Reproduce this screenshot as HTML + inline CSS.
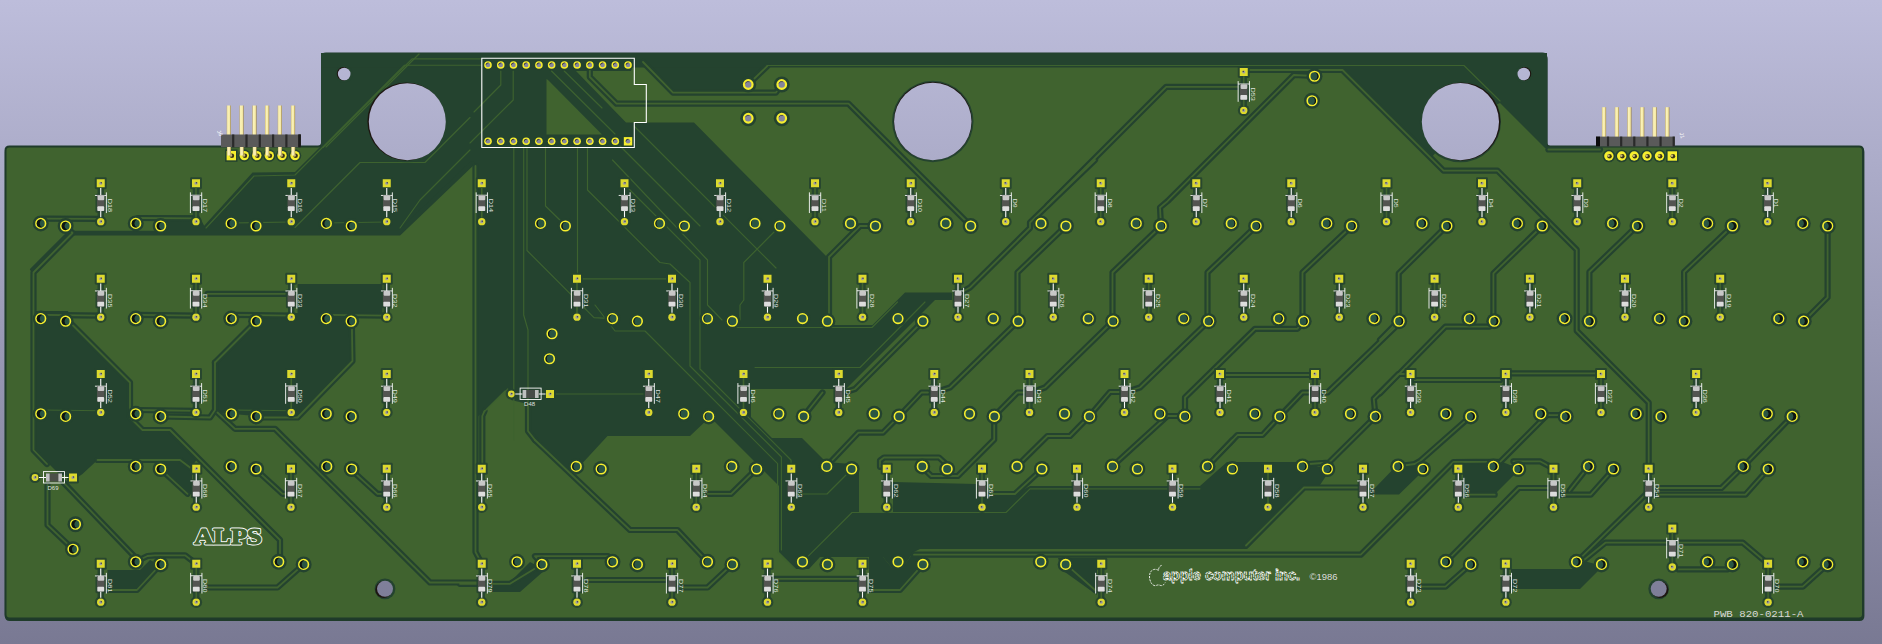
<!DOCTYPE html>
<html lang="en">
<head>
<meta charset="utf-8">
<title>PCB 3D view</title>
<style>
html,body{margin:0;padding:0;background:#797993;}
body{width:1882px;height:644px;overflow:hidden;}
svg{display:block;}
text{white-space:pre;}
</style>
</head>
<body>
<svg width="1882" height="644" viewBox="0 0 1882 644">
<defs><linearGradient id="bg" gradientUnits="userSpaceOnUse" x1="0" y1="0" x2="0" y2="644">
<stop offset="0" stop-color="#bdbddb"/>
<stop offset="1" stop-color="#797993"/>
</linearGradient>
<linearGradient id="pin" x1="0" y1="0" x2="1" y2="0"><stop offset="0" stop-color="#c9b36a"/><stop offset="0.25" stop-color="#fbf3ba"/><stop offset="0.7" stop-color="#f6eaa6"/><stop offset="1" stop-color="#9a8248"/></linearGradient>
</defs>
<rect x="0" y="0" width="1882" height="644" fill="url(#bg)"/>
<path d="M9.5 146.5H318Q322 146.5 322 142.5V57.5Q322 53.5 326 53.5H1542.2Q1546.2 53.5 1546.2 57.5V142.5Q1546.2 146.5 1550.2 146.5H1859Q1863 146.5 1863 150.5V614.5Q1863 618.5 1859 618.5H9.5Q5.5 618.5 5.5 614.5V150.5Q5.5 146.5 9.5 146.5Z" transform="translate(0.4,1.6)" fill="#1f3b2a" stroke="#1f3b2a" stroke-width="2" stroke-linejoin="round"/>
<path d="M9.5 146.5H318Q322 146.5 322 142.5V57.5Q322 53.5 326 53.5H1542.2Q1546.2 53.5 1546.2 57.5V142.5Q1546.2 146.5 1550.2 146.5H1859Q1863 146.5 1863 150.5V614.5Q1863 618.5 1859 618.5H9.5Q5.5 618.5 5.5 614.5V150.5Q5.5 146.5 9.5 146.5Z" fill="#40632f" stroke="#1f3b2a" stroke-width="2" stroke-linejoin="round"/>
<g id="zones">
<polygon points="321.0,53.0 767.0,53.0 767.0,66.0 749.0,84.0 749.0,92.7 673.0,92.7 643.0,62.0 634.0,62.0 631.0,71.0 576.0,71.0 626.0,122.6 694.0,122.6 731.0,160.0 827.5,257.5 828.8,325.0 872.5,325.0 905.0,292.5 952.0,292.5 952.0,300.0 935.0,300.0 846.0,389.0 751.0,389.0 751.0,417.0 772.0,438.0 802.0,438.0 826.0,462.0 851.0,464.0 859.0,466.0 859.0,512.0 893.0,512.0 893.0,482.0 976.0,484.0 976.0,494.0 1016.0,494.0 1030.0,486.0 1200.0,486.0 1227.0,462.0 1302.0,462.0 1330.0,470.0 1320.0,485.0 1305.0,490.0 1247.0,549.0 920.0,549.0 914.0,552.0 902.0,568.0 892.0,568.0 883.0,557.0 820.0,557.0 809.0,569.0 796.0,569.0 779.0,552.0 779.0,486.0 710.0,417.0 690.0,436.0 607.5,436.0 578.0,468.0 570.0,472.0 528.0,431.0 528.0,404.0 511.0,400.0 508.0,388.0 483.0,412.0 474.0,420.0 474.0,162.5 399.0,234.0 203.0,234.0 203.0,227.0 252.5,172.5 295.0,172.0 321.0,146.0" fill="#24432f"/>
<polygon points="321.0,53.0 1547.0,53.0 1547.0,67.5 321.0,67.5" fill="#24432f"/>
<polygon points="1342.0,67.0 1547.0,67.0 1547.0,148.0 1545.0,148.0 1500.0,103.0 1461.0,121.0 1432.0,157.0" fill="#24432f"/>
<polygon points="869.0,557.0 883.0,557.0 892.0,568.0 902.0,568.0 914.0,552.0 930.0,560.0 899.0,589.0 869.0,589.0" fill="#24432f"/>
<polygon points="35.0,311.0 68.0,311.0 72.5,325.0 130.0,382.5 130.0,417.5 142.5,430.0 170.0,430.0 198.0,458.0 192.0,466.0 192.0,494.0 187.0,494.0 163.0,470.0 155.0,460.0 97.5,460.0 82.5,474.0 78.0,477.0 60.0,475.0 35.0,450.0" fill="#24432f"/>
<polygon points="297.5,284.0 382.5,284.0 382.5,313.0 356.0,313.0 352.5,325.0 352.5,361.0 297.5,418.0 260.0,418.0 255.0,416.0 217.5,412.5 215.0,410.0 215.0,362.5 252.5,325.0 256.0,313.0 297.5,313.0" fill="#24432f"/>
<polygon points="150.0,215.5 199.0,215.5 205.0,227.5 203.0,233.0 166.0,233.0 160.0,227.0" fill="#24432f"/>
<polygon points="107.5,570.0 140.0,570.0 150.0,560.0 160.0,565.0 137.5,588.0 107.5,588.0" fill="#24432f"/>
<polygon points="492.0,582.0 510.0,582.0 530.0,562.0 545.0,570.0 520.0,592.0 492.0,592.0" fill="#24432f"/>
<polygon points="1452.0,461.0 1500.0,461.0 1520.0,469.0 1495.0,494.0 1463.0,494.0 1463.0,472.0 1452.0,472.0" fill="#24432f"/>
<polygon points="1511.0,569.0 1572.0,569.0 1580.0,560.0 1603.0,566.0 1580.0,589.0 1511.0,589.0" fill="#24432f"/>
<polygon points="1370.0,489.0 1374.0,489.0 1392.3,470.0 1398.0,462.0 1426.0,468.0 1420.3,473.8 1399.0,494.5 1370.0,494.5" fill="#24432f"/>
<polygon points="1058.0,558.0 1097.0,558.0 1097.0,595.0 1062.0,570.0" fill="#24432f"/>
<polygon points="546.5,79.0 546.5,134.5 602.0,134.5 548.0,80.0" fill="#40632f"/>
</g>
<g id="traces">
<polyline points="72.8,233.2 399.0,233.2 472.0,163.5" fill="none" stroke="#24432f" stroke-width="4.8" stroke-linejoin="round" stroke-linecap="round" />
<polyline points="70.0,231.0 31.5,269.5" fill="none" stroke="#24432f" stroke-width="3.0" stroke-linejoin="round" stroke-linecap="round" />
<polyline points="1238.0,86.8 1166.2,86.8 1047.5,205.5" fill="none" stroke="#24432f" stroke-width="6.2" stroke-linejoin="round" stroke-linecap="round" />
<polyline points="1314.0,76.0 1293.8,75.0 1167.5,201.2 1160.0,207.5 1161.0,226.0 1112.5,272.5 1112.5,321.0" fill="none" stroke="#24432f" stroke-width="6.2" stroke-linejoin="round" stroke-linecap="round" />
<polyline points="1095.0,160.0 1030.0,222.5 1030.0,228.0 970.0,287.5 962.0,292.0" fill="none" stroke="#24432f" stroke-width="6.2" stroke-linejoin="round" stroke-linecap="round" />
<polyline points="1548.4,149.5 1600.0,149.5" fill="none" stroke="#24432f" stroke-width="6.2" stroke-linejoin="round" stroke-linecap="round" />
<polyline points="1248.0,70.0 1342.5,70.0 1443.5,170.6 1497.5,170.6 1576.7,249.8 1576.7,330.7 1648.7,402.7 1648.7,466.0" fill="none" stroke="#24432f" stroke-width="6.2" stroke-linejoin="round" stroke-linecap="round" />
<polyline points="589.8,68.0 589.8,77.0 616.5,103.7 848.5,103.7 970.8,226.0" fill="none" stroke="#24432f" stroke-width="6.2" stroke-linejoin="round" stroke-linecap="round" />
<polyline points="643.0,62.0 673.0,92.7 775.8,92.7 781.8,84.5" fill="none" stroke="#24432f" stroke-width="6.2" stroke-linejoin="round" stroke-linecap="round" />
<polyline points="767.2,66.2 748.2,84.5" fill="none" stroke="#24432f" stroke-width="6.2" stroke-linejoin="round" stroke-linecap="round" />
<polyline points="1065.8,226.0 1017.5,272.5 1017.5,321.0" fill="none" stroke="#24432f" stroke-width="6.2" stroke-linejoin="round" stroke-linecap="round" />
<polyline points="1256.2,226.0 1207.5,272.5 1207.5,321.0" fill="none" stroke="#24432f" stroke-width="6.2" stroke-linejoin="round" stroke-linecap="round" />
<polyline points="1351.8,226.0 1302.5,272.5 1302.5,321.0" fill="none" stroke="#24432f" stroke-width="6.2" stroke-linejoin="round" stroke-linecap="round" />
<polyline points="1446.7,226.0 1398.7,273.4 1398.7,321.0 1380.0,340.0" fill="none" stroke="#24432f" stroke-width="6.2" stroke-linejoin="round" stroke-linecap="round" />
<polyline points="1542.2,226.0 1493.4,273.4 1493.4,321.0" fill="none" stroke="#24432f" stroke-width="6.2" stroke-linejoin="round" stroke-linecap="round" />
<polyline points="1637.1,226.0 1589.4,272.0 1589.4,321.0" fill="none" stroke="#24432f" stroke-width="6.2" stroke-linejoin="round" stroke-linecap="round" />
<polyline points="1732.4,226.0 1684.1,272.0 1684.5,321.0" fill="none" stroke="#24432f" stroke-width="6.2" stroke-linejoin="round" stroke-linecap="round" />
<polyline points="1827.6,226.0 1827.6,297.4 1804.1,321.0" fill="none" stroke="#24432f" stroke-width="6.2" stroke-linejoin="round" stroke-linecap="round" />
<polyline points="875.5,226.0 860.0,226.0 829.0,257.0 829.0,325.0" fill="none" stroke="#24432f" stroke-width="6.2" stroke-linejoin="round" stroke-linecap="round" />
<polyline points="43.0,218.6 100.8,218.9" fill="none" stroke="#24432f" stroke-width="6.2" stroke-linejoin="round" stroke-linecap="round" />
<polyline points="138.0,218.0 196.0,218.3" fill="none" stroke="#24432f" stroke-width="6.2" stroke-linejoin="round" stroke-linecap="round" />
<polyline points="65.5,226.0 72.5,233.0 33.5,272.5 33.5,450.0 47.0,464.0" fill="none" stroke="#24432f" stroke-width="6.2" stroke-linejoin="round" stroke-linecap="round" />
<polyline points="43.0,314.8 100.8,315.6" fill="none" stroke="#24432f" stroke-width="6.2" stroke-linejoin="round" stroke-linecap="round" />
<polyline points="138.0,314.8 196.0,315.6" fill="none" stroke="#24432f" stroke-width="6.2" stroke-linejoin="round" stroke-linecap="round" />
<polyline points="233.5,314.8 291.2,315.6" fill="none" stroke="#24432f" stroke-width="6.2" stroke-linejoin="round" stroke-linecap="round" />
<polyline points="328.5,314.8 386.8,315.6" fill="none" stroke="#24432f" stroke-width="6.2" stroke-linejoin="round" stroke-linecap="round" />
<polyline points="207.5,293.8 285.0,293.8" fill="none" stroke="#24432f" stroke-width="6.2" stroke-linejoin="round" stroke-linecap="round" />
<polyline points="215.0,362.5 215.0,410.0 210.0,417.5 161.0,416.5" fill="none" stroke="#24432f" stroke-width="6.2" stroke-linejoin="round" stroke-linecap="round" />
<polyline points="217.5,412.5 235.0,428.8 275.0,428.8 430.0,582.5 481.0,582.5" fill="none" stroke="#24432f" stroke-width="6.2" stroke-linejoin="round" stroke-linecap="round" />
<polyline points="252.5,325.0 215.0,362.5" fill="none" stroke="#24432f" stroke-width="6.2" stroke-linejoin="round" stroke-linecap="round" />
<polyline points="351.8,321.3 352.5,361.0 297.5,417.5 262.0,417.5" fill="none" stroke="#24432f" stroke-width="6.2" stroke-linejoin="round" stroke-linecap="round" />
<polyline points="138.0,410.0 196.0,410.8" fill="none" stroke="#24432f" stroke-width="6.2" stroke-linejoin="round" stroke-linecap="round" />
<polyline points="72.5,325.0 130.0,382.5 130.0,417.5 142.5,430.0 170.0,430.0 280.0,540.0 280.0,557.5" fill="none" stroke="#24432f" stroke-width="6.2" stroke-linejoin="round" stroke-linecap="round" />
<polyline points="63.0,482.0 133.5,555.5 135.8,561.8 147.5,556.0 155.0,555.3 185.0,555.3 196.2,563.8" fill="none" stroke="#24432f" stroke-width="6.2" stroke-linejoin="round" stroke-linecap="round" />
<polyline points="47.5,485.0 47.5,525.0 73.0,549.2" fill="none" stroke="#24432f" stroke-width="6.2" stroke-linejoin="round" stroke-linecap="round" />
<polyline points="97.5,460.0 180.0,460.0 190.0,467.5" fill="none" stroke="#24432f" stroke-width="6.2" stroke-linejoin="round" stroke-linecap="round" />
<polyline points="160.8,469.2 187.5,493.8" fill="none" stroke="#24432f" stroke-width="6.2" stroke-linejoin="round" stroke-linecap="round" />
<polyline points="257.5,471.0 282.5,493.8 287.0,493.8" fill="none" stroke="#24432f" stroke-width="6.2" stroke-linejoin="round" stroke-linecap="round" />
<polyline points="352.5,471.0 377.5,493.8 383.0,493.8" fill="none" stroke="#24432f" stroke-width="6.2" stroke-linejoin="round" stroke-linecap="round" />
<polyline points="207.5,587.5 277.5,587.5 303.8,564.2" fill="none" stroke="#24432f" stroke-width="6.2" stroke-linejoin="round" stroke-linecap="round" />
<polyline points="107.0,590.0 137.0,590.0 160.8,564.2" fill="none" stroke="#24432f" stroke-width="6.2" stroke-linejoin="round" stroke-linecap="round" />
<polyline points="1018.2,321.0 950.0,387.5 942.0,390.0" fill="none" stroke="#24432f" stroke-width="6.2" stroke-linejoin="round" stroke-linecap="round" />
<polyline points="928.0,392.5 921.5,392.5 899.2,416.2" fill="none" stroke="#24432f" stroke-width="6.2" stroke-linejoin="round" stroke-linecap="round" />
<polyline points="923.0,321.2 855.0,389.0 846.0,392.0" fill="none" stroke="#24432f" stroke-width="6.2" stroke-linejoin="round" stroke-linecap="round" />
<polyline points="1113.2,321.0 1045.0,387.5 1038.0,390.0" fill="none" stroke="#24432f" stroke-width="6.2" stroke-linejoin="round" stroke-linecap="round" />
<polyline points="1025.0,392.5 1017.5,392.5 994.2,416.2 994.2,439.5 957.8,476.0 931.4,476.0 921.4,466.5" fill="none" stroke="#24432f" stroke-width="6.2" stroke-linejoin="round" stroke-linecap="round" />
<polyline points="1208.8,321.0 1140.0,387.5 1132.0,390.0" fill="none" stroke="#24432f" stroke-width="6.2" stroke-linejoin="round" stroke-linecap="round" />
<polyline points="1120.0,392.0 1110.0,392.0 1089.5,416.0 1070.0,436.0 1047.5,436.0 1017.0,466.2" fill="none" stroke="#24432f" stroke-width="6.2" stroke-linejoin="round" stroke-linecap="round" />
<polyline points="1303.8,321.0 1297.5,328.8 1255.0,328.8 1185.0,397.5 1185.0,416.0 1167.5,416.0 1112.5,466.2" fill="none" stroke="#24432f" stroke-width="6.2" stroke-linejoin="round" stroke-linecap="round" />
<polyline points="1220.0,375.0 1315.0,375.0" fill="none" stroke="#24432f" stroke-width="6.2" stroke-linejoin="round" stroke-linecap="round" />
<polyline points="1399.0,323.5 1327.5,392.5 1322.0,392.5" fill="none" stroke="#24432f" stroke-width="6.2" stroke-linejoin="round" stroke-linecap="round" />
<polyline points="1310.0,392.5 1302.5,392.5 1280.0,416.0 1262.5,435.0 1237.5,435.0 1207.5,466.2" fill="none" stroke="#24432f" stroke-width="6.2" stroke-linejoin="round" stroke-linecap="round" />
<polyline points="1410.7,374.0 1398.5,374.0 1373.8,398.8 1375.5,416.4 1329.0,462.5 1302.5,464.5" fill="none" stroke="#24432f" stroke-width="6.2" stroke-linejoin="round" stroke-linecap="round" />
<polyline points="1494.2,321.0 1489.4,326.7 1445.4,326.7 1380.0,393.4" fill="none" stroke="#24432f" stroke-width="6.2" stroke-linejoin="round" stroke-linecap="round" />
<polyline points="1414.7,380.0 1500.0,380.0" fill="none" stroke="#24432f" stroke-width="6.2" stroke-linejoin="round" stroke-linecap="round" />
<polyline points="1505.9,373.4 1600.9,373.4" fill="none" stroke="#24432f" stroke-width="6.2" stroke-linejoin="round" stroke-linecap="round" />
<polyline points="1470.7,416.2 1420.0,461.0 1414.7,464.0 1398.0,466.4" fill="none" stroke="#24432f" stroke-width="6.2" stroke-linejoin="round" stroke-linecap="round" />
<polyline points="1546.7,415.2 1561.4,415.2" fill="none" stroke="#24432f" stroke-width="6.2" stroke-linejoin="round" stroke-linecap="round" />
<polyline points="1792.1,416.2 1743.3,466.4" fill="none" stroke="#24432f" stroke-width="6.2" stroke-linejoin="round" stroke-linecap="round" />
<polyline points="707.5,493.8 731.2,493.8 756.2,469.2" fill="none" stroke="#24432f" stroke-width="6.2" stroke-linejoin="round" stroke-linecap="round" />
<polyline points="535.0,440.0 630.0,530.0 677.5,530.0 707.5,561.8" fill="none" stroke="#24432f" stroke-width="6.2" stroke-linejoin="round" stroke-linecap="round" />
<polyline points="528.0,404.0 528.0,431.0 535.0,440.0" fill="none" stroke="#24432f" stroke-width="6.2" stroke-linejoin="round" stroke-linecap="round" />
<polyline points="475.5,166.0 475.5,552.0 481.8,563.8" fill="none" stroke="#24432f" stroke-width="6.2" stroke-linejoin="round" stroke-linecap="round" />
<polyline points="484.5,411.0 482.3,416.0 482.3,466.0" fill="none" stroke="#24432f" stroke-width="6.2" stroke-linejoin="round" stroke-linecap="round" />
<polyline points="460.0,583.8 510.0,583.8 542.0,564.2" fill="none" stroke="#24432f" stroke-width="6.2" stroke-linejoin="round" stroke-linecap="round" />
<polyline points="542.0,564.2 535.0,556.2 608.0,556.2 612.5,561.8" fill="none" stroke="#24432f" stroke-width="6.2" stroke-linejoin="round" stroke-linecap="round" />
<polyline points="587.5,580.0 665.0,580.0" fill="none" stroke="#24432f" stroke-width="6.2" stroke-linejoin="round" stroke-linecap="round" />
<polyline points="680.0,587.5 707.5,587.5 732.5,564.2" fill="none" stroke="#24432f" stroke-width="6.2" stroke-linejoin="round" stroke-linecap="round" />
<polyline points="775.0,578.8 857.5,578.8" fill="none" stroke="#24432f" stroke-width="6.2" stroke-linejoin="round" stroke-linecap="round" />
<polyline points="870.0,590.0 900.0,590.0 923.0,564.2" fill="none" stroke="#24432f" stroke-width="6.2" stroke-linejoin="round" stroke-linecap="round" />
<polyline points="826.8,466.0 858.4,432.6 883.0,432.6 899.2,416.2" fill="none" stroke="#24432f" stroke-width="6.2" stroke-linejoin="round" stroke-linecap="round" />
<polyline points="822.5,392.5 803.8,416.0" fill="none" stroke="#24432f" stroke-width="6.2" stroke-linejoin="round" stroke-linecap="round" />
<polyline points="880.0,466.8 880.0,460.5 884.0,457.5 939.0,457.5 948.4,466.0" fill="none" stroke="#24432f" stroke-width="6.2" stroke-linejoin="round" stroke-linecap="round" />
<polyline points="990.0,494.0 1015.0,494.0 1042.0,469.2" fill="none" stroke="#24432f" stroke-width="6.2" stroke-linejoin="round" stroke-linecap="round" />
<polyline points="1232.5,440.0 1207.5,466.2" fill="none" stroke="#24432f" stroke-width="6.2" stroke-linejoin="round" stroke-linecap="round" />
<polyline points="1358.0,487.5 1304.0,487.5 1246.0,545.5" fill="none" stroke="#24432f" stroke-width="6.2" stroke-linejoin="round" stroke-linecap="round" />
<polyline points="914.0,554.7 1360.8,554.7 1453.5,462.0 1500.4,461.7 1546.0,416.0" fill="none" stroke="#24432f" stroke-width="6.2" stroke-linejoin="round" stroke-linecap="round" />
<polyline points="1513.4,461.3 1540.0,461.3 1553.4,468.5" fill="none" stroke="#24432f" stroke-width="6.2" stroke-linejoin="round" stroke-linecap="round" />
<polyline points="1561.4,494.7 1590.7,494.7 1613.4,469.3" fill="none" stroke="#24432f" stroke-width="6.2" stroke-linejoin="round" stroke-linecap="round" />
<polyline points="1588.6,466.4 1569.4,490.7" fill="none" stroke="#24432f" stroke-width="6.2" stroke-linejoin="round" stroke-linecap="round" />
<polyline points="1657.4,488.0 1721.4,488.0 1743.3,466.4" fill="none" stroke="#24432f" stroke-width="6.2" stroke-linejoin="round" stroke-linecap="round" />
<polyline points="1657.0,494.7 1745.4,494.7 1768.1,469.3" fill="none" stroke="#24432f" stroke-width="6.2" stroke-linejoin="round" stroke-linecap="round" />
<polyline points="1549.4,488.0 1518.7,488.0 1445.9,561.9" fill="none" stroke="#24432f" stroke-width="6.2" stroke-linejoin="round" stroke-linecap="round" />
<polyline points="1494.7,494.7 1463.0,494.7" fill="none" stroke="#24432f" stroke-width="6.2" stroke-linejoin="round" stroke-linecap="round" />
<polyline points="1420.0,586.7 1445.4,586.7 1470.7,564.3" fill="none" stroke="#24432f" stroke-width="6.2" stroke-linejoin="round" stroke-linecap="round" />
<polyline points="1576.6,561.9 1649.4,490.7" fill="none" stroke="#24432f" stroke-width="6.2" stroke-linejoin="round" stroke-linecap="round" />
<polyline points="1584.0,560.0 1605.4,542.7 1666.7,542.7" fill="none" stroke="#24432f" stroke-width="6.2" stroke-linejoin="round" stroke-linecap="round" />
<polyline points="1678.7,542.7 1742.8,542.7 1768.1,564.0" fill="none" stroke="#24432f" stroke-width="6.2" stroke-linejoin="round" stroke-linecap="round" />
<polyline points="1678.7,569.4 1728.0,569.4 1732.1,564.3" fill="none" stroke="#24432f" stroke-width="6.2" stroke-linejoin="round" stroke-linecap="round" />
<polyline points="1777.4,586.7 1802.8,586.7 1827.6,564.3" fill="none" stroke="#24432f" stroke-width="6.2" stroke-linejoin="round" stroke-linecap="round" />
<polyline points="1065.8,564.2 1095.0,590.0" fill="none" stroke="#24432f" stroke-width="6.2" stroke-linejoin="round" stroke-linecap="round" />
<polyline points="1238.0,86.8 1166.2,86.8 1047.5,205.5" fill="none" stroke="#40632f" stroke-width="1.8" stroke-linejoin="round" stroke-linecap="round" />
<polyline points="1314.0,76.0 1293.8,75.0 1167.5,201.2 1160.0,207.5 1161.0,226.0 1112.5,272.5 1112.5,321.0" fill="none" stroke="#40632f" stroke-width="1.8" stroke-linejoin="round" stroke-linecap="round" />
<polyline points="1095.0,160.0 1030.0,222.5 1030.0,228.0 970.0,287.5 962.0,292.0" fill="none" stroke="#40632f" stroke-width="1.8" stroke-linejoin="round" stroke-linecap="round" />
<polyline points="1548.4,149.5 1600.0,149.5" fill="none" stroke="#40632f" stroke-width="1.8" stroke-linejoin="round" stroke-linecap="round" />
<polyline points="1248.0,70.0 1342.5,70.0 1443.5,170.6 1497.5,170.6 1576.7,249.8 1576.7,330.7 1648.7,402.7 1648.7,466.0" fill="none" stroke="#40632f" stroke-width="1.8" stroke-linejoin="round" stroke-linecap="round" />
<polyline points="589.8,68.0 589.8,77.0 616.5,103.7 848.5,103.7 970.8,226.0" fill="none" stroke="#40632f" stroke-width="1.8" stroke-linejoin="round" stroke-linecap="round" />
<polyline points="643.0,62.0 673.0,92.7 775.8,92.7 781.8,84.5" fill="none" stroke="#40632f" stroke-width="1.8" stroke-linejoin="round" stroke-linecap="round" />
<polyline points="767.2,66.2 748.2,84.5" fill="none" stroke="#40632f" stroke-width="1.8" stroke-linejoin="round" stroke-linecap="round" />
<polyline points="1065.8,226.0 1017.5,272.5 1017.5,321.0" fill="none" stroke="#40632f" stroke-width="1.8" stroke-linejoin="round" stroke-linecap="round" />
<polyline points="1256.2,226.0 1207.5,272.5 1207.5,321.0" fill="none" stroke="#40632f" stroke-width="1.8" stroke-linejoin="round" stroke-linecap="round" />
<polyline points="1351.8,226.0 1302.5,272.5 1302.5,321.0" fill="none" stroke="#40632f" stroke-width="1.8" stroke-linejoin="round" stroke-linecap="round" />
<polyline points="1446.7,226.0 1398.7,273.4 1398.7,321.0 1380.0,340.0" fill="none" stroke="#40632f" stroke-width="1.8" stroke-linejoin="round" stroke-linecap="round" />
<polyline points="1542.2,226.0 1493.4,273.4 1493.4,321.0" fill="none" stroke="#40632f" stroke-width="1.8" stroke-linejoin="round" stroke-linecap="round" />
<polyline points="1637.1,226.0 1589.4,272.0 1589.4,321.0" fill="none" stroke="#40632f" stroke-width="1.8" stroke-linejoin="round" stroke-linecap="round" />
<polyline points="1732.4,226.0 1684.1,272.0 1684.5,321.0" fill="none" stroke="#40632f" stroke-width="1.8" stroke-linejoin="round" stroke-linecap="round" />
<polyline points="1827.6,226.0 1827.6,297.4 1804.1,321.0" fill="none" stroke="#40632f" stroke-width="1.8" stroke-linejoin="round" stroke-linecap="round" />
<polyline points="875.5,226.0 860.0,226.0 829.0,257.0 829.0,325.0" fill="none" stroke="#40632f" stroke-width="1.8" stroke-linejoin="round" stroke-linecap="round" />
<polyline points="43.0,218.6 100.8,218.9" fill="none" stroke="#40632f" stroke-width="1.8" stroke-linejoin="round" stroke-linecap="round" />
<polyline points="138.0,218.0 196.0,218.3" fill="none" stroke="#40632f" stroke-width="1.8" stroke-linejoin="round" stroke-linecap="round" />
<polyline points="65.5,226.0 72.5,233.0 33.5,272.5 33.5,450.0 47.0,464.0" fill="none" stroke="#40632f" stroke-width="1.8" stroke-linejoin="round" stroke-linecap="round" />
<polyline points="43.0,314.8 100.8,315.6" fill="none" stroke="#40632f" stroke-width="1.8" stroke-linejoin="round" stroke-linecap="round" />
<polyline points="138.0,314.8 196.0,315.6" fill="none" stroke="#40632f" stroke-width="1.8" stroke-linejoin="round" stroke-linecap="round" />
<polyline points="233.5,314.8 291.2,315.6" fill="none" stroke="#40632f" stroke-width="1.8" stroke-linejoin="round" stroke-linecap="round" />
<polyline points="328.5,314.8 386.8,315.6" fill="none" stroke="#40632f" stroke-width="1.8" stroke-linejoin="round" stroke-linecap="round" />
<polyline points="207.5,293.8 285.0,293.8" fill="none" stroke="#40632f" stroke-width="1.8" stroke-linejoin="round" stroke-linecap="round" />
<polyline points="215.0,362.5 215.0,410.0 210.0,417.5 161.0,416.5" fill="none" stroke="#40632f" stroke-width="1.8" stroke-linejoin="round" stroke-linecap="round" />
<polyline points="217.5,412.5 235.0,428.8 275.0,428.8 430.0,582.5 481.0,582.5" fill="none" stroke="#40632f" stroke-width="1.8" stroke-linejoin="round" stroke-linecap="round" />
<polyline points="252.5,325.0 215.0,362.5" fill="none" stroke="#40632f" stroke-width="1.8" stroke-linejoin="round" stroke-linecap="round" />
<polyline points="351.8,321.3 352.5,361.0 297.5,417.5 262.0,417.5" fill="none" stroke="#40632f" stroke-width="1.8" stroke-linejoin="round" stroke-linecap="round" />
<polyline points="138.0,410.0 196.0,410.8" fill="none" stroke="#40632f" stroke-width="1.8" stroke-linejoin="round" stroke-linecap="round" />
<polyline points="72.5,325.0 130.0,382.5 130.0,417.5 142.5,430.0 170.0,430.0 280.0,540.0 280.0,557.5" fill="none" stroke="#40632f" stroke-width="1.8" stroke-linejoin="round" stroke-linecap="round" />
<polyline points="63.0,482.0 133.5,555.5 135.8,561.8 147.5,556.0 155.0,555.3 185.0,555.3 196.2,563.8" fill="none" stroke="#40632f" stroke-width="1.8" stroke-linejoin="round" stroke-linecap="round" />
<polyline points="47.5,485.0 47.5,525.0 73.0,549.2" fill="none" stroke="#40632f" stroke-width="1.8" stroke-linejoin="round" stroke-linecap="round" />
<polyline points="97.5,460.0 180.0,460.0 190.0,467.5" fill="none" stroke="#40632f" stroke-width="1.8" stroke-linejoin="round" stroke-linecap="round" />
<polyline points="160.8,469.2 187.5,493.8" fill="none" stroke="#40632f" stroke-width="1.8" stroke-linejoin="round" stroke-linecap="round" />
<polyline points="257.5,471.0 282.5,493.8 287.0,493.8" fill="none" stroke="#40632f" stroke-width="1.8" stroke-linejoin="round" stroke-linecap="round" />
<polyline points="352.5,471.0 377.5,493.8 383.0,493.8" fill="none" stroke="#40632f" stroke-width="1.8" stroke-linejoin="round" stroke-linecap="round" />
<polyline points="207.5,587.5 277.5,587.5 303.8,564.2" fill="none" stroke="#40632f" stroke-width="1.8" stroke-linejoin="round" stroke-linecap="round" />
<polyline points="107.0,590.0 137.0,590.0 160.8,564.2" fill="none" stroke="#40632f" stroke-width="1.8" stroke-linejoin="round" stroke-linecap="round" />
<polyline points="1018.2,321.0 950.0,387.5 942.0,390.0" fill="none" stroke="#40632f" stroke-width="1.8" stroke-linejoin="round" stroke-linecap="round" />
<polyline points="928.0,392.5 921.5,392.5 899.2,416.2" fill="none" stroke="#40632f" stroke-width="1.8" stroke-linejoin="round" stroke-linecap="round" />
<polyline points="923.0,321.2 855.0,389.0 846.0,392.0" fill="none" stroke="#40632f" stroke-width="1.8" stroke-linejoin="round" stroke-linecap="round" />
<polyline points="1113.2,321.0 1045.0,387.5 1038.0,390.0" fill="none" stroke="#40632f" stroke-width="1.8" stroke-linejoin="round" stroke-linecap="round" />
<polyline points="1025.0,392.5 1017.5,392.5 994.2,416.2 994.2,439.5 957.8,476.0 931.4,476.0 921.4,466.5" fill="none" stroke="#40632f" stroke-width="1.8" stroke-linejoin="round" stroke-linecap="round" />
<polyline points="1208.8,321.0 1140.0,387.5 1132.0,390.0" fill="none" stroke="#40632f" stroke-width="1.8" stroke-linejoin="round" stroke-linecap="round" />
<polyline points="1120.0,392.0 1110.0,392.0 1089.5,416.0 1070.0,436.0 1047.5,436.0 1017.0,466.2" fill="none" stroke="#40632f" stroke-width="1.8" stroke-linejoin="round" stroke-linecap="round" />
<polyline points="1303.8,321.0 1297.5,328.8 1255.0,328.8 1185.0,397.5 1185.0,416.0 1167.5,416.0 1112.5,466.2" fill="none" stroke="#40632f" stroke-width="1.8" stroke-linejoin="round" stroke-linecap="round" />
<polyline points="1220.0,375.0 1315.0,375.0" fill="none" stroke="#40632f" stroke-width="1.8" stroke-linejoin="round" stroke-linecap="round" />
<polyline points="1399.0,323.5 1327.5,392.5 1322.0,392.5" fill="none" stroke="#40632f" stroke-width="1.8" stroke-linejoin="round" stroke-linecap="round" />
<polyline points="1310.0,392.5 1302.5,392.5 1280.0,416.0 1262.5,435.0 1237.5,435.0 1207.5,466.2" fill="none" stroke="#40632f" stroke-width="1.8" stroke-linejoin="round" stroke-linecap="round" />
<polyline points="1410.7,374.0 1398.5,374.0 1373.8,398.8 1375.5,416.4 1329.0,462.5 1302.5,464.5" fill="none" stroke="#40632f" stroke-width="1.8" stroke-linejoin="round" stroke-linecap="round" />
<polyline points="1494.2,321.0 1489.4,326.7 1445.4,326.7 1380.0,393.4" fill="none" stroke="#40632f" stroke-width="1.8" stroke-linejoin="round" stroke-linecap="round" />
<polyline points="1414.7,380.0 1500.0,380.0" fill="none" stroke="#40632f" stroke-width="1.8" stroke-linejoin="round" stroke-linecap="round" />
<polyline points="1505.9,373.4 1600.9,373.4" fill="none" stroke="#40632f" stroke-width="1.8" stroke-linejoin="round" stroke-linecap="round" />
<polyline points="1470.7,416.2 1420.0,461.0 1414.7,464.0 1398.0,466.4" fill="none" stroke="#40632f" stroke-width="1.8" stroke-linejoin="round" stroke-linecap="round" />
<polyline points="1546.7,415.2 1561.4,415.2" fill="none" stroke="#40632f" stroke-width="1.8" stroke-linejoin="round" stroke-linecap="round" />
<polyline points="1792.1,416.2 1743.3,466.4" fill="none" stroke="#40632f" stroke-width="1.8" stroke-linejoin="round" stroke-linecap="round" />
<polyline points="707.5,493.8 731.2,493.8 756.2,469.2" fill="none" stroke="#40632f" stroke-width="1.8" stroke-linejoin="round" stroke-linecap="round" />
<polyline points="535.0,440.0 630.0,530.0 677.5,530.0 707.5,561.8" fill="none" stroke="#40632f" stroke-width="1.8" stroke-linejoin="round" stroke-linecap="round" />
<polyline points="528.0,404.0 528.0,431.0 535.0,440.0" fill="none" stroke="#40632f" stroke-width="1.8" stroke-linejoin="round" stroke-linecap="round" />
<polyline points="475.5,166.0 475.5,552.0 481.8,563.8" fill="none" stroke="#40632f" stroke-width="1.8" stroke-linejoin="round" stroke-linecap="round" />
<polyline points="484.5,411.0 482.3,416.0 482.3,466.0" fill="none" stroke="#40632f" stroke-width="1.8" stroke-linejoin="round" stroke-linecap="round" />
<polyline points="460.0,583.8 510.0,583.8 542.0,564.2" fill="none" stroke="#40632f" stroke-width="1.8" stroke-linejoin="round" stroke-linecap="round" />
<polyline points="542.0,564.2 535.0,556.2 608.0,556.2 612.5,561.8" fill="none" stroke="#40632f" stroke-width="1.8" stroke-linejoin="round" stroke-linecap="round" />
<polyline points="587.5,580.0 665.0,580.0" fill="none" stroke="#40632f" stroke-width="1.8" stroke-linejoin="round" stroke-linecap="round" />
<polyline points="680.0,587.5 707.5,587.5 732.5,564.2" fill="none" stroke="#40632f" stroke-width="1.8" stroke-linejoin="round" stroke-linecap="round" />
<polyline points="775.0,578.8 857.5,578.8" fill="none" stroke="#40632f" stroke-width="1.8" stroke-linejoin="round" stroke-linecap="round" />
<polyline points="870.0,590.0 900.0,590.0 923.0,564.2" fill="none" stroke="#40632f" stroke-width="1.8" stroke-linejoin="round" stroke-linecap="round" />
<polyline points="826.8,466.0 858.4,432.6 883.0,432.6 899.2,416.2" fill="none" stroke="#40632f" stroke-width="1.8" stroke-linejoin="round" stroke-linecap="round" />
<polyline points="822.5,392.5 803.8,416.0" fill="none" stroke="#40632f" stroke-width="1.8" stroke-linejoin="round" stroke-linecap="round" />
<polyline points="880.0,466.8 880.0,460.5 884.0,457.5 939.0,457.5 948.4,466.0" fill="none" stroke="#40632f" stroke-width="1.8" stroke-linejoin="round" stroke-linecap="round" />
<polyline points="990.0,494.0 1015.0,494.0 1042.0,469.2" fill="none" stroke="#40632f" stroke-width="1.8" stroke-linejoin="round" stroke-linecap="round" />
<polyline points="1232.5,440.0 1207.5,466.2" fill="none" stroke="#40632f" stroke-width="1.8" stroke-linejoin="round" stroke-linecap="round" />
<polyline points="1358.0,487.5 1304.0,487.5 1246.0,545.5" fill="none" stroke="#40632f" stroke-width="1.8" stroke-linejoin="round" stroke-linecap="round" />
<polyline points="914.0,554.7 1360.8,554.7 1453.5,462.0 1500.4,461.7 1546.0,416.0" fill="none" stroke="#40632f" stroke-width="1.8" stroke-linejoin="round" stroke-linecap="round" />
<polyline points="1513.4,461.3 1540.0,461.3 1553.4,468.5" fill="none" stroke="#40632f" stroke-width="1.8" stroke-linejoin="round" stroke-linecap="round" />
<polyline points="1561.4,494.7 1590.7,494.7 1613.4,469.3" fill="none" stroke="#40632f" stroke-width="1.8" stroke-linejoin="round" stroke-linecap="round" />
<polyline points="1588.6,466.4 1569.4,490.7" fill="none" stroke="#40632f" stroke-width="1.8" stroke-linejoin="round" stroke-linecap="round" />
<polyline points="1657.4,488.0 1721.4,488.0 1743.3,466.4" fill="none" stroke="#40632f" stroke-width="1.8" stroke-linejoin="round" stroke-linecap="round" />
<polyline points="1657.0,494.7 1745.4,494.7 1768.1,469.3" fill="none" stroke="#40632f" stroke-width="1.8" stroke-linejoin="round" stroke-linecap="round" />
<polyline points="1549.4,488.0 1518.7,488.0 1445.9,561.9" fill="none" stroke="#40632f" stroke-width="1.8" stroke-linejoin="round" stroke-linecap="round" />
<polyline points="1494.7,494.7 1463.0,494.7" fill="none" stroke="#40632f" stroke-width="1.8" stroke-linejoin="round" stroke-linecap="round" />
<polyline points="1420.0,586.7 1445.4,586.7 1470.7,564.3" fill="none" stroke="#40632f" stroke-width="1.8" stroke-linejoin="round" stroke-linecap="round" />
<polyline points="1576.6,561.9 1649.4,490.7" fill="none" stroke="#40632f" stroke-width="1.8" stroke-linejoin="round" stroke-linecap="round" />
<polyline points="1584.0,560.0 1605.4,542.7 1666.7,542.7" fill="none" stroke="#40632f" stroke-width="1.8" stroke-linejoin="round" stroke-linecap="round" />
<polyline points="1678.7,542.7 1742.8,542.7 1768.1,564.0" fill="none" stroke="#40632f" stroke-width="1.8" stroke-linejoin="round" stroke-linecap="round" />
<polyline points="1678.7,569.4 1728.0,569.4 1732.1,564.3" fill="none" stroke="#40632f" stroke-width="1.8" stroke-linejoin="round" stroke-linecap="round" />
<polyline points="1777.4,586.7 1802.8,586.7 1827.6,564.3" fill="none" stroke="#40632f" stroke-width="1.8" stroke-linejoin="round" stroke-linecap="round" />
<polyline points="1065.8,564.2 1095.0,590.0" fill="none" stroke="#40632f" stroke-width="1.8" stroke-linejoin="round" stroke-linecap="round" />
<polyline points="767.0,65.5 1464.0,65.5 1500.0,101.0" fill="none" stroke="#3d622f" stroke-width="1.15" stroke-linejoin="round" stroke-linecap="round" />
<polyline points="634.0,126.0 776.0,268.0" fill="none" stroke="#3d622f" stroke-width="1.15" stroke-linejoin="round" stroke-linecap="round" />
<polyline points="620.0,146.0 700.0,226.0" fill="none" stroke="#3d622f" stroke-width="1.15" stroke-linejoin="round" stroke-linecap="round" />
<polyline points="513.8,147.0 513.8,440.0" fill="none" stroke="#3d622f" stroke-width="1.15" stroke-linejoin="round" stroke-linecap="round" />
<polyline points="523.7,147.0 523.7,315.0 528.0,330.0 528.0,404.0" fill="none" stroke="#3d622f" stroke-width="1.15" stroke-linejoin="round" stroke-linecap="round" />
<polyline points="527.0,147.0 527.0,250.5 594.0,317.6 612.0,318.6" fill="none" stroke="#3d622f" stroke-width="1.15" stroke-linejoin="round" stroke-linecap="round" />
<polyline points="545.5,147.0 545.5,206.0 565.0,225.0" fill="none" stroke="#3d622f" stroke-width="1.15" stroke-linejoin="round" stroke-linecap="round" />
<polyline points="577.5,147.0 577.5,278.0" fill="none" stroke="#3d622f" stroke-width="1.15" stroke-linejoin="round" stroke-linecap="round" />
<polyline points="577.0,278.8 672.0,278.8" fill="none" stroke="#3d622f" stroke-width="1.15" stroke-linejoin="round" stroke-linecap="round" />
<polyline points="730.0,327.5 872.0,327.5 897.5,302.0" fill="none" stroke="#3d622f" stroke-width="1.15" stroke-linejoin="round" stroke-linecap="round" />
<polyline points="755.0,367.5 860.0,367.5 925.0,302.0" fill="none" stroke="#3d622f" stroke-width="1.15" stroke-linejoin="round" stroke-linecap="round" />
<polyline points="550.0,394.0 648.0,394.0" fill="none" stroke="#3d622f" stroke-width="1.15" stroke-linejoin="round" stroke-linecap="round" />
<polyline points="511.2,394.0 505.0,391.0 483.5,412.5" fill="none" stroke="#3d622f" stroke-width="1.15" stroke-linejoin="round" stroke-linecap="round" />
<polyline points="802.5,561.8 852.0,512.5 1006.0,512.5 1030.0,488.8 1200.0,488.8" fill="none" stroke="#3d622f" stroke-width="1.15" stroke-linejoin="round" stroke-linecap="round" />
<polyline points="796.0,494.0 827.0,494.0 851.0,470.0" fill="none" stroke="#3d622f" stroke-width="1.15" stroke-linejoin="round" stroke-linecap="round" />
<polyline points="43.0,410.0 100.8,410.8" fill="none" stroke="#3d622f" stroke-width="1.15" stroke-linejoin="round" stroke-linecap="round" />
<polyline points="233.5,410.0 291.2,410.8" fill="none" stroke="#3d622f" stroke-width="1.15" stroke-linejoin="round" stroke-linecap="round" />
<polyline points="295.0,227.5 360.0,162.5 425.0,162.5 470.0,117.5" fill="none" stroke="#3d622f" stroke-width="1.15" stroke-linejoin="round" stroke-linecap="round" />
<polyline points="481.0,58.8 412.0,58.8 323.0,147.5" fill="none" stroke="#3d622f" stroke-width="1.15" stroke-linejoin="round" stroke-linecap="round" />
<polyline points="419.0,54.0 326.0,147.0" fill="none" stroke="#3d622f" stroke-width="1.15" stroke-linejoin="round" stroke-linecap="round" />
<polyline points="481.0,65.2 404.5,65.2 295.0,175.0 254.0,176.0 206.0,228.0" fill="none" stroke="#3d622f" stroke-width="1.15" stroke-linejoin="round" stroke-linecap="round" />
<polyline points="470.0,150.0 420.0,200.0 400.0,228.0" fill="none" stroke="#3d622f" stroke-width="1.15" stroke-linejoin="round" stroke-linecap="round" />
<polyline points="587.5,147.0 587.5,190.0 660.0,262.5 670.0,264.0 690.0,282.5 690.0,366.0 781.4,457.0 781.4,550.0" fill="none" stroke="#3d622f" stroke-width="1.15" stroke-linejoin="round" stroke-linecap="round" />
<polyline points="612.5,160.0 707.5,260.0 707.5,305.0 722.0,320.0" fill="none" stroke="#3d622f" stroke-width="1.15" stroke-linejoin="round" stroke-linecap="round" />
<polyline points="625.0,185.0 700.0,260.0 700.0,369.0 791.0,460.0 791.2,465.0" fill="none" stroke="#3d622f" stroke-width="1.15" stroke-linejoin="round" stroke-linecap="round" />
<polyline points="780.5,225.5 743.8,262.5 743.8,300.0 740.0,305.0 740.0,320.0" fill="none" stroke="#3d622f" stroke-width="1.15" stroke-linejoin="round" stroke-linecap="round" />
<polyline points="595.0,305.0 615.0,331.0 645.0,331.0 777.6,463.6 777.6,552.0 795.0,569.0" fill="none" stroke="#3d622f" stroke-width="1.15" stroke-linejoin="round" stroke-linecap="round" />
<polyline points="500.8,71.0 500.8,85.0 474.0,112.0" fill="none" stroke="#3d622f" stroke-width="1.15" stroke-linejoin="round" stroke-linecap="round" />
<polyline points="513.2,71.0 513.2,100.0 470.0,143.0" fill="none" stroke="#3d622f" stroke-width="1.15" stroke-linejoin="round" stroke-linecap="round" />
<polyline points="526.0,141.0 526.0,147.0" fill="none" stroke="#3d622f" stroke-width="1.15" stroke-linejoin="round" stroke-linecap="round" />
<polyline points="551.5,71.0 615.0,134.0" fill="none" stroke="#3d622f" stroke-width="1.15" stroke-linejoin="round" stroke-linecap="round" />
<polyline points="564.2,71.0 602.0,108.0" fill="none" stroke="#3d622f" stroke-width="1.15" stroke-linejoin="round" stroke-linecap="round" />
<polyline points="231.0,223.0 291.0,222.0" fill="none" stroke="#3d622f" stroke-width="1.15" stroke-linejoin="round" stroke-linecap="round" />
<polyline points="326.0,223.0 386.0,222.0" fill="none" stroke="#3d622f" stroke-width="1.15" stroke-linejoin="round" stroke-linecap="round" />
</g>
<g id="holes">
<circle cx="407.3" cy="121.8" r="40.5" fill="#24432f"/>
<circle cx="406.3" cy="121.5" r="38.9" fill="#1d1510"/>
<circle cx="407.3" cy="121.8" r="38.5" fill="url(#bg)"/>
<circle cx="932.8" cy="121.5" r="40.7" fill="#24432f"/>
<circle cx="932.8" cy="121.0" r="39.1" fill="#1d1510"/>
<circle cx="932.8" cy="121.5" r="38.7" fill="url(#bg)"/>
<circle cx="1460.4" cy="121.7" r="40.6" fill="#24432f"/>
<circle cx="1461.4" cy="121.4" r="39.0" fill="#1d1510"/>
<circle cx="1460.4" cy="121.7" r="38.6" fill="url(#bg)"/>
<circle cx="344.2" cy="74.0" r="8.7" fill="#24432f"/>
<circle cx="343.4" cy="73.8" r="6.7" fill="#1d1510"/>
<circle cx="344.2" cy="74.0" r="6.3" fill="url(#bg)"/>
<circle cx="1523.8" cy="74.0" r="8.7" fill="#24432f"/>
<circle cx="1524.6" cy="73.8" r="6.7" fill="#1d1510"/>
<circle cx="1523.8" cy="74.0" r="6.3" fill="url(#bg)"/>
<circle cx="385.0" cy="588.8" r="10.4" fill="#24432f"/>
<circle cx="383.7" cy="589.6" r="8.4" fill="#1d1510"/>
<circle cx="385.0" cy="588.8" r="8.0" fill="url(#bg)"/>
<circle cx="1658.7" cy="588.8" r="10.4" fill="#24432f"/>
<circle cx="1660.0" cy="589.6" r="8.4" fill="#1d1510"/>
<circle cx="1658.7" cy="588.8" r="8.0" fill="url(#bg)"/>
</g>
<g id="pads">
<circle cx="40.75" cy="223.40" r="8" fill="#24432f"/>
<circle cx="65.65" cy="226.00" r="8" fill="#24432f"/>
<circle cx="135.75" cy="223.40" r="8" fill="#24432f"/>
<circle cx="160.65" cy="226.00" r="8" fill="#24432f"/>
<circle cx="231.10" cy="223.40" r="8" fill="#24432f"/>
<circle cx="256.00" cy="226.00" r="8" fill="#24432f"/>
<circle cx="326.40" cy="223.40" r="8" fill="#24432f"/>
<circle cx="351.30" cy="226.00" r="8" fill="#24432f"/>
<circle cx="540.50" cy="223.40" r="8" fill="#24432f"/>
<circle cx="565.40" cy="226.00" r="8" fill="#24432f"/>
<circle cx="659.50" cy="223.40" r="8" fill="#24432f"/>
<circle cx="684.40" cy="226.00" r="8" fill="#24432f"/>
<circle cx="755.00" cy="223.40" r="8" fill="#24432f"/>
<circle cx="779.90" cy="226.00" r="8" fill="#24432f"/>
<circle cx="850.50" cy="223.40" r="8" fill="#24432f"/>
<circle cx="875.40" cy="226.00" r="8" fill="#24432f"/>
<circle cx="945.75" cy="223.40" r="8" fill="#24432f"/>
<circle cx="970.65" cy="226.00" r="8" fill="#24432f"/>
<circle cx="1041.00" cy="223.40" r="8" fill="#24432f"/>
<circle cx="1065.90" cy="226.00" r="8" fill="#24432f"/>
<circle cx="1136.25" cy="223.40" r="8" fill="#24432f"/>
<circle cx="1161.15" cy="226.00" r="8" fill="#24432f"/>
<circle cx="1231.25" cy="223.40" r="8" fill="#24432f"/>
<circle cx="1256.15" cy="226.00" r="8" fill="#24432f"/>
<circle cx="1326.75" cy="223.40" r="8" fill="#24432f"/>
<circle cx="1351.65" cy="226.00" r="8" fill="#24432f"/>
<circle cx="1422.00" cy="223.40" r="8" fill="#24432f"/>
<circle cx="1446.90" cy="226.00" r="8" fill="#24432f"/>
<circle cx="1517.40" cy="223.40" r="8" fill="#24432f"/>
<circle cx="1542.30" cy="226.00" r="8" fill="#24432f"/>
<circle cx="1612.60" cy="223.40" r="8" fill="#24432f"/>
<circle cx="1637.50" cy="226.00" r="8" fill="#24432f"/>
<circle cx="1707.60" cy="223.40" r="8" fill="#24432f"/>
<circle cx="1732.50" cy="226.00" r="8" fill="#24432f"/>
<circle cx="1802.80" cy="223.40" r="8" fill="#24432f"/>
<circle cx="1827.70" cy="226.00" r="8" fill="#24432f"/>
<circle cx="40.75" cy="318.60" r="8" fill="#24432f"/>
<circle cx="65.65" cy="321.20" r="8" fill="#24432f"/>
<circle cx="135.75" cy="318.60" r="8" fill="#24432f"/>
<circle cx="160.65" cy="321.20" r="8" fill="#24432f"/>
<circle cx="231.25" cy="318.60" r="8" fill="#24432f"/>
<circle cx="256.15" cy="321.20" r="8" fill="#24432f"/>
<circle cx="326.25" cy="318.60" r="8" fill="#24432f"/>
<circle cx="351.15" cy="321.20" r="8" fill="#24432f"/>
<circle cx="612.50" cy="318.60" r="8" fill="#24432f"/>
<circle cx="637.40" cy="321.20" r="8" fill="#24432f"/>
<circle cx="707.50" cy="318.60" r="8" fill="#24432f"/>
<circle cx="732.40" cy="321.20" r="8" fill="#24432f"/>
<circle cx="802.50" cy="318.60" r="8" fill="#24432f"/>
<circle cx="827.40" cy="321.20" r="8" fill="#24432f"/>
<circle cx="898.00" cy="318.60" r="8" fill="#24432f"/>
<circle cx="922.90" cy="321.20" r="8" fill="#24432f"/>
<circle cx="993.25" cy="318.60" r="8" fill="#24432f"/>
<circle cx="1018.15" cy="321.20" r="8" fill="#24432f"/>
<circle cx="1088.25" cy="318.60" r="8" fill="#24432f"/>
<circle cx="1113.15" cy="321.20" r="8" fill="#24432f"/>
<circle cx="1183.75" cy="318.60" r="8" fill="#24432f"/>
<circle cx="1208.65" cy="321.20" r="8" fill="#24432f"/>
<circle cx="1278.75" cy="318.60" r="8" fill="#24432f"/>
<circle cx="1303.65" cy="321.20" r="8" fill="#24432f"/>
<circle cx="1374.25" cy="318.60" r="8" fill="#24432f"/>
<circle cx="1399.15" cy="321.20" r="8" fill="#24432f"/>
<circle cx="1469.40" cy="318.60" r="8" fill="#24432f"/>
<circle cx="1494.30" cy="321.20" r="8" fill="#24432f"/>
<circle cx="1564.60" cy="318.60" r="8" fill="#24432f"/>
<circle cx="1589.50" cy="321.20" r="8" fill="#24432f"/>
<circle cx="1659.50" cy="318.60" r="8" fill="#24432f"/>
<circle cx="1684.40" cy="321.20" r="8" fill="#24432f"/>
<circle cx="1778.80" cy="318.60" r="8" fill="#24432f"/>
<circle cx="1803.70" cy="321.20" r="8" fill="#24432f"/>
<circle cx="40.75" cy="413.80" r="8" fill="#24432f"/>
<circle cx="65.65" cy="416.40" r="8" fill="#24432f"/>
<circle cx="135.75" cy="413.80" r="8" fill="#24432f"/>
<circle cx="160.65" cy="416.40" r="8" fill="#24432f"/>
<circle cx="231.25" cy="413.80" r="8" fill="#24432f"/>
<circle cx="256.15" cy="416.40" r="8" fill="#24432f"/>
<circle cx="326.25" cy="413.80" r="8" fill="#24432f"/>
<circle cx="351.15" cy="416.40" r="8" fill="#24432f"/>
<circle cx="683.75" cy="413.80" r="8" fill="#24432f"/>
<circle cx="708.65" cy="416.40" r="8" fill="#24432f"/>
<circle cx="778.75" cy="413.80" r="8" fill="#24432f"/>
<circle cx="803.65" cy="416.40" r="8" fill="#24432f"/>
<circle cx="874.25" cy="413.80" r="8" fill="#24432f"/>
<circle cx="899.15" cy="416.40" r="8" fill="#24432f"/>
<circle cx="969.50" cy="413.80" r="8" fill="#24432f"/>
<circle cx="994.40" cy="416.40" r="8" fill="#24432f"/>
<circle cx="1064.50" cy="413.80" r="8" fill="#24432f"/>
<circle cx="1089.40" cy="416.40" r="8" fill="#24432f"/>
<circle cx="1160.00" cy="413.80" r="8" fill="#24432f"/>
<circle cx="1184.90" cy="416.40" r="8" fill="#24432f"/>
<circle cx="1255.00" cy="413.80" r="8" fill="#24432f"/>
<circle cx="1279.90" cy="416.40" r="8" fill="#24432f"/>
<circle cx="1350.50" cy="413.80" r="8" fill="#24432f"/>
<circle cx="1375.40" cy="416.40" r="8" fill="#24432f"/>
<circle cx="1445.90" cy="413.80" r="8" fill="#24432f"/>
<circle cx="1470.80" cy="416.40" r="8" fill="#24432f"/>
<circle cx="1540.80" cy="413.80" r="8" fill="#24432f"/>
<circle cx="1565.70" cy="416.40" r="8" fill="#24432f"/>
<circle cx="1636.10" cy="413.80" r="8" fill="#24432f"/>
<circle cx="1661.00" cy="416.40" r="8" fill="#24432f"/>
<circle cx="1767.30" cy="413.80" r="8" fill="#24432f"/>
<circle cx="1792.20" cy="416.40" r="8" fill="#24432f"/>
<circle cx="135.75" cy="466.40" r="8" fill="#24432f"/>
<circle cx="160.65" cy="469.00" r="8" fill="#24432f"/>
<circle cx="231.25" cy="466.40" r="8" fill="#24432f"/>
<circle cx="256.15" cy="469.00" r="8" fill="#24432f"/>
<circle cx="326.75" cy="466.40" r="8" fill="#24432f"/>
<circle cx="351.65" cy="469.00" r="8" fill="#24432f"/>
<circle cx="576.25" cy="466.40" r="8" fill="#24432f"/>
<circle cx="601.15" cy="469.00" r="8" fill="#24432f"/>
<circle cx="731.75" cy="466.40" r="8" fill="#24432f"/>
<circle cx="756.65" cy="469.00" r="8" fill="#24432f"/>
<circle cx="826.75" cy="466.40" r="8" fill="#24432f"/>
<circle cx="851.65" cy="469.00" r="8" fill="#24432f"/>
<circle cx="922.25" cy="466.40" r="8" fill="#24432f"/>
<circle cx="947.15" cy="469.00" r="8" fill="#24432f"/>
<circle cx="1017.00" cy="466.40" r="8" fill="#24432f"/>
<circle cx="1041.90" cy="469.00" r="8" fill="#24432f"/>
<circle cx="1112.50" cy="466.40" r="8" fill="#24432f"/>
<circle cx="1137.40" cy="469.00" r="8" fill="#24432f"/>
<circle cx="1207.50" cy="466.40" r="8" fill="#24432f"/>
<circle cx="1232.40" cy="469.00" r="8" fill="#24432f"/>
<circle cx="1302.50" cy="466.40" r="8" fill="#24432f"/>
<circle cx="1327.40" cy="469.00" r="8" fill="#24432f"/>
<circle cx="1398.10" cy="466.40" r="8" fill="#24432f"/>
<circle cx="1423.00" cy="469.00" r="8" fill="#24432f"/>
<circle cx="1493.40" cy="466.40" r="8" fill="#24432f"/>
<circle cx="1518.30" cy="469.00" r="8" fill="#24432f"/>
<circle cx="1588.60" cy="466.40" r="8" fill="#24432f"/>
<circle cx="1613.50" cy="469.00" r="8" fill="#24432f"/>
<circle cx="1743.30" cy="466.40" r="8" fill="#24432f"/>
<circle cx="1768.20" cy="469.00" r="8" fill="#24432f"/>
<circle cx="135.75" cy="561.80" r="8" fill="#24432f"/>
<circle cx="160.65" cy="564.40" r="8" fill="#24432f"/>
<circle cx="278.75" cy="561.80" r="8" fill="#24432f"/>
<circle cx="303.65" cy="564.40" r="8" fill="#24432f"/>
<circle cx="517.00" cy="561.80" r="8" fill="#24432f"/>
<circle cx="541.90" cy="564.40" r="8" fill="#24432f"/>
<circle cx="612.50" cy="561.80" r="8" fill="#24432f"/>
<circle cx="637.40" cy="564.40" r="8" fill="#24432f"/>
<circle cx="707.50" cy="561.80" r="8" fill="#24432f"/>
<circle cx="732.40" cy="564.40" r="8" fill="#24432f"/>
<circle cx="802.50" cy="561.80" r="8" fill="#24432f"/>
<circle cx="827.40" cy="564.40" r="8" fill="#24432f"/>
<circle cx="898.00" cy="561.80" r="8" fill="#24432f"/>
<circle cx="922.90" cy="564.40" r="8" fill="#24432f"/>
<circle cx="1040.75" cy="561.80" r="8" fill="#24432f"/>
<circle cx="1065.65" cy="564.40" r="8" fill="#24432f"/>
<circle cx="1445.90" cy="561.80" r="8" fill="#24432f"/>
<circle cx="1470.80" cy="564.40" r="8" fill="#24432f"/>
<circle cx="1576.60" cy="561.80" r="8" fill="#24432f"/>
<circle cx="1601.50" cy="564.40" r="8" fill="#24432f"/>
<circle cx="1707.60" cy="561.80" r="8" fill="#24432f"/>
<circle cx="1732.50" cy="564.40" r="8" fill="#24432f"/>
<circle cx="1802.80" cy="561.80" r="8" fill="#24432f"/>
<circle cx="1827.70" cy="564.40" r="8" fill="#24432f"/>
<circle cx="552.00" cy="333.75" r="8" fill="#24432f"/>
<circle cx="549.50" cy="358.75" r="8" fill="#24432f"/>
<circle cx="75.50" cy="524.25" r="8" fill="#24432f"/>
<circle cx="73.00" cy="549.25" r="8" fill="#24432f"/>
<circle cx="1314.50" cy="76.25" r="8" fill="#24432f"/>
<circle cx="1312.00" cy="100.75" r="8" fill="#24432f"/>
<circle cx="748.25" cy="84.50" r="8" fill="#24432f"/>
<circle cx="781.75" cy="84.50" r="8" fill="#24432f"/>
<circle cx="748.25" cy="118.25" r="8" fill="#24432f"/>
<circle cx="781.75" cy="118.25" r="8" fill="#24432f"/>
<circle cx="40.75" cy="223.40" r="4.8" fill="#2a5543" stroke="#f7ef2e" stroke-width="1.6"/>
<path d="M42.28 219.60A4.1 4.1 0 1 0 42.28 227.20A4.1 4.1 0 0 1 42.28 219.60Z" fill="#0e140f"/>
<circle cx="65.65" cy="226.00" r="4.8" fill="#2a5543" stroke="#f7ef2e" stroke-width="1.6"/>
<path d="M67.14 222.18A4.1 4.1 0 1 0 67.14 229.82A4.1 4.1 0 0 1 67.14 222.18Z" fill="#0e140f"/>
<circle cx="135.75" cy="223.40" r="4.8" fill="#2a5543" stroke="#f7ef2e" stroke-width="1.6"/>
<path d="M137.12 219.54A4.1 4.1 0 1 0 137.12 227.26A4.1 4.1 0 0 1 137.12 219.54Z" fill="#0e140f"/>
<circle cx="160.65" cy="226.00" r="4.8" fill="#2a5543" stroke="#f7ef2e" stroke-width="1.6"/>
<path d="M161.98 222.12A4.1 4.1 0 1 0 161.98 229.88A4.1 4.1 0 0 1 161.98 222.12Z" fill="#0e140f"/>
<circle cx="231.10" cy="223.40" r="4.8" fill="#2a5543" stroke="#f7ef2e" stroke-width="1.6"/>
<path d="M232.31 219.48A4.1 4.1 0 1 0 232.31 227.32A4.1 4.1 0 0 1 232.31 219.48Z" fill="#0e140f"/>
<circle cx="256.00" cy="226.00" r="4.8" fill="#2a5543" stroke="#f7ef2e" stroke-width="1.6"/>
<path d="M257.16 222.07A4.1 4.1 0 1 0 257.16 229.93A4.1 4.1 0 0 1 257.16 222.07Z" fill="#0e140f"/>
<circle cx="326.40" cy="223.40" r="4.8" fill="#2a5543" stroke="#f7ef2e" stroke-width="1.6"/>
<path d="M327.45 219.44A4.1 4.1 0 1 0 327.45 227.36A4.1 4.1 0 0 1 327.45 219.44Z" fill="#0e140f"/>
<circle cx="351.30" cy="226.00" r="4.8" fill="#2a5543" stroke="#f7ef2e" stroke-width="1.6"/>
<path d="M352.30 222.02A4.1 4.1 0 1 0 352.30 229.98A4.1 4.1 0 0 1 352.30 222.02Z" fill="#0e140f"/>
<circle cx="540.50" cy="223.40" r="4.8" fill="#2a5543" stroke="#f7ef2e" stroke-width="1.6"/>
<path d="M541.18 219.36A4.1 4.1 0 1 0 541.18 227.44A4.1 4.1 0 0 1 541.18 219.36Z" fill="#0e140f"/>
<circle cx="565.40" cy="226.00" r="4.8" fill="#2a5543" stroke="#f7ef2e" stroke-width="1.6"/>
<path d="M566.04 221.95A4.1 4.1 0 1 0 566.04 230.05A4.1 4.1 0 0 1 566.04 221.95Z" fill="#0e140f"/>
<circle cx="659.50" cy="223.40" r="4.8" fill="#2a5543" stroke="#f7ef2e" stroke-width="1.6"/>
<path d="M659.98 219.33A4.1 4.1 0 1 0 659.98 227.47A4.1 4.1 0 0 1 659.98 219.33Z" fill="#0e140f"/>
<circle cx="684.40" cy="226.00" r="4.8" fill="#2a5543" stroke="#f7ef2e" stroke-width="1.6"/>
<path d="M684.84 221.92A4.1 4.1 0 1 0 684.84 230.08A4.1 4.1 0 0 1 684.84 221.92Z" fill="#0e140f"/>
<circle cx="755.00" cy="223.40" r="4.8" fill="#2a5543" stroke="#f7ef2e" stroke-width="1.6"/>
<path d="M755.32 219.31A4.1 4.1 0 1 0 755.32 227.49A4.1 4.1 0 0 1 755.32 219.31Z" fill="#0e140f"/>
<circle cx="779.90" cy="226.00" r="4.8" fill="#2a5543" stroke="#f7ef2e" stroke-width="1.6"/>
<path d="M780.17 221.91A4.1 4.1 0 1 0 780.17 230.09A4.1 4.1 0 0 1 780.17 221.91Z" fill="#0e140f"/>
<circle cx="850.50" cy="223.40" r="4.8" fill="#2a5543" stroke="#f7ef2e" stroke-width="1.6"/>
<circle cx="875.40" cy="226.00" r="4.8" fill="#2a5543" stroke="#f7ef2e" stroke-width="1.6"/>
<circle cx="945.75" cy="223.40" r="4.8" fill="#2a5543" stroke="#f7ef2e" stroke-width="1.6"/>
<circle cx="970.65" cy="226.00" r="4.8" fill="#2a5543" stroke="#f7ef2e" stroke-width="1.6"/>
<circle cx="1041.00" cy="223.40" r="4.8" fill="#2a5543" stroke="#f7ef2e" stroke-width="1.6"/>
<circle cx="1065.90" cy="226.00" r="4.8" fill="#2a5543" stroke="#f7ef2e" stroke-width="1.6"/>
<circle cx="1136.25" cy="223.40" r="4.8" fill="#2a5543" stroke="#f7ef2e" stroke-width="1.6"/>
<path d="M1135.92 219.31A4.1 4.1 0 1 1 1135.92 227.49A4.1 4.1 0 0 0 1135.92 219.31Z" fill="#0e140f"/>
<circle cx="1161.15" cy="226.00" r="4.8" fill="#2a5543" stroke="#f7ef2e" stroke-width="1.6"/>
<path d="M1160.78 221.92A4.1 4.1 0 1 1 1160.78 230.08A4.1 4.1 0 0 0 1160.78 221.92Z" fill="#0e140f"/>
<circle cx="1231.25" cy="223.40" r="4.8" fill="#2a5543" stroke="#f7ef2e" stroke-width="1.6"/>
<path d="M1230.76 219.33A4.1 4.1 0 1 1 1230.76 227.47A4.1 4.1 0 0 0 1230.76 219.33Z" fill="#0e140f"/>
<circle cx="1256.15" cy="226.00" r="4.8" fill="#2a5543" stroke="#f7ef2e" stroke-width="1.6"/>
<path d="M1255.61 221.94A4.1 4.1 0 1 1 1255.61 230.06A4.1 4.1 0 0 0 1255.61 221.94Z" fill="#0e140f"/>
<circle cx="1326.75" cy="223.40" r="4.8" fill="#2a5543" stroke="#f7ef2e" stroke-width="1.6"/>
<path d="M1326.09 219.35A4.1 4.1 0 1 1 1326.09 227.45A4.1 4.1 0 0 0 1326.09 219.35Z" fill="#0e140f"/>
<circle cx="1351.65" cy="226.00" r="4.8" fill="#2a5543" stroke="#f7ef2e" stroke-width="1.6"/>
<path d="M1350.95 221.96A4.1 4.1 0 1 1 1350.95 230.04A4.1 4.1 0 0 0 1350.95 221.96Z" fill="#0e140f"/>
<circle cx="1422.00" cy="223.40" r="4.8" fill="#2a5543" stroke="#f7ef2e" stroke-width="1.6"/>
<path d="M1421.18 219.38A4.1 4.1 0 1 1 1421.18 227.42A4.1 4.1 0 0 0 1421.18 219.38Z" fill="#0e140f"/>
<circle cx="1446.90" cy="226.00" r="4.8" fill="#2a5543" stroke="#f7ef2e" stroke-width="1.6"/>
<path d="M1446.04 221.99A4.1 4.1 0 1 1 1446.04 230.01A4.1 4.1 0 0 0 1446.04 221.99Z" fill="#0e140f"/>
<circle cx="1517.40" cy="223.40" r="4.8" fill="#2a5543" stroke="#f7ef2e" stroke-width="1.6"/>
<path d="M1516.42 219.42A4.1 4.1 0 1 1 1516.42 227.38A4.1 4.1 0 0 0 1516.42 219.42Z" fill="#0e140f"/>
<circle cx="1542.30" cy="226.00" r="4.8" fill="#2a5543" stroke="#f7ef2e" stroke-width="1.6"/>
<path d="M1541.28 222.03A4.1 4.1 0 1 1 1541.28 229.97A4.1 4.1 0 0 0 1541.28 222.03Z" fill="#0e140f"/>
<circle cx="1612.60" cy="223.40" r="4.8" fill="#2a5543" stroke="#f7ef2e" stroke-width="1.6"/>
<path d="M1611.46 219.46A4.1 4.1 0 1 1 1611.46 227.34A4.1 4.1 0 0 0 1611.46 219.46Z" fill="#0e140f"/>
<circle cx="1637.50" cy="226.00" r="4.8" fill="#2a5543" stroke="#f7ef2e" stroke-width="1.6"/>
<path d="M1636.32 222.07A4.1 4.1 0 1 1 1636.32 229.93A4.1 4.1 0 0 0 1636.32 222.07Z" fill="#0e140f"/>
<circle cx="1707.60" cy="223.40" r="4.8" fill="#2a5543" stroke="#f7ef2e" stroke-width="1.6"/>
<path d="M1706.30 219.51A4.1 4.1 0 1 1 1706.30 227.29A4.1 4.1 0 0 0 1706.30 219.51Z" fill="#0e140f"/>
<circle cx="1732.50" cy="226.00" r="4.8" fill="#2a5543" stroke="#f7ef2e" stroke-width="1.6"/>
<path d="M1731.15 222.13A4.1 4.1 0 1 1 1731.15 229.87A4.1 4.1 0 0 0 1731.15 222.13Z" fill="#0e140f"/>
<circle cx="1802.80" cy="223.40" r="4.8" fill="#2a5543" stroke="#f7ef2e" stroke-width="1.6"/>
<path d="M1801.33 219.57A4.1 4.1 0 1 1 1801.33 227.23A4.1 4.1 0 0 0 1801.33 219.57Z" fill="#0e140f"/>
<circle cx="1827.70" cy="226.00" r="4.8" fill="#2a5543" stroke="#f7ef2e" stroke-width="1.6"/>
<path d="M1826.19 222.19A4.1 4.1 0 1 1 1826.19 229.81A4.1 4.1 0 0 0 1826.19 222.19Z" fill="#0e140f"/>
<circle cx="40.75" cy="318.60" r="4.8" fill="#2a5543" stroke="#f7ef2e" stroke-width="1.6"/>
<path d="M42.28 314.80A4.1 4.1 0 1 0 42.28 322.40A4.1 4.1 0 0 1 42.28 314.80Z" fill="#0e140f"/>
<circle cx="65.65" cy="321.20" r="4.8" fill="#2a5543" stroke="#f7ef2e" stroke-width="1.6"/>
<path d="M67.14 317.38A4.1 4.1 0 1 0 67.14 325.02A4.1 4.1 0 0 1 67.14 317.38Z" fill="#0e140f"/>
<circle cx="135.75" cy="318.60" r="4.8" fill="#2a5543" stroke="#f7ef2e" stroke-width="1.6"/>
<path d="M137.12 314.74A4.1 4.1 0 1 0 137.12 322.46A4.1 4.1 0 0 1 137.12 314.74Z" fill="#0e140f"/>
<circle cx="160.65" cy="321.20" r="4.8" fill="#2a5543" stroke="#f7ef2e" stroke-width="1.6"/>
<path d="M161.98 317.32A4.1 4.1 0 1 0 161.98 325.08A4.1 4.1 0 0 1 161.98 317.32Z" fill="#0e140f"/>
<circle cx="231.25" cy="318.60" r="4.8" fill="#2a5543" stroke="#f7ef2e" stroke-width="1.6"/>
<path d="M232.46 314.68A4.1 4.1 0 1 0 232.46 322.52A4.1 4.1 0 0 1 232.46 314.68Z" fill="#0e140f"/>
<circle cx="256.15" cy="321.20" r="4.8" fill="#2a5543" stroke="#f7ef2e" stroke-width="1.6"/>
<path d="M257.31 317.27A4.1 4.1 0 1 0 257.31 325.13A4.1 4.1 0 0 1 257.31 317.27Z" fill="#0e140f"/>
<circle cx="326.25" cy="318.60" r="4.8" fill="#2a5543" stroke="#f7ef2e" stroke-width="1.6"/>
<path d="M327.30 314.64A4.1 4.1 0 1 0 327.30 322.56A4.1 4.1 0 0 1 327.30 314.64Z" fill="#0e140f"/>
<circle cx="351.15" cy="321.20" r="4.8" fill="#2a5543" stroke="#f7ef2e" stroke-width="1.6"/>
<path d="M352.15 317.22A4.1 4.1 0 1 0 352.15 325.18A4.1 4.1 0 0 1 352.15 317.22Z" fill="#0e140f"/>
<circle cx="612.50" cy="318.60" r="4.8" fill="#2a5543" stroke="#f7ef2e" stroke-width="1.6"/>
<path d="M613.06 314.54A4.1 4.1 0 1 0 613.06 322.66A4.1 4.1 0 0 1 613.06 314.54Z" fill="#0e140f"/>
<circle cx="637.40" cy="321.20" r="4.8" fill="#2a5543" stroke="#f7ef2e" stroke-width="1.6"/>
<path d="M637.92 317.13A4.1 4.1 0 1 0 637.92 325.27A4.1 4.1 0 0 1 637.92 317.13Z" fill="#0e140f"/>
<circle cx="707.50" cy="318.60" r="4.8" fill="#2a5543" stroke="#f7ef2e" stroke-width="1.6"/>
<path d="M707.90 314.52A4.1 4.1 0 1 0 707.90 322.68A4.1 4.1 0 0 1 707.90 314.52Z" fill="#0e140f"/>
<circle cx="732.40" cy="321.20" r="4.8" fill="#2a5543" stroke="#f7ef2e" stroke-width="1.6"/>
<path d="M732.75 317.12A4.1 4.1 0 1 0 732.75 325.28A4.1 4.1 0 0 1 732.75 317.12Z" fill="#0e140f"/>
<circle cx="802.50" cy="318.60" r="4.8" fill="#2a5543" stroke="#f7ef2e" stroke-width="1.6"/>
<circle cx="827.40" cy="321.20" r="4.8" fill="#2a5543" stroke="#f7ef2e" stroke-width="1.6"/>
<circle cx="898.00" cy="318.60" r="4.8" fill="#2a5543" stroke="#f7ef2e" stroke-width="1.6"/>
<circle cx="922.90" cy="321.20" r="4.8" fill="#2a5543" stroke="#f7ef2e" stroke-width="1.6"/>
<circle cx="993.25" cy="318.60" r="4.8" fill="#2a5543" stroke="#f7ef2e" stroke-width="1.6"/>
<circle cx="1018.15" cy="321.20" r="4.8" fill="#2a5543" stroke="#f7ef2e" stroke-width="1.6"/>
<circle cx="1088.25" cy="318.60" r="4.8" fill="#2a5543" stroke="#f7ef2e" stroke-width="1.6"/>
<path d="M1088.00 314.51A4.1 4.1 0 1 1 1088.00 322.69A4.1 4.1 0 0 0 1088.00 314.51Z" fill="#0e140f"/>
<circle cx="1113.15" cy="321.20" r="4.8" fill="#2a5543" stroke="#f7ef2e" stroke-width="1.6"/>
<path d="M1112.86 317.11A4.1 4.1 0 1 1 1112.86 325.29A4.1 4.1 0 0 0 1112.86 317.11Z" fill="#0e140f"/>
<circle cx="1183.75" cy="318.60" r="4.8" fill="#2a5543" stroke="#f7ef2e" stroke-width="1.6"/>
<path d="M1183.34 314.52A4.1 4.1 0 1 1 1183.34 322.68A4.1 4.1 0 0 0 1183.34 314.52Z" fill="#0e140f"/>
<circle cx="1208.65" cy="321.20" r="4.8" fill="#2a5543" stroke="#f7ef2e" stroke-width="1.6"/>
<path d="M1208.19 317.13A4.1 4.1 0 1 1 1208.19 325.27A4.1 4.1 0 0 0 1208.19 317.13Z" fill="#0e140f"/>
<circle cx="1278.75" cy="318.60" r="4.8" fill="#2a5543" stroke="#f7ef2e" stroke-width="1.6"/>
<path d="M1278.18 314.54A4.1 4.1 0 1 1 1278.18 322.66A4.1 4.1 0 0 0 1278.18 314.54Z" fill="#0e140f"/>
<circle cx="1303.65" cy="321.20" r="4.8" fill="#2a5543" stroke="#f7ef2e" stroke-width="1.6"/>
<path d="M1303.03 317.15A4.1 4.1 0 1 1 1303.03 325.25A4.1 4.1 0 0 0 1303.03 317.15Z" fill="#0e140f"/>
<circle cx="1374.25" cy="318.60" r="4.8" fill="#2a5543" stroke="#f7ef2e" stroke-width="1.6"/>
<path d="M1373.51 314.57A4.1 4.1 0 1 1 1373.51 322.63A4.1 4.1 0 0 0 1373.51 314.57Z" fill="#0e140f"/>
<circle cx="1399.15" cy="321.20" r="4.8" fill="#2a5543" stroke="#f7ef2e" stroke-width="1.6"/>
<path d="M1398.37 317.17A4.1 4.1 0 1 1 1398.37 325.23A4.1 4.1 0 0 0 1398.37 317.17Z" fill="#0e140f"/>
<circle cx="1469.40" cy="318.60" r="4.8" fill="#2a5543" stroke="#f7ef2e" stroke-width="1.6"/>
<path d="M1468.50 314.60A4.1 4.1 0 1 1 1468.50 322.60A4.1 4.1 0 0 0 1468.50 314.60Z" fill="#0e140f"/>
<circle cx="1494.30" cy="321.20" r="4.8" fill="#2a5543" stroke="#f7ef2e" stroke-width="1.6"/>
<path d="M1493.36 317.21A4.1 4.1 0 1 1 1493.36 325.19A4.1 4.1 0 0 0 1493.36 317.21Z" fill="#0e140f"/>
<circle cx="1564.60" cy="318.60" r="4.8" fill="#2a5543" stroke="#f7ef2e" stroke-width="1.6"/>
<path d="M1563.54 314.64A4.1 4.1 0 1 1 1563.54 322.56A4.1 4.1 0 0 0 1563.54 314.64Z" fill="#0e140f"/>
<circle cx="1589.50" cy="321.20" r="4.8" fill="#2a5543" stroke="#f7ef2e" stroke-width="1.6"/>
<path d="M1588.40 317.25A4.1 4.1 0 1 1 1588.40 325.15A4.1 4.1 0 0 0 1588.40 317.25Z" fill="#0e140f"/>
<circle cx="1659.50" cy="318.60" r="4.8" fill="#2a5543" stroke="#f7ef2e" stroke-width="1.6"/>
<path d="M1658.28 314.69A4.1 4.1 0 1 1 1658.28 322.51A4.1 4.1 0 0 0 1658.28 314.69Z" fill="#0e140f"/>
<circle cx="1684.40" cy="321.20" r="4.8" fill="#2a5543" stroke="#f7ef2e" stroke-width="1.6"/>
<path d="M1683.14 317.30A4.1 4.1 0 1 1 1683.14 325.10A4.1 4.1 0 0 0 1683.14 317.30Z" fill="#0e140f"/>
<circle cx="1778.80" cy="318.60" r="4.8" fill="#2a5543" stroke="#f7ef2e" stroke-width="1.6"/>
<path d="M1777.38 314.76A4.1 4.1 0 1 1 1777.38 322.44A4.1 4.1 0 0 0 1777.38 314.76Z" fill="#0e140f"/>
<circle cx="1803.70" cy="321.20" r="4.8" fill="#2a5543" stroke="#f7ef2e" stroke-width="1.6"/>
<path d="M1802.23 317.37A4.1 4.1 0 1 1 1802.23 325.03A4.1 4.1 0 0 0 1802.23 317.37Z" fill="#0e140f"/>
<circle cx="40.75" cy="413.80" r="4.8" fill="#2a5543" stroke="#f7ef2e" stroke-width="1.6"/>
<path d="M42.28 410.00A4.1 4.1 0 1 0 42.28 417.60A4.1 4.1 0 0 1 42.28 410.00Z" fill="#0e140f"/>
<circle cx="65.65" cy="416.40" r="4.8" fill="#2a5543" stroke="#f7ef2e" stroke-width="1.6"/>
<path d="M67.14 412.58A4.1 4.1 0 1 0 67.14 420.22A4.1 4.1 0 0 1 67.14 412.58Z" fill="#0e140f"/>
<circle cx="135.75" cy="413.80" r="4.8" fill="#2a5543" stroke="#f7ef2e" stroke-width="1.6"/>
<path d="M137.12 409.94A4.1 4.1 0 1 0 137.12 417.66A4.1 4.1 0 0 1 137.12 409.94Z" fill="#0e140f"/>
<circle cx="160.65" cy="416.40" r="4.8" fill="#2a5543" stroke="#f7ef2e" stroke-width="1.6"/>
<path d="M161.98 412.52A4.1 4.1 0 1 0 161.98 420.28A4.1 4.1 0 0 1 161.98 412.52Z" fill="#0e140f"/>
<circle cx="231.25" cy="413.80" r="4.8" fill="#2a5543" stroke="#f7ef2e" stroke-width="1.6"/>
<path d="M232.46 409.88A4.1 4.1 0 1 0 232.46 417.72A4.1 4.1 0 0 1 232.46 409.88Z" fill="#0e140f"/>
<circle cx="256.15" cy="416.40" r="4.8" fill="#2a5543" stroke="#f7ef2e" stroke-width="1.6"/>
<path d="M257.31 412.47A4.1 4.1 0 1 0 257.31 420.33A4.1 4.1 0 0 1 257.31 412.47Z" fill="#0e140f"/>
<circle cx="326.25" cy="413.80" r="4.8" fill="#2a5543" stroke="#f7ef2e" stroke-width="1.6"/>
<path d="M327.30 409.84A4.1 4.1 0 1 0 327.30 417.76A4.1 4.1 0 0 1 327.30 409.84Z" fill="#0e140f"/>
<circle cx="351.15" cy="416.40" r="4.8" fill="#2a5543" stroke="#f7ef2e" stroke-width="1.6"/>
<path d="M352.15 412.42A4.1 4.1 0 1 0 352.15 420.38A4.1 4.1 0 0 1 352.15 412.42Z" fill="#0e140f"/>
<circle cx="683.75" cy="413.80" r="4.8" fill="#2a5543" stroke="#f7ef2e" stroke-width="1.6"/>
<path d="M684.19 409.72A4.1 4.1 0 1 0 684.19 417.88A4.1 4.1 0 0 1 684.19 409.72Z" fill="#0e140f"/>
<circle cx="708.65" cy="416.40" r="4.8" fill="#2a5543" stroke="#f7ef2e" stroke-width="1.6"/>
<path d="M709.05 412.32A4.1 4.1 0 1 0 709.05 420.48A4.1 4.1 0 0 1 709.05 412.32Z" fill="#0e140f"/>
<circle cx="778.75" cy="413.80" r="4.8" fill="#2a5543" stroke="#f7ef2e" stroke-width="1.6"/>
<path d="M779.03 409.71A4.1 4.1 0 1 0 779.03 417.89A4.1 4.1 0 0 1 779.03 409.71Z" fill="#0e140f"/>
<circle cx="803.65" cy="416.40" r="4.8" fill="#2a5543" stroke="#f7ef2e" stroke-width="1.6"/>
<circle cx="874.25" cy="413.80" r="4.8" fill="#2a5543" stroke="#f7ef2e" stroke-width="1.6"/>
<circle cx="899.15" cy="416.40" r="4.8" fill="#2a5543" stroke="#f7ef2e" stroke-width="1.6"/>
<circle cx="969.50" cy="413.80" r="4.8" fill="#2a5543" stroke="#f7ef2e" stroke-width="1.6"/>
<circle cx="994.40" cy="416.40" r="4.8" fill="#2a5543" stroke="#f7ef2e" stroke-width="1.6"/>
<circle cx="1064.50" cy="413.80" r="4.8" fill="#2a5543" stroke="#f7ef2e" stroke-width="1.6"/>
<circle cx="1089.40" cy="416.40" r="4.8" fill="#2a5543" stroke="#f7ef2e" stroke-width="1.6"/>
<path d="M1089.15 412.31A4.1 4.1 0 1 1 1089.15 420.49A4.1 4.1 0 0 0 1089.15 412.31Z" fill="#0e140f"/>
<circle cx="1160.00" cy="413.80" r="4.8" fill="#2a5543" stroke="#f7ef2e" stroke-width="1.6"/>
<path d="M1159.63 409.72A4.1 4.1 0 1 1 1159.63 417.88A4.1 4.1 0 0 0 1159.63 409.72Z" fill="#0e140f"/>
<circle cx="1184.90" cy="416.40" r="4.8" fill="#2a5543" stroke="#f7ef2e" stroke-width="1.6"/>
<path d="M1184.49 412.32A4.1 4.1 0 1 1 1184.49 420.48A4.1 4.1 0 0 0 1184.49 412.32Z" fill="#0e140f"/>
<circle cx="1255.00" cy="413.80" r="4.8" fill="#2a5543" stroke="#f7ef2e" stroke-width="1.6"/>
<path d="M1254.47 409.73A4.1 4.1 0 1 1 1254.47 417.87A4.1 4.1 0 0 0 1254.47 409.73Z" fill="#0e140f"/>
<circle cx="1279.90" cy="416.40" r="4.8" fill="#2a5543" stroke="#f7ef2e" stroke-width="1.6"/>
<path d="M1279.32 412.34A4.1 4.1 0 1 1 1279.32 420.46A4.1 4.1 0 0 0 1279.32 412.34Z" fill="#0e140f"/>
<circle cx="1350.50" cy="413.80" r="4.8" fill="#2a5543" stroke="#f7ef2e" stroke-width="1.6"/>
<path d="M1349.80 409.76A4.1 4.1 0 1 1 1349.80 417.84A4.1 4.1 0 0 0 1349.80 409.76Z" fill="#0e140f"/>
<circle cx="1375.40" cy="416.40" r="4.8" fill="#2a5543" stroke="#f7ef2e" stroke-width="1.6"/>
<path d="M1374.66 412.37A4.1 4.1 0 1 1 1374.66 420.43A4.1 4.1 0 0 0 1374.66 412.37Z" fill="#0e140f"/>
<circle cx="1445.90" cy="413.80" r="4.8" fill="#2a5543" stroke="#f7ef2e" stroke-width="1.6"/>
<path d="M1445.04 409.79A4.1 4.1 0 1 1 1445.04 417.81A4.1 4.1 0 0 0 1445.04 409.79Z" fill="#0e140f"/>
<circle cx="1470.80" cy="416.40" r="4.8" fill="#2a5543" stroke="#f7ef2e" stroke-width="1.6"/>
<path d="M1469.90 412.40A4.1 4.1 0 1 1 1469.90 420.40A4.1 4.1 0 0 0 1469.90 412.40Z" fill="#0e140f"/>
<circle cx="1540.80" cy="413.80" r="4.8" fill="#2a5543" stroke="#f7ef2e" stroke-width="1.6"/>
<path d="M1539.78 409.83A4.1 4.1 0 1 1 1539.78 417.77A4.1 4.1 0 0 0 1539.78 409.83Z" fill="#0e140f"/>
<circle cx="1565.70" cy="416.40" r="4.8" fill="#2a5543" stroke="#f7ef2e" stroke-width="1.6"/>
<path d="M1564.64 412.44A4.1 4.1 0 1 1 1564.64 420.36A4.1 4.1 0 0 0 1564.64 412.44Z" fill="#0e140f"/>
<circle cx="1636.10" cy="413.80" r="4.8" fill="#2a5543" stroke="#f7ef2e" stroke-width="1.6"/>
<path d="M1634.92 409.87A4.1 4.1 0 1 1 1634.92 417.73A4.1 4.1 0 0 0 1634.92 409.87Z" fill="#0e140f"/>
<circle cx="1661.00" cy="416.40" r="4.8" fill="#2a5543" stroke="#f7ef2e" stroke-width="1.6"/>
<path d="M1659.78 412.49A4.1 4.1 0 1 1 1659.78 420.31A4.1 4.1 0 0 0 1659.78 412.49Z" fill="#0e140f"/>
<circle cx="1767.30" cy="413.80" r="4.8" fill="#2a5543" stroke="#f7ef2e" stroke-width="1.6"/>
<path d="M1765.90 409.95A4.1 4.1 0 1 1 1765.90 417.65A4.1 4.1 0 0 0 1765.90 409.95Z" fill="#0e140f"/>
<circle cx="1792.20" cy="416.40" r="4.8" fill="#2a5543" stroke="#f7ef2e" stroke-width="1.6"/>
<path d="M1790.75 412.56A4.1 4.1 0 1 1 1790.75 420.24A4.1 4.1 0 0 0 1790.75 412.56Z" fill="#0e140f"/>
<circle cx="135.75" cy="466.40" r="4.8" fill="#2a5543" stroke="#f7ef2e" stroke-width="1.6"/>
<path d="M137.12 462.54A4.1 4.1 0 1 0 137.12 470.26A4.1 4.1 0 0 1 137.12 462.54Z" fill="#0e140f"/>
<circle cx="160.65" cy="469.00" r="4.8" fill="#2a5543" stroke="#f7ef2e" stroke-width="1.6"/>
<path d="M161.98 465.12A4.1 4.1 0 1 0 161.98 472.88A4.1 4.1 0 0 1 161.98 465.12Z" fill="#0e140f"/>
<circle cx="231.25" cy="466.40" r="4.8" fill="#2a5543" stroke="#f7ef2e" stroke-width="1.6"/>
<path d="M232.46 462.48A4.1 4.1 0 1 0 232.46 470.32A4.1 4.1 0 0 1 232.46 462.48Z" fill="#0e140f"/>
<circle cx="256.15" cy="469.00" r="4.8" fill="#2a5543" stroke="#f7ef2e" stroke-width="1.6"/>
<path d="M257.31 465.07A4.1 4.1 0 1 0 257.31 472.93A4.1 4.1 0 0 1 257.31 465.07Z" fill="#0e140f"/>
<circle cx="326.75" cy="466.40" r="4.8" fill="#2a5543" stroke="#f7ef2e" stroke-width="1.6"/>
<path d="M327.79 462.44A4.1 4.1 0 1 0 327.79 470.36A4.1 4.1 0 0 1 327.79 462.44Z" fill="#0e140f"/>
<circle cx="351.65" cy="469.00" r="4.8" fill="#2a5543" stroke="#f7ef2e" stroke-width="1.6"/>
<path d="M352.65 465.02A4.1 4.1 0 1 0 352.65 472.98A4.1 4.1 0 0 1 352.65 465.02Z" fill="#0e140f"/>
<circle cx="576.25" cy="466.40" r="4.8" fill="#2a5543" stroke="#f7ef2e" stroke-width="1.6"/>
<path d="M576.87 462.35A4.1 4.1 0 1 0 576.87 470.45A4.1 4.1 0 0 1 576.87 462.35Z" fill="#0e140f"/>
<circle cx="601.15" cy="469.00" r="4.8" fill="#2a5543" stroke="#f7ef2e" stroke-width="1.6"/>
<path d="M601.73 464.94A4.1 4.1 0 1 0 601.73 473.06A4.1 4.1 0 0 1 601.73 464.94Z" fill="#0e140f"/>
<circle cx="731.75" cy="466.40" r="4.8" fill="#2a5543" stroke="#f7ef2e" stroke-width="1.6"/>
<path d="M732.11 462.32A4.1 4.1 0 1 0 732.11 470.48A4.1 4.1 0 0 1 732.11 462.32Z" fill="#0e140f"/>
<circle cx="756.65" cy="469.00" r="4.8" fill="#2a5543" stroke="#f7ef2e" stroke-width="1.6"/>
<path d="M756.96 464.91A4.1 4.1 0 1 0 756.96 473.09A4.1 4.1 0 0 1 756.96 464.91Z" fill="#0e140f"/>
<circle cx="826.75" cy="466.40" r="4.8" fill="#2a5543" stroke="#f7ef2e" stroke-width="1.6"/>
<circle cx="851.65" cy="469.00" r="4.8" fill="#2a5543" stroke="#f7ef2e" stroke-width="1.6"/>
<circle cx="922.25" cy="466.40" r="4.8" fill="#2a5543" stroke="#f7ef2e" stroke-width="1.6"/>
<circle cx="947.15" cy="469.00" r="4.8" fill="#2a5543" stroke="#f7ef2e" stroke-width="1.6"/>
<circle cx="1017.00" cy="466.40" r="4.8" fill="#2a5543" stroke="#f7ef2e" stroke-width="1.6"/>
<circle cx="1041.90" cy="469.00" r="4.8" fill="#2a5543" stroke="#f7ef2e" stroke-width="1.6"/>
<circle cx="1112.50" cy="466.40" r="4.8" fill="#2a5543" stroke="#f7ef2e" stroke-width="1.6"/>
<path d="M1112.21 462.31A4.1 4.1 0 1 1 1112.21 470.49A4.1 4.1 0 0 0 1112.21 462.31Z" fill="#0e140f"/>
<circle cx="1137.40" cy="469.00" r="4.8" fill="#2a5543" stroke="#f7ef2e" stroke-width="1.6"/>
<path d="M1137.07 464.91A4.1 4.1 0 1 1 1137.07 473.09A4.1 4.1 0 0 0 1137.07 464.91Z" fill="#0e140f"/>
<circle cx="1207.50" cy="466.40" r="4.8" fill="#2a5543" stroke="#f7ef2e" stroke-width="1.6"/>
<path d="M1207.05 462.33A4.1 4.1 0 1 1 1207.05 470.47A4.1 4.1 0 0 0 1207.05 462.33Z" fill="#0e140f"/>
<circle cx="1232.40" cy="469.00" r="4.8" fill="#2a5543" stroke="#f7ef2e" stroke-width="1.6"/>
<path d="M1231.90 464.93A4.1 4.1 0 1 1 1231.90 473.07A4.1 4.1 0 0 0 1231.90 464.93Z" fill="#0e140f"/>
<circle cx="1302.50" cy="466.40" r="4.8" fill="#2a5543" stroke="#f7ef2e" stroke-width="1.6"/>
<path d="M1301.89 462.35A4.1 4.1 0 1 1 1301.89 470.45A4.1 4.1 0 0 0 1301.89 462.35Z" fill="#0e140f"/>
<circle cx="1327.40" cy="469.00" r="4.8" fill="#2a5543" stroke="#f7ef2e" stroke-width="1.6"/>
<path d="M1326.74 464.95A4.1 4.1 0 1 1 1326.74 473.05A4.1 4.1 0 0 0 1326.74 464.95Z" fill="#0e140f"/>
<circle cx="1398.10" cy="466.40" r="4.8" fill="#2a5543" stroke="#f7ef2e" stroke-width="1.6"/>
<path d="M1397.32 462.37A4.1 4.1 0 1 1 1397.32 470.43A4.1 4.1 0 0 0 1397.32 462.37Z" fill="#0e140f"/>
<circle cx="1423.00" cy="469.00" r="4.8" fill="#2a5543" stroke="#f7ef2e" stroke-width="1.6"/>
<path d="M1422.18 464.98A4.1 4.1 0 1 1 1422.18 473.02A4.1 4.1 0 0 0 1422.18 464.98Z" fill="#0e140f"/>
<circle cx="1493.40" cy="466.40" r="4.8" fill="#2a5543" stroke="#f7ef2e" stroke-width="1.6"/>
<path d="M1492.46 462.41A4.1 4.1 0 1 1 1492.46 470.39A4.1 4.1 0 0 0 1492.46 462.41Z" fill="#0e140f"/>
<circle cx="1518.30" cy="469.00" r="4.8" fill="#2a5543" stroke="#f7ef2e" stroke-width="1.6"/>
<path d="M1517.32 465.02A4.1 4.1 0 1 1 1517.32 472.98A4.1 4.1 0 0 0 1517.32 465.02Z" fill="#0e140f"/>
<circle cx="1588.60" cy="466.40" r="4.8" fill="#2a5543" stroke="#f7ef2e" stroke-width="1.6"/>
<path d="M1587.50 462.45A4.1 4.1 0 1 1 1587.50 470.35A4.1 4.1 0 0 0 1587.50 462.45Z" fill="#0e140f"/>
<circle cx="1613.50" cy="469.00" r="4.8" fill="#2a5543" stroke="#f7ef2e" stroke-width="1.6"/>
<path d="M1612.36 465.06A4.1 4.1 0 1 1 1612.36 472.94A4.1 4.1 0 0 0 1612.36 465.06Z" fill="#0e140f"/>
<circle cx="1743.30" cy="466.40" r="4.8" fill="#2a5543" stroke="#f7ef2e" stroke-width="1.6"/>
<path d="M1741.94 462.53A4.1 4.1 0 1 1 1741.94 470.27A4.1 4.1 0 0 0 1741.94 462.53Z" fill="#0e140f"/>
<circle cx="1768.20" cy="469.00" r="4.8" fill="#2a5543" stroke="#f7ef2e" stroke-width="1.6"/>
<path d="M1766.79 465.15A4.1 4.1 0 1 1 1766.79 472.85A4.1 4.1 0 0 0 1766.79 465.15Z" fill="#0e140f"/>
<circle cx="135.75" cy="561.80" r="4.8" fill="#2a5543" stroke="#f7ef2e" stroke-width="1.6"/>
<path d="M137.12 557.94A4.1 4.1 0 1 0 137.12 565.66A4.1 4.1 0 0 1 137.12 557.94Z" fill="#0e140f"/>
<circle cx="160.65" cy="564.40" r="4.8" fill="#2a5543" stroke="#f7ef2e" stroke-width="1.6"/>
<path d="M161.98 560.52A4.1 4.1 0 1 0 161.98 568.28A4.1 4.1 0 0 1 161.98 560.52Z" fill="#0e140f"/>
<circle cx="278.75" cy="561.80" r="4.8" fill="#2a5543" stroke="#f7ef2e" stroke-width="1.6"/>
<path d="M279.88 557.86A4.1 4.1 0 1 0 279.88 565.74A4.1 4.1 0 0 1 279.88 557.86Z" fill="#0e140f"/>
<circle cx="303.65" cy="564.40" r="4.8" fill="#2a5543" stroke="#f7ef2e" stroke-width="1.6"/>
<path d="M304.73 560.45A4.1 4.1 0 1 0 304.73 568.35A4.1 4.1 0 0 1 304.73 560.45Z" fill="#0e140f"/>
<circle cx="517.00" cy="561.80" r="4.8" fill="#2a5543" stroke="#f7ef2e" stroke-width="1.6"/>
<path d="M517.72 557.76A4.1 4.1 0 1 0 517.72 565.84A4.1 4.1 0 0 1 517.72 557.76Z" fill="#0e140f"/>
<circle cx="541.90" cy="564.40" r="4.8" fill="#2a5543" stroke="#f7ef2e" stroke-width="1.6"/>
<path d="M542.58 560.36A4.1 4.1 0 1 0 542.58 568.44A4.1 4.1 0 0 1 542.58 560.36Z" fill="#0e140f"/>
<circle cx="612.50" cy="561.80" r="4.8" fill="#2a5543" stroke="#f7ef2e" stroke-width="1.6"/>
<path d="M613.06 557.74A4.1 4.1 0 1 0 613.06 565.86A4.1 4.1 0 0 1 613.06 557.74Z" fill="#0e140f"/>
<circle cx="637.40" cy="564.40" r="4.8" fill="#2a5543" stroke="#f7ef2e" stroke-width="1.6"/>
<path d="M637.92 560.33A4.1 4.1 0 1 0 637.92 568.47A4.1 4.1 0 0 1 637.92 560.33Z" fill="#0e140f"/>
<circle cx="707.50" cy="561.80" r="4.8" fill="#2a5543" stroke="#f7ef2e" stroke-width="1.6"/>
<path d="M707.90 557.72A4.1 4.1 0 1 0 707.90 565.88A4.1 4.1 0 0 1 707.90 557.72Z" fill="#0e140f"/>
<circle cx="732.40" cy="564.40" r="4.8" fill="#2a5543" stroke="#f7ef2e" stroke-width="1.6"/>
<path d="M732.75 560.32A4.1 4.1 0 1 0 732.75 568.48A4.1 4.1 0 0 1 732.75 560.32Z" fill="#0e140f"/>
<circle cx="802.50" cy="561.80" r="4.8" fill="#2a5543" stroke="#f7ef2e" stroke-width="1.6"/>
<circle cx="827.40" cy="564.40" r="4.8" fill="#2a5543" stroke="#f7ef2e" stroke-width="1.6"/>
<circle cx="898.00" cy="561.80" r="4.8" fill="#2a5543" stroke="#f7ef2e" stroke-width="1.6"/>
<circle cx="922.90" cy="564.40" r="4.8" fill="#2a5543" stroke="#f7ef2e" stroke-width="1.6"/>
<circle cx="1040.75" cy="561.80" r="4.8" fill="#2a5543" stroke="#f7ef2e" stroke-width="1.6"/>
<circle cx="1065.65" cy="564.40" r="4.8" fill="#2a5543" stroke="#f7ef2e" stroke-width="1.6"/>
<circle cx="1445.90" cy="561.80" r="4.8" fill="#2a5543" stroke="#f7ef2e" stroke-width="1.6"/>
<path d="M1445.04 557.79A4.1 4.1 0 1 1 1445.04 565.81A4.1 4.1 0 0 0 1445.04 557.79Z" fill="#0e140f"/>
<circle cx="1470.80" cy="564.40" r="4.8" fill="#2a5543" stroke="#f7ef2e" stroke-width="1.6"/>
<path d="M1469.90 560.40A4.1 4.1 0 1 1 1469.90 568.40A4.1 4.1 0 0 0 1469.90 560.40Z" fill="#0e140f"/>
<circle cx="1576.60" cy="561.80" r="4.8" fill="#2a5543" stroke="#f7ef2e" stroke-width="1.6"/>
<path d="M1575.52 557.84A4.1 4.1 0 1 1 1575.52 565.76A4.1 4.1 0 0 0 1575.52 557.84Z" fill="#0e140f"/>
<circle cx="1601.50" cy="564.40" r="4.8" fill="#2a5543" stroke="#f7ef2e" stroke-width="1.6"/>
<path d="M1600.38 560.46A4.1 4.1 0 1 1 1600.38 568.34A4.1 4.1 0 0 0 1600.38 560.46Z" fill="#0e140f"/>
<circle cx="1707.60" cy="561.80" r="4.8" fill="#2a5543" stroke="#f7ef2e" stroke-width="1.6"/>
<path d="M1706.30 557.91A4.1 4.1 0 1 1 1706.30 565.69A4.1 4.1 0 0 0 1706.30 557.91Z" fill="#0e140f"/>
<circle cx="1732.50" cy="564.40" r="4.8" fill="#2a5543" stroke="#f7ef2e" stroke-width="1.6"/>
<path d="M1731.15 560.53A4.1 4.1 0 1 1 1731.15 568.27A4.1 4.1 0 0 0 1731.15 560.53Z" fill="#0e140f"/>
<circle cx="1802.80" cy="561.80" r="4.8" fill="#2a5543" stroke="#f7ef2e" stroke-width="1.6"/>
<path d="M1801.33 557.97A4.1 4.1 0 1 1 1801.33 565.63A4.1 4.1 0 0 0 1801.33 557.97Z" fill="#0e140f"/>
<circle cx="1827.70" cy="564.40" r="4.8" fill="#2a5543" stroke="#f7ef2e" stroke-width="1.6"/>
<path d="M1826.19 560.59A4.1 4.1 0 1 1 1826.19 568.21A4.1 4.1 0 0 0 1826.19 560.59Z" fill="#0e140f"/>
<circle cx="552.00" cy="333.75" r="4.8" fill="#2a5543" stroke="#f7ef2e" stroke-width="1.6"/>
<path d="M552.66 329.70A4.1 4.1 0 1 0 552.66 337.80A4.1 4.1 0 0 1 552.66 329.70Z" fill="#0e140f"/>
<circle cx="549.50" cy="358.75" r="4.8" fill="#2a5543" stroke="#f7ef2e" stroke-width="1.6"/>
<path d="M550.17 354.70A4.1 4.1 0 1 0 550.17 362.80A4.1 4.1 0 0 1 550.17 354.70Z" fill="#0e140f"/>
<circle cx="75.50" cy="524.25" r="4.8" fill="#2a5543" stroke="#f7ef2e" stroke-width="1.6"/>
<path d="M76.97 520.42A4.1 4.1 0 1 0 76.97 528.08A4.1 4.1 0 0 1 76.97 520.42Z" fill="#0e140f"/>
<circle cx="73.00" cy="549.25" r="4.8" fill="#2a5543" stroke="#f7ef2e" stroke-width="1.6"/>
<path d="M74.48 545.42A4.1 4.1 0 1 0 74.48 553.08A4.1 4.1 0 0 1 74.48 545.42Z" fill="#0e140f"/>
<circle cx="1314.50" cy="76.25" r="4.8" fill="#2a5543" stroke="#f7ef2e" stroke-width="1.6"/>
<path d="M1313.86 72.20A4.1 4.1 0 1 1 1313.86 80.30A4.1 4.1 0 0 0 1313.86 72.20Z" fill="#0e140f"/>
<circle cx="1312.00" cy="100.75" r="4.8" fill="#2a5543" stroke="#f7ef2e" stroke-width="1.6"/>
<path d="M1311.37 96.70A4.1 4.1 0 1 1 1311.37 104.80A4.1 4.1 0 0 0 1311.37 96.70Z" fill="#0e140f"/>
<circle cx="748.25" cy="84.50" r="4.3" fill="#85859d" stroke="#f7ef2e" stroke-width="2.2"/>
<circle cx="748.25" cy="84.50" r="3.0" fill="none" stroke="#3a3a44" stroke-width="0.7" stroke-dasharray="5 20" transform="rotate(200 748.25 84.50)"/>
<circle cx="781.75" cy="84.50" r="4.3" fill="#85859d" stroke="#f7ef2e" stroke-width="2.2"/>
<circle cx="781.75" cy="84.50" r="3.0" fill="none" stroke="#3a3a44" stroke-width="0.7" stroke-dasharray="5 20" transform="rotate(200 781.75 84.50)"/>
<circle cx="748.25" cy="118.25" r="4.3" fill="#85859d" stroke="#f7ef2e" stroke-width="2.2"/>
<circle cx="748.25" cy="118.25" r="3.0" fill="none" stroke="#3a3a44" stroke-width="0.7" stroke-dasharray="5 20" transform="rotate(200 748.25 118.25)"/>
<circle cx="781.75" cy="118.25" r="4.3" fill="#85859d" stroke="#f7ef2e" stroke-width="2.2"/>
<circle cx="781.75" cy="118.25" r="3.0" fill="none" stroke="#3a3a44" stroke-width="0.7" stroke-dasharray="5 20" transform="rotate(200 781.75 118.25)"/>
<circle cx="488.00" cy="65.00" r="5.3" fill="#24432f"/>
<circle cx="488.00" cy="65.00" r="3.8" fill="#f7ef2e"/>
<circle cx="488.00" cy="65.00" r="2.3" fill="#85859d"/>
<path d="M485.80 65.60a2.3 2.3 0 0 1 3.6 -2.6a3.4 3.4 0 0 0 -3.6 2.6z" fill="#2a2a30"/>
<circle cx="488.00" cy="141.30" r="5.3" fill="#24432f"/>
<circle cx="488.00" cy="141.30" r="3.8" fill="#f7ef2e"/>
<circle cx="488.00" cy="141.30" r="2.3" fill="#85859d"/>
<path d="M485.80 141.90a2.3 2.3 0 0 1 3.6 -2.6a3.4 3.4 0 0 0 -3.6 2.6z" fill="#2a2a30"/>
<circle cx="500.73" cy="65.00" r="5.3" fill="#24432f"/>
<circle cx="500.73" cy="65.00" r="3.8" fill="#f7ef2e"/>
<circle cx="500.73" cy="65.00" r="2.3" fill="#85859d"/>
<path d="M498.53 65.60a2.3 2.3 0 0 1 3.6 -2.6a3.4 3.4 0 0 0 -3.6 2.6z" fill="#2a2a30"/>
<circle cx="500.73" cy="141.30" r="5.3" fill="#24432f"/>
<circle cx="500.73" cy="141.30" r="3.8" fill="#f7ef2e"/>
<circle cx="500.73" cy="141.30" r="2.3" fill="#85859d"/>
<path d="M498.53 141.90a2.3 2.3 0 0 1 3.6 -2.6a3.4 3.4 0 0 0 -3.6 2.6z" fill="#2a2a30"/>
<circle cx="513.46" cy="65.00" r="5.3" fill="#24432f"/>
<circle cx="513.46" cy="65.00" r="3.8" fill="#f7ef2e"/>
<circle cx="513.46" cy="65.00" r="2.3" fill="#85859d"/>
<path d="M511.26 65.60a2.3 2.3 0 0 1 3.6 -2.6a3.4 3.4 0 0 0 -3.6 2.6z" fill="#2a2a30"/>
<circle cx="513.46" cy="141.30" r="5.3" fill="#24432f"/>
<circle cx="513.46" cy="141.30" r="3.8" fill="#f7ef2e"/>
<circle cx="513.46" cy="141.30" r="2.3" fill="#85859d"/>
<path d="M511.26 141.90a2.3 2.3 0 0 1 3.6 -2.6a3.4 3.4 0 0 0 -3.6 2.6z" fill="#2a2a30"/>
<circle cx="526.19" cy="65.00" r="5.3" fill="#24432f"/>
<circle cx="526.19" cy="65.00" r="3.8" fill="#f7ef2e"/>
<circle cx="526.19" cy="65.00" r="2.3" fill="#85859d"/>
<path d="M523.99 65.60a2.3 2.3 0 0 1 3.6 -2.6a3.4 3.4 0 0 0 -3.6 2.6z" fill="#2a2a30"/>
<circle cx="526.19" cy="141.30" r="5.3" fill="#24432f"/>
<circle cx="526.19" cy="141.30" r="3.8" fill="#f7ef2e"/>
<circle cx="526.19" cy="141.30" r="2.3" fill="#85859d"/>
<path d="M523.99 141.90a2.3 2.3 0 0 1 3.6 -2.6a3.4 3.4 0 0 0 -3.6 2.6z" fill="#2a2a30"/>
<circle cx="538.92" cy="65.00" r="5.3" fill="#24432f"/>
<circle cx="538.92" cy="65.00" r="3.8" fill="#f7ef2e"/>
<circle cx="538.92" cy="65.00" r="2.3" fill="#85859d"/>
<path d="M536.72 65.60a2.3 2.3 0 0 1 3.6 -2.6a3.4 3.4 0 0 0 -3.6 2.6z" fill="#2a2a30"/>
<circle cx="538.92" cy="141.30" r="5.3" fill="#24432f"/>
<circle cx="538.92" cy="141.30" r="3.8" fill="#f7ef2e"/>
<circle cx="538.92" cy="141.30" r="2.3" fill="#85859d"/>
<path d="M536.72 141.90a2.3 2.3 0 0 1 3.6 -2.6a3.4 3.4 0 0 0 -3.6 2.6z" fill="#2a2a30"/>
<circle cx="551.65" cy="65.00" r="5.3" fill="#24432f"/>
<circle cx="551.65" cy="65.00" r="3.8" fill="#f7ef2e"/>
<circle cx="551.65" cy="65.00" r="2.3" fill="#85859d"/>
<path d="M549.45 65.60a2.3 2.3 0 0 1 3.6 -2.6a3.4 3.4 0 0 0 -3.6 2.6z" fill="#2a2a30"/>
<circle cx="551.65" cy="141.30" r="5.3" fill="#24432f"/>
<circle cx="551.65" cy="141.30" r="3.8" fill="#f7ef2e"/>
<circle cx="551.65" cy="141.30" r="2.3" fill="#85859d"/>
<path d="M549.45 141.90a2.3 2.3 0 0 1 3.6 -2.6a3.4 3.4 0 0 0 -3.6 2.6z" fill="#2a2a30"/>
<circle cx="564.38" cy="65.00" r="5.3" fill="#24432f"/>
<circle cx="564.38" cy="65.00" r="3.8" fill="#f7ef2e"/>
<circle cx="564.38" cy="65.00" r="2.3" fill="#85859d"/>
<path d="M562.18 65.60a2.3 2.3 0 0 1 3.6 -2.6a3.4 3.4 0 0 0 -3.6 2.6z" fill="#2a2a30"/>
<circle cx="564.38" cy="141.30" r="5.3" fill="#24432f"/>
<circle cx="564.38" cy="141.30" r="3.8" fill="#f7ef2e"/>
<circle cx="564.38" cy="141.30" r="2.3" fill="#85859d"/>
<path d="M562.18 141.90a2.3 2.3 0 0 1 3.6 -2.6a3.4 3.4 0 0 0 -3.6 2.6z" fill="#2a2a30"/>
<circle cx="577.11" cy="65.00" r="5.3" fill="#24432f"/>
<circle cx="577.11" cy="65.00" r="3.8" fill="#f7ef2e"/>
<circle cx="577.11" cy="65.00" r="2.3" fill="#85859d"/>
<path d="M574.91 65.60a2.3 2.3 0 0 1 3.6 -2.6a3.4 3.4 0 0 0 -3.6 2.6z" fill="#2a2a30"/>
<circle cx="577.11" cy="141.30" r="5.3" fill="#24432f"/>
<circle cx="577.11" cy="141.30" r="3.8" fill="#f7ef2e"/>
<circle cx="577.11" cy="141.30" r="2.3" fill="#85859d"/>
<path d="M574.91 141.90a2.3 2.3 0 0 1 3.6 -2.6a3.4 3.4 0 0 0 -3.6 2.6z" fill="#2a2a30"/>
<circle cx="589.84" cy="65.00" r="5.3" fill="#24432f"/>
<circle cx="589.84" cy="65.00" r="3.8" fill="#f7ef2e"/>
<circle cx="589.84" cy="65.00" r="2.3" fill="#85859d"/>
<path d="M587.64 65.60a2.3 2.3 0 0 1 3.6 -2.6a3.4 3.4 0 0 0 -3.6 2.6z" fill="#2a2a30"/>
<circle cx="589.84" cy="141.30" r="5.3" fill="#24432f"/>
<circle cx="589.84" cy="141.30" r="3.8" fill="#f7ef2e"/>
<circle cx="589.84" cy="141.30" r="2.3" fill="#85859d"/>
<path d="M587.64 141.90a2.3 2.3 0 0 1 3.6 -2.6a3.4 3.4 0 0 0 -3.6 2.6z" fill="#2a2a30"/>
<circle cx="602.57" cy="65.00" r="5.3" fill="#24432f"/>
<circle cx="602.57" cy="65.00" r="3.8" fill="#f7ef2e"/>
<circle cx="602.57" cy="65.00" r="2.3" fill="#85859d"/>
<path d="M600.37 65.60a2.3 2.3 0 0 1 3.6 -2.6a3.4 3.4 0 0 0 -3.6 2.6z" fill="#2a2a30"/>
<circle cx="602.57" cy="141.30" r="5.3" fill="#24432f"/>
<circle cx="602.57" cy="141.30" r="3.8" fill="#f7ef2e"/>
<circle cx="602.57" cy="141.30" r="2.3" fill="#85859d"/>
<path d="M600.37 141.90a2.3 2.3 0 0 1 3.6 -2.6a3.4 3.4 0 0 0 -3.6 2.6z" fill="#2a2a30"/>
<circle cx="615.30" cy="65.00" r="5.3" fill="#24432f"/>
<circle cx="615.30" cy="65.00" r="3.8" fill="#f7ef2e"/>
<circle cx="615.30" cy="65.00" r="2.3" fill="#85859d"/>
<path d="M613.10 65.60a2.3 2.3 0 0 1 3.6 -2.6a3.4 3.4 0 0 0 -3.6 2.6z" fill="#2a2a30"/>
<circle cx="615.30" cy="141.30" r="5.3" fill="#24432f"/>
<circle cx="615.30" cy="141.30" r="3.8" fill="#f7ef2e"/>
<circle cx="615.30" cy="141.30" r="2.3" fill="#85859d"/>
<path d="M613.10 141.90a2.3 2.3 0 0 1 3.6 -2.6a3.4 3.4 0 0 0 -3.6 2.6z" fill="#2a2a30"/>
<circle cx="628.03" cy="65.00" r="5.3" fill="#24432f"/>
<circle cx="628.03" cy="65.00" r="3.8" fill="#f7ef2e"/>
<circle cx="628.03" cy="65.00" r="2.3" fill="#85859d"/>
<path d="M625.83 65.60a2.3 2.3 0 0 1 3.6 -2.6a3.4 3.4 0 0 0 -3.6 2.6z" fill="#2a2a30"/>
<rect x="622.53" y="135.80" width="11" height="11" fill="#24432f"/>
<rect x="623.83" y="137.10" width="8.4" height="8.4" fill="#f7ef2e"/>
<circle cx="628.03" cy="141.30" r="2.3" fill="#85859d"/>
<path d="M625.83 141.90a2.3 2.3 0 0 1 3.6 -2.6a3.4 3.4 0 0 0 -3.6 2.6z" fill="#2a2a30"/>
</g>
<path d="M481.8 58.3H634.3V84.5H646.3V122.5H634.3V147.5H481.8Z" fill="none" stroke="#ffffff" stroke-width="1.1"/>
<g id="diodes" font-family="'Liberation Sans', sans-serif" font-size="6" fill="#fbfbfb" fill-opacity="0.88">
<rect x="95.45" y="193.85" width="10.6" height="18.80" rx="1.5" fill="#24432f"/>
<rect x="97.55" y="183.25" width="6.4" height="38.40" fill="#24432f"/>
<rect x="94.75" y="177.25" width="12" height="12" rx="1.4" fill="#24432f"/>
<rect x="96.75" y="179.25" width="8" height="8" fill="#f7ef2e"/>
<circle cx="100.75" cy="183.25" r="1.55" fill="#9696b2"/>
<circle cx="101.25" cy="182.85" r="0.75" fill="#34343c"/>
<circle cx="100.75" cy="221.65" r="5.9" fill="#24432f"/>
<circle cx="100.75" cy="221.65" r="3.7" fill="#f7ef2e"/>
<circle cx="100.75" cy="221.65" r="1.55" fill="#9696b2"/>
<circle cx="101.25" cy="221.25" r="0.75" fill="#34343c"/>
<path d="M100.75 188.05V195.45M100.75 211.05V217.25" stroke="#fbfbfb" stroke-width="1.1" fill="none"/>
<path d="M94.95 195.45H106.35M106.35 192.35V213.05" stroke="#fbfbfb" stroke-width="0.9" fill="none"/>
<rect x="97.05" y="195.45" width="7.4" height="15.60" fill="#5a5656"/>
<rect x="97.65" y="195.45" width="6.6" height="4.7" rx="0.8" fill="#d8d8d8"/>
<rect x="97.35" y="206.35" width="6.8" height="4.7" rx="0.8" fill="#f0f0f0"/>
<text transform="translate(107.5 198.7) rotate(90)" textLength="13.4" lengthAdjust="spacingAndGlyphs">D18</text>
<rect x="190.70" y="193.85" width="10.6" height="18.80" rx="1.5" fill="#24432f"/>
<rect x="192.80" y="183.25" width="6.4" height="38.40" fill="#24432f"/>
<rect x="190.00" y="177.25" width="12" height="12" rx="1.4" fill="#24432f"/>
<rect x="192.00" y="179.25" width="8" height="8" fill="#f7ef2e"/>
<circle cx="196.00" cy="183.25" r="1.55" fill="#9696b2"/>
<circle cx="196.50" cy="182.85" r="0.75" fill="#34343c"/>
<circle cx="196.00" cy="221.65" r="5.9" fill="#24432f"/>
<circle cx="196.00" cy="221.65" r="3.7" fill="#f7ef2e"/>
<circle cx="196.00" cy="221.65" r="1.55" fill="#9696b2"/>
<circle cx="196.50" cy="221.25" r="0.75" fill="#34343c"/>
<path d="M196.00 187.45V195.45M196.00 211.05V217.65" stroke="#40632f" stroke-width="1.6" fill="none"/>
<path d="M190.40 192.35V213.05M201.70 192.35V213.05M190.40 195.25H201.70" stroke="#fbfbfb" stroke-width="0.9" fill="none"/>
<rect x="192.30" y="195.45" width="7.4" height="15.60" fill="#5a5656"/>
<rect x="192.90" y="195.45" width="6.6" height="4.7" rx="0.8" fill="#d8d8d8"/>
<rect x="192.60" y="206.35" width="6.8" height="4.7" rx="0.8" fill="#f0f0f0"/>
<text transform="translate(203.0 198.7) rotate(90)" textLength="13.4" lengthAdjust="spacingAndGlyphs">D17</text>
<rect x="285.95" y="193.85" width="10.6" height="18.80" rx="1.5" fill="#24432f"/>
<rect x="288.05" y="183.25" width="6.4" height="38.40" fill="#24432f"/>
<rect x="285.25" y="177.25" width="12" height="12" rx="1.4" fill="#24432f"/>
<rect x="287.25" y="179.25" width="8" height="8" fill="#f7ef2e"/>
<circle cx="291.25" cy="183.25" r="1.55" fill="#9696b2"/>
<circle cx="291.75" cy="182.85" r="0.75" fill="#34343c"/>
<circle cx="291.25" cy="221.65" r="5.9" fill="#24432f"/>
<circle cx="291.25" cy="221.65" r="3.7" fill="#f7ef2e"/>
<circle cx="291.25" cy="221.65" r="1.55" fill="#9696b2"/>
<circle cx="291.75" cy="221.25" r="0.75" fill="#34343c"/>
<path d="M291.25 188.05V195.45M291.25 211.05V217.25" stroke="#fbfbfb" stroke-width="1.1" fill="none"/>
<path d="M285.45 195.45H296.85M296.85 192.35V213.05" stroke="#fbfbfb" stroke-width="0.9" fill="none"/>
<rect x="287.55" y="195.45" width="7.4" height="15.60" fill="#5a5656"/>
<rect x="288.15" y="195.45" width="6.6" height="4.7" rx="0.8" fill="#d8d8d8"/>
<rect x="287.85" y="206.35" width="6.8" height="4.7" rx="0.8" fill="#f0f0f0"/>
<text transform="translate(297.9 198.7) rotate(90)" textLength="13.4" lengthAdjust="spacingAndGlyphs">D16</text>
<rect x="381.45" y="193.85" width="10.6" height="18.80" rx="1.5" fill="#24432f"/>
<rect x="383.55" y="183.25" width="6.4" height="38.40" fill="#24432f"/>
<rect x="380.75" y="177.25" width="12" height="12" rx="1.4" fill="#24432f"/>
<rect x="382.75" y="179.25" width="8" height="8" fill="#f7ef2e"/>
<circle cx="386.75" cy="183.25" r="1.55" fill="#9696b2"/>
<circle cx="387.25" cy="182.85" r="0.75" fill="#34343c"/>
<circle cx="386.75" cy="221.65" r="5.9" fill="#24432f"/>
<circle cx="386.75" cy="221.65" r="3.7" fill="#f7ef2e"/>
<circle cx="386.75" cy="221.65" r="1.55" fill="#9696b2"/>
<circle cx="387.25" cy="221.25" r="0.75" fill="#34343c"/>
<path d="M386.75 188.05V195.45M386.75 211.05V217.25" stroke="#fbfbfb" stroke-width="1.1" fill="none"/>
<path d="M380.95 195.45H392.35M392.35 192.35V213.05" stroke="#fbfbfb" stroke-width="0.9" fill="none"/>
<rect x="383.05" y="195.45" width="7.4" height="15.60" fill="#5a5656"/>
<rect x="383.65" y="195.45" width="6.6" height="4.7" rx="0.8" fill="#d8d8d8"/>
<rect x="383.35" y="206.35" width="6.8" height="4.7" rx="0.8" fill="#f0f0f0"/>
<text transform="translate(393.4 198.7) rotate(90)" textLength="13.4" lengthAdjust="spacingAndGlyphs">D15</text>
<rect x="476.45" y="193.85" width="10.6" height="18.80" rx="1.5" fill="#24432f"/>
<rect x="478.55" y="183.25" width="6.4" height="38.40" fill="#24432f"/>
<rect x="475.75" y="177.25" width="12" height="12" rx="1.4" fill="#24432f"/>
<rect x="477.75" y="179.25" width="8" height="8" fill="#f7ef2e"/>
<circle cx="481.75" cy="183.25" r="1.55" fill="#9696b2"/>
<circle cx="482.25" cy="182.85" r="0.75" fill="#34343c"/>
<circle cx="481.75" cy="221.65" r="5.9" fill="#24432f"/>
<circle cx="481.75" cy="221.65" r="3.7" fill="#f7ef2e"/>
<circle cx="481.75" cy="221.65" r="1.55" fill="#9696b2"/>
<circle cx="482.25" cy="221.25" r="0.75" fill="#34343c"/>
<path d="M481.75 187.45V195.45M481.75 211.05V217.65" stroke="#40632f" stroke-width="1.6" fill="none"/>
<path d="M476.15 192.35V213.05M487.45 192.35V213.05M476.15 195.25H487.45" stroke="#fbfbfb" stroke-width="0.9" fill="none"/>
<rect x="478.05" y="195.45" width="7.4" height="15.60" fill="#5a5656"/>
<rect x="478.65" y="195.45" width="6.6" height="4.7" rx="0.8" fill="#d8d8d8"/>
<rect x="478.35" y="206.35" width="6.8" height="4.7" rx="0.8" fill="#f0f0f0"/>
<text transform="translate(488.8 198.7) rotate(90)" textLength="13.4" lengthAdjust="spacingAndGlyphs">D14</text>
<rect x="619.20" y="193.85" width="10.6" height="18.80" rx="1.5" fill="#24432f"/>
<rect x="621.30" y="183.25" width="6.4" height="38.40" fill="#24432f"/>
<rect x="618.50" y="177.25" width="12" height="12" rx="1.4" fill="#24432f"/>
<rect x="620.50" y="179.25" width="8" height="8" fill="#f7ef2e"/>
<circle cx="624.50" cy="183.25" r="1.55" fill="#9696b2"/>
<circle cx="625.00" cy="182.85" r="0.75" fill="#34343c"/>
<circle cx="624.50" cy="221.65" r="5.9" fill="#24432f"/>
<circle cx="624.50" cy="221.65" r="3.7" fill="#f7ef2e"/>
<circle cx="624.50" cy="221.65" r="1.55" fill="#9696b2"/>
<circle cx="625.00" cy="221.25" r="0.75" fill="#34343c"/>
<path d="M624.50 188.05V195.45M624.50 211.05V217.25" stroke="#fbfbfb" stroke-width="1.1" fill="none"/>
<path d="M618.70 195.45H630.10M630.10 192.35V213.05" stroke="#fbfbfb" stroke-width="0.9" fill="none"/>
<rect x="620.80" y="195.45" width="7.4" height="15.60" fill="#5a5656"/>
<rect x="621.40" y="195.45" width="6.6" height="4.7" rx="0.8" fill="#d8d8d8"/>
<rect x="621.10" y="206.35" width="6.8" height="4.7" rx="0.8" fill="#f0f0f0"/>
<text transform="translate(631.2 198.7) rotate(90)" textLength="13.4" lengthAdjust="spacingAndGlyphs">D13</text>
<rect x="714.70" y="193.85" width="10.6" height="18.80" rx="1.5" fill="#24432f"/>
<rect x="716.80" y="183.25" width="6.4" height="38.40" fill="#24432f"/>
<rect x="714.00" y="177.25" width="12" height="12" rx="1.4" fill="#24432f"/>
<rect x="716.00" y="179.25" width="8" height="8" fill="#f7ef2e"/>
<circle cx="720.00" cy="183.25" r="1.55" fill="#9696b2"/>
<circle cx="720.50" cy="182.85" r="0.75" fill="#34343c"/>
<circle cx="720.00" cy="221.65" r="5.9" fill="#24432f"/>
<circle cx="720.00" cy="221.65" r="3.7" fill="#f7ef2e"/>
<circle cx="720.00" cy="221.65" r="1.55" fill="#9696b2"/>
<circle cx="720.50" cy="221.25" r="0.75" fill="#34343c"/>
<path d="M720.00 188.05V195.45M720.00 211.05V217.25" stroke="#fbfbfb" stroke-width="1.1" fill="none"/>
<path d="M714.20 195.45H725.60M725.60 192.35V213.05" stroke="#fbfbfb" stroke-width="0.9" fill="none"/>
<rect x="716.30" y="195.45" width="7.4" height="15.60" fill="#5a5656"/>
<rect x="716.90" y="195.45" width="6.6" height="4.7" rx="0.8" fill="#d8d8d8"/>
<rect x="716.60" y="206.35" width="6.8" height="4.7" rx="0.8" fill="#f0f0f0"/>
<text transform="translate(726.7 198.7) rotate(90)" textLength="13.4" lengthAdjust="spacingAndGlyphs">D12</text>
<rect x="809.70" y="193.85" width="10.6" height="18.80" rx="1.5" fill="#24432f"/>
<rect x="811.80" y="183.25" width="6.4" height="38.40" fill="#24432f"/>
<rect x="809.00" y="177.25" width="12" height="12" rx="1.4" fill="#24432f"/>
<rect x="811.00" y="179.25" width="8" height="8" fill="#f7ef2e"/>
<circle cx="815.00" cy="183.25" r="1.55" fill="#9696b2"/>
<circle cx="815.50" cy="182.85" r="0.75" fill="#34343c"/>
<circle cx="815.00" cy="221.65" r="5.9" fill="#24432f"/>
<circle cx="815.00" cy="221.65" r="3.7" fill="#f7ef2e"/>
<circle cx="815.00" cy="221.65" r="1.55" fill="#9696b2"/>
<circle cx="815.50" cy="221.25" r="0.75" fill="#34343c"/>
<path d="M815.00 187.45V195.45M815.00 211.05V217.65" stroke="#40632f" stroke-width="1.6" fill="none"/>
<path d="M809.40 192.35V213.05M820.70 192.35V213.05M809.40 195.25H820.70" stroke="#fbfbfb" stroke-width="0.9" fill="none"/>
<rect x="811.30" y="195.45" width="7.4" height="15.60" fill="#5a5656"/>
<rect x="811.90" y="195.45" width="6.6" height="4.7" rx="0.8" fill="#d8d8d8"/>
<rect x="811.60" y="206.35" width="6.8" height="4.7" rx="0.8" fill="#f0f0f0"/>
<text transform="translate(822.0 198.7) rotate(90)" textLength="13.4" lengthAdjust="spacingAndGlyphs">D11</text>
<rect x="905.45" y="193.85" width="10.6" height="18.80" rx="1.5" fill="#24432f"/>
<rect x="907.55" y="183.25" width="6.4" height="38.40" fill="#24432f"/>
<rect x="904.75" y="177.25" width="12" height="12" rx="1.4" fill="#24432f"/>
<rect x="906.75" y="179.25" width="8" height="8" fill="#f7ef2e"/>
<circle cx="910.75" cy="183.25" r="1.55" fill="#9696b2"/>
<circle cx="911.25" cy="182.85" r="0.75" fill="#34343c"/>
<circle cx="910.75" cy="221.65" r="5.9" fill="#24432f"/>
<circle cx="910.75" cy="221.65" r="3.7" fill="#f7ef2e"/>
<circle cx="910.75" cy="221.65" r="1.55" fill="#9696b2"/>
<circle cx="911.25" cy="221.25" r="0.75" fill="#34343c"/>
<path d="M910.75 188.05V195.45M910.75 211.05V217.25" stroke="#fbfbfb" stroke-width="1.1" fill="none"/>
<path d="M904.95 195.45H916.35M916.35 192.35V213.05" stroke="#fbfbfb" stroke-width="0.9" fill="none"/>
<rect x="907.05" y="195.45" width="7.4" height="15.60" fill="#5a5656"/>
<rect x="907.65" y="195.45" width="6.6" height="4.7" rx="0.8" fill="#d8d8d8"/>
<rect x="907.35" y="206.35" width="6.8" height="4.7" rx="0.8" fill="#f0f0f0"/>
<text transform="translate(917.5 198.7) rotate(90)" textLength="13.4" lengthAdjust="spacingAndGlyphs">D10</text>
<rect x="1000.45" y="193.85" width="10.6" height="18.80" rx="1.5" fill="#24432f"/>
<rect x="1002.55" y="183.25" width="6.4" height="38.40" fill="#24432f"/>
<rect x="999.75" y="177.25" width="12" height="12" rx="1.4" fill="#24432f"/>
<rect x="1001.75" y="179.25" width="8" height="8" fill="#f7ef2e"/>
<circle cx="1005.75" cy="183.25" r="1.55" fill="#9696b2"/>
<circle cx="1005.25" cy="182.85" r="0.75" fill="#34343c"/>
<circle cx="1005.75" cy="221.65" r="5.9" fill="#24432f"/>
<circle cx="1005.75" cy="221.65" r="3.7" fill="#f7ef2e"/>
<circle cx="1005.75" cy="221.65" r="1.55" fill="#9696b2"/>
<circle cx="1005.25" cy="221.25" r="0.75" fill="#34343c"/>
<path d="M1005.75 188.05V195.45M1005.75 211.05V217.25" stroke="#fbfbfb" stroke-width="1.1" fill="none"/>
<path d="M999.95 195.45H1011.35M1011.35 192.35V213.05" stroke="#fbfbfb" stroke-width="0.9" fill="none"/>
<rect x="1002.05" y="195.45" width="7.4" height="15.60" fill="#5a5656"/>
<rect x="1002.65" y="195.45" width="6.6" height="4.7" rx="0.8" fill="#d8d8d8"/>
<rect x="1002.35" y="206.35" width="6.8" height="4.7" rx="0.8" fill="#f0f0f0"/>
<text transform="translate(1012.5 198.7) rotate(90)" textLength="8.9" lengthAdjust="spacingAndGlyphs">D9</text>
<rect x="1095.45" y="193.85" width="10.6" height="18.80" rx="1.5" fill="#24432f"/>
<rect x="1097.55" y="183.25" width="6.4" height="38.40" fill="#24432f"/>
<rect x="1094.75" y="177.25" width="12" height="12" rx="1.4" fill="#24432f"/>
<rect x="1096.75" y="179.25" width="8" height="8" fill="#f7ef2e"/>
<circle cx="1100.75" cy="183.25" r="1.55" fill="#9696b2"/>
<circle cx="1100.25" cy="182.85" r="0.75" fill="#34343c"/>
<circle cx="1100.75" cy="221.65" r="5.9" fill="#24432f"/>
<circle cx="1100.75" cy="221.65" r="3.7" fill="#f7ef2e"/>
<circle cx="1100.75" cy="221.65" r="1.55" fill="#9696b2"/>
<circle cx="1100.25" cy="221.25" r="0.75" fill="#34343c"/>
<path d="M1100.75 187.45V195.45M1100.75 211.05V217.65" stroke="#40632f" stroke-width="1.6" fill="none"/>
<path d="M1095.15 192.35V213.05M1106.45 192.35V213.05M1095.15 195.25H1106.45" stroke="#fbfbfb" stroke-width="0.9" fill="none"/>
<rect x="1097.05" y="195.45" width="7.4" height="15.60" fill="#5a5656"/>
<rect x="1097.65" y="195.45" width="6.6" height="4.7" rx="0.8" fill="#d8d8d8"/>
<rect x="1097.35" y="206.35" width="6.8" height="4.7" rx="0.8" fill="#f0f0f0"/>
<text transform="translate(1107.8 198.7) rotate(90)" textLength="8.9" lengthAdjust="spacingAndGlyphs">D8</text>
<rect x="1190.95" y="193.85" width="10.6" height="18.80" rx="1.5" fill="#24432f"/>
<rect x="1193.05" y="183.25" width="6.4" height="38.40" fill="#24432f"/>
<rect x="1190.25" y="177.25" width="12" height="12" rx="1.4" fill="#24432f"/>
<rect x="1192.25" y="179.25" width="8" height="8" fill="#f7ef2e"/>
<circle cx="1196.25" cy="183.25" r="1.55" fill="#9696b2"/>
<circle cx="1195.75" cy="182.85" r="0.75" fill="#34343c"/>
<circle cx="1196.25" cy="221.65" r="5.9" fill="#24432f"/>
<circle cx="1196.25" cy="221.65" r="3.7" fill="#f7ef2e"/>
<circle cx="1196.25" cy="221.65" r="1.55" fill="#9696b2"/>
<circle cx="1195.75" cy="221.25" r="0.75" fill="#34343c"/>
<path d="M1196.25 188.05V195.45M1196.25 211.05V217.25" stroke="#fbfbfb" stroke-width="1.1" fill="none"/>
<path d="M1190.45 195.45H1201.85M1201.85 192.35V213.05" stroke="#fbfbfb" stroke-width="0.9" fill="none"/>
<rect x="1192.55" y="195.45" width="7.4" height="15.60" fill="#5a5656"/>
<rect x="1193.15" y="195.45" width="6.6" height="4.7" rx="0.8" fill="#d8d8d8"/>
<rect x="1192.85" y="206.35" width="6.8" height="4.7" rx="0.8" fill="#f0f0f0"/>
<text transform="translate(1203.0 198.7) rotate(90)" textLength="8.9" lengthAdjust="spacingAndGlyphs">D7</text>
<rect x="1285.95" y="193.85" width="10.6" height="18.80" rx="1.5" fill="#24432f"/>
<rect x="1288.05" y="183.25" width="6.4" height="38.40" fill="#24432f"/>
<rect x="1285.25" y="177.25" width="12" height="12" rx="1.4" fill="#24432f"/>
<rect x="1287.25" y="179.25" width="8" height="8" fill="#f7ef2e"/>
<circle cx="1291.25" cy="183.25" r="1.55" fill="#9696b2"/>
<circle cx="1290.75" cy="182.85" r="0.75" fill="#34343c"/>
<circle cx="1291.25" cy="221.65" r="5.9" fill="#24432f"/>
<circle cx="1291.25" cy="221.65" r="3.7" fill="#f7ef2e"/>
<circle cx="1291.25" cy="221.65" r="1.55" fill="#9696b2"/>
<circle cx="1290.75" cy="221.25" r="0.75" fill="#34343c"/>
<path d="M1291.25 188.05V195.45M1291.25 211.05V217.25" stroke="#fbfbfb" stroke-width="1.1" fill="none"/>
<path d="M1285.45 195.45H1296.85M1296.85 192.35V213.05" stroke="#fbfbfb" stroke-width="0.9" fill="none"/>
<rect x="1287.55" y="195.45" width="7.4" height="15.60" fill="#5a5656"/>
<rect x="1288.15" y="195.45" width="6.6" height="4.7" rx="0.8" fill="#d8d8d8"/>
<rect x="1287.85" y="206.35" width="6.8" height="4.7" rx="0.8" fill="#f0f0f0"/>
<text transform="translate(1298.0 198.7) rotate(90)" textLength="8.9" lengthAdjust="spacingAndGlyphs">D6</text>
<rect x="1381.20" y="193.85" width="10.6" height="18.80" rx="1.5" fill="#24432f"/>
<rect x="1383.30" y="183.25" width="6.4" height="38.40" fill="#24432f"/>
<rect x="1380.50" y="177.25" width="12" height="12" rx="1.4" fill="#24432f"/>
<rect x="1382.50" y="179.25" width="8" height="8" fill="#f7ef2e"/>
<circle cx="1386.50" cy="183.25" r="1.55" fill="#9696b2"/>
<circle cx="1386.00" cy="182.85" r="0.75" fill="#34343c"/>
<circle cx="1386.50" cy="221.65" r="5.9" fill="#24432f"/>
<circle cx="1386.50" cy="221.65" r="3.7" fill="#f7ef2e"/>
<circle cx="1386.50" cy="221.65" r="1.55" fill="#9696b2"/>
<circle cx="1386.00" cy="221.25" r="0.75" fill="#34343c"/>
<path d="M1386.50 187.45V195.45M1386.50 211.05V217.65" stroke="#40632f" stroke-width="1.6" fill="none"/>
<path d="M1380.90 192.35V213.05M1392.20 192.35V213.05M1380.90 195.25H1392.20" stroke="#fbfbfb" stroke-width="0.9" fill="none"/>
<rect x="1382.80" y="195.45" width="7.4" height="15.60" fill="#5a5656"/>
<rect x="1383.40" y="195.45" width="6.6" height="4.7" rx="0.8" fill="#d8d8d8"/>
<rect x="1383.10" y="206.35" width="6.8" height="4.7" rx="0.8" fill="#f0f0f0"/>
<text transform="translate(1393.5 198.7) rotate(90)" textLength="8.9" lengthAdjust="spacingAndGlyphs">D5</text>
<rect x="1476.70" y="193.85" width="10.6" height="18.80" rx="1.5" fill="#24432f"/>
<rect x="1478.80" y="183.25" width="6.4" height="38.40" fill="#24432f"/>
<rect x="1476.00" y="177.25" width="12" height="12" rx="1.4" fill="#24432f"/>
<rect x="1478.00" y="179.25" width="8" height="8" fill="#f7ef2e"/>
<circle cx="1482.00" cy="183.25" r="1.55" fill="#9696b2"/>
<circle cx="1481.50" cy="182.85" r="0.75" fill="#34343c"/>
<circle cx="1482.00" cy="221.65" r="5.9" fill="#24432f"/>
<circle cx="1482.00" cy="221.65" r="3.7" fill="#f7ef2e"/>
<circle cx="1482.00" cy="221.65" r="1.55" fill="#9696b2"/>
<circle cx="1481.50" cy="221.25" r="0.75" fill="#34343c"/>
<path d="M1482.00 188.05V195.45M1482.00 211.05V217.25" stroke="#fbfbfb" stroke-width="1.1" fill="none"/>
<path d="M1476.20 195.45H1487.60M1487.60 192.35V213.05" stroke="#fbfbfb" stroke-width="0.9" fill="none"/>
<rect x="1478.30" y="195.45" width="7.4" height="15.60" fill="#5a5656"/>
<rect x="1478.90" y="195.45" width="6.6" height="4.7" rx="0.8" fill="#d8d8d8"/>
<rect x="1478.60" y="206.35" width="6.8" height="4.7" rx="0.8" fill="#f0f0f0"/>
<text transform="translate(1488.7 198.7) rotate(90)" textLength="8.9" lengthAdjust="spacingAndGlyphs">D4</text>
<rect x="1571.90" y="193.85" width="10.6" height="18.80" rx="1.5" fill="#24432f"/>
<rect x="1574.00" y="183.25" width="6.4" height="38.40" fill="#24432f"/>
<rect x="1571.20" y="177.25" width="12" height="12" rx="1.4" fill="#24432f"/>
<rect x="1573.20" y="179.25" width="8" height="8" fill="#f7ef2e"/>
<circle cx="1577.20" cy="183.25" r="1.55" fill="#9696b2"/>
<circle cx="1576.70" cy="182.85" r="0.75" fill="#34343c"/>
<circle cx="1577.20" cy="221.65" r="5.9" fill="#24432f"/>
<circle cx="1577.20" cy="221.65" r="3.7" fill="#f7ef2e"/>
<circle cx="1577.20" cy="221.65" r="1.55" fill="#9696b2"/>
<circle cx="1576.70" cy="221.25" r="0.75" fill="#34343c"/>
<path d="M1577.20 188.05V195.45M1577.20 211.05V217.25" stroke="#fbfbfb" stroke-width="1.1" fill="none"/>
<path d="M1571.40 195.45H1582.80M1582.80 192.35V213.05" stroke="#fbfbfb" stroke-width="0.9" fill="none"/>
<rect x="1573.50" y="195.45" width="7.4" height="15.60" fill="#5a5656"/>
<rect x="1574.10" y="195.45" width="6.6" height="4.7" rx="0.8" fill="#d8d8d8"/>
<rect x="1573.80" y="206.35" width="6.8" height="4.7" rx="0.8" fill="#f0f0f0"/>
<text transform="translate(1583.9 198.7) rotate(90)" textLength="8.9" lengthAdjust="spacingAndGlyphs">D3</text>
<rect x="1667.00" y="193.85" width="10.6" height="18.80" rx="1.5" fill="#24432f"/>
<rect x="1669.10" y="183.25" width="6.4" height="38.40" fill="#24432f"/>
<rect x="1666.30" y="177.25" width="12" height="12" rx="1.4" fill="#24432f"/>
<rect x="1668.30" y="179.25" width="8" height="8" fill="#f7ef2e"/>
<circle cx="1672.30" cy="183.25" r="1.55" fill="#9696b2"/>
<circle cx="1671.80" cy="182.85" r="0.75" fill="#34343c"/>
<circle cx="1672.30" cy="221.65" r="5.9" fill="#24432f"/>
<circle cx="1672.30" cy="221.65" r="3.7" fill="#f7ef2e"/>
<circle cx="1672.30" cy="221.65" r="1.55" fill="#9696b2"/>
<circle cx="1671.80" cy="221.25" r="0.75" fill="#34343c"/>
<path d="M1672.30 187.45V195.45M1672.30 211.05V217.65" stroke="#40632f" stroke-width="1.6" fill="none"/>
<path d="M1666.70 192.35V213.05M1678.00 192.35V213.05M1666.70 195.25H1678.00" stroke="#fbfbfb" stroke-width="0.9" fill="none"/>
<rect x="1668.60" y="195.45" width="7.4" height="15.60" fill="#5a5656"/>
<rect x="1669.20" y="195.45" width="6.6" height="4.7" rx="0.8" fill="#d8d8d8"/>
<rect x="1668.90" y="206.35" width="6.8" height="4.7" rx="0.8" fill="#f0f0f0"/>
<text transform="translate(1679.3 198.7) rotate(90)" textLength="8.9" lengthAdjust="spacingAndGlyphs">D2</text>
<rect x="1762.40" y="193.85" width="10.6" height="18.80" rx="1.5" fill="#24432f"/>
<rect x="1764.50" y="183.25" width="6.4" height="38.40" fill="#24432f"/>
<rect x="1761.70" y="177.25" width="12" height="12" rx="1.4" fill="#24432f"/>
<rect x="1763.70" y="179.25" width="8" height="8" fill="#f7ef2e"/>
<circle cx="1767.70" cy="183.25" r="1.55" fill="#9696b2"/>
<circle cx="1767.20" cy="182.85" r="0.75" fill="#34343c"/>
<circle cx="1767.70" cy="221.65" r="5.9" fill="#24432f"/>
<circle cx="1767.70" cy="221.65" r="3.7" fill="#f7ef2e"/>
<circle cx="1767.70" cy="221.65" r="1.55" fill="#9696b2"/>
<circle cx="1767.20" cy="221.25" r="0.75" fill="#34343c"/>
<path d="M1767.70 188.05V195.45M1767.70 211.05V217.25" stroke="#fbfbfb" stroke-width="1.1" fill="none"/>
<path d="M1761.90 195.45H1773.30M1773.30 192.35V213.05" stroke="#fbfbfb" stroke-width="0.9" fill="none"/>
<rect x="1764.00" y="195.45" width="7.4" height="15.60" fill="#5a5656"/>
<rect x="1764.60" y="195.45" width="6.6" height="4.7" rx="0.8" fill="#d8d8d8"/>
<rect x="1764.30" y="206.35" width="6.8" height="4.7" rx="0.8" fill="#f0f0f0"/>
<text transform="translate(1774.4 198.7) rotate(90)" textLength="8.9" lengthAdjust="spacingAndGlyphs">D1</text>
<rect x="95.45" y="289.35" width="10.6" height="18.80" rx="1.5" fill="#24432f"/>
<rect x="97.55" y="278.75" width="6.4" height="38.40" fill="#24432f"/>
<rect x="94.75" y="272.75" width="12" height="12" rx="1.4" fill="#24432f"/>
<rect x="96.75" y="274.75" width="8" height="8" fill="#f7ef2e"/>
<circle cx="100.75" cy="278.75" r="1.55" fill="#9696b2"/>
<circle cx="101.25" cy="278.35" r="0.75" fill="#34343c"/>
<circle cx="100.75" cy="317.15" r="5.9" fill="#24432f"/>
<circle cx="100.75" cy="317.15" r="3.7" fill="#f7ef2e"/>
<circle cx="100.75" cy="317.15" r="1.55" fill="#9696b2"/>
<circle cx="101.25" cy="316.75" r="0.75" fill="#34343c"/>
<path d="M100.75 283.55V290.95M100.75 306.55V312.75" stroke="#fbfbfb" stroke-width="1.1" fill="none"/>
<path d="M94.95 290.95H106.35M106.35 287.85V308.55" stroke="#fbfbfb" stroke-width="0.9" fill="none"/>
<rect x="97.05" y="290.95" width="7.4" height="15.60" fill="#5a5656"/>
<rect x="97.65" y="290.95" width="6.6" height="4.7" rx="0.8" fill="#d8d8d8"/>
<rect x="97.35" y="301.85" width="6.8" height="4.7" rx="0.8" fill="#f0f0f0"/>
<text transform="translate(107.5 294.1) rotate(90)" textLength="13.4" lengthAdjust="spacingAndGlyphs">D35</text>
<rect x="190.70" y="289.35" width="10.6" height="18.80" rx="1.5" fill="#24432f"/>
<rect x="192.80" y="278.75" width="6.4" height="38.40" fill="#24432f"/>
<rect x="190.00" y="272.75" width="12" height="12" rx="1.4" fill="#24432f"/>
<rect x="192.00" y="274.75" width="8" height="8" fill="#f7ef2e"/>
<circle cx="196.00" cy="278.75" r="1.55" fill="#9696b2"/>
<circle cx="196.50" cy="278.35" r="0.75" fill="#34343c"/>
<circle cx="196.00" cy="317.15" r="5.9" fill="#24432f"/>
<circle cx="196.00" cy="317.15" r="3.7" fill="#f7ef2e"/>
<circle cx="196.00" cy="317.15" r="1.55" fill="#9696b2"/>
<circle cx="196.50" cy="316.75" r="0.75" fill="#34343c"/>
<path d="M196.00 282.95V290.95M196.00 306.55V313.15" stroke="#40632f" stroke-width="1.6" fill="none"/>
<path d="M190.40 287.85V308.55M201.70 287.85V308.55M190.40 290.75H201.70" stroke="#fbfbfb" stroke-width="0.9" fill="none"/>
<rect x="192.30" y="290.95" width="7.4" height="15.60" fill="#5a5656"/>
<rect x="192.90" y="290.95" width="6.6" height="4.7" rx="0.8" fill="#d8d8d8"/>
<rect x="192.60" y="301.85" width="6.8" height="4.7" rx="0.8" fill="#f0f0f0"/>
<text transform="translate(203.0 294.1) rotate(90)" textLength="13.4" lengthAdjust="spacingAndGlyphs">D34</text>
<rect x="285.95" y="289.35" width="10.6" height="18.80" rx="1.5" fill="#24432f"/>
<rect x="288.05" y="278.75" width="6.4" height="38.40" fill="#24432f"/>
<rect x="285.25" y="272.75" width="12" height="12" rx="1.4" fill="#24432f"/>
<rect x="287.25" y="274.75" width="8" height="8" fill="#f7ef2e"/>
<circle cx="291.25" cy="278.75" r="1.55" fill="#9696b2"/>
<circle cx="291.75" cy="278.35" r="0.75" fill="#34343c"/>
<circle cx="291.25" cy="317.15" r="5.9" fill="#24432f"/>
<circle cx="291.25" cy="317.15" r="3.7" fill="#f7ef2e"/>
<circle cx="291.25" cy="317.15" r="1.55" fill="#9696b2"/>
<circle cx="291.75" cy="316.75" r="0.75" fill="#34343c"/>
<path d="M291.25 283.55V290.95M291.25 306.55V312.75" stroke="#fbfbfb" stroke-width="1.1" fill="none"/>
<path d="M285.45 290.95H296.85M296.85 287.85V308.55" stroke="#fbfbfb" stroke-width="0.9" fill="none"/>
<rect x="287.55" y="290.95" width="7.4" height="15.60" fill="#5a5656"/>
<rect x="288.15" y="290.95" width="6.6" height="4.7" rx="0.8" fill="#d8d8d8"/>
<rect x="287.85" y="301.85" width="6.8" height="4.7" rx="0.8" fill="#f0f0f0"/>
<text transform="translate(297.9 294.1) rotate(90)" textLength="13.4" lengthAdjust="spacingAndGlyphs">D33</text>
<rect x="381.45" y="289.35" width="10.6" height="18.80" rx="1.5" fill="#24432f"/>
<rect x="383.55" y="278.75" width="6.4" height="38.40" fill="#24432f"/>
<rect x="380.75" y="272.75" width="12" height="12" rx="1.4" fill="#24432f"/>
<rect x="382.75" y="274.75" width="8" height="8" fill="#f7ef2e"/>
<circle cx="386.75" cy="278.75" r="1.55" fill="#9696b2"/>
<circle cx="387.25" cy="278.35" r="0.75" fill="#34343c"/>
<circle cx="386.75" cy="317.15" r="5.9" fill="#24432f"/>
<circle cx="386.75" cy="317.15" r="3.7" fill="#f7ef2e"/>
<circle cx="386.75" cy="317.15" r="1.55" fill="#9696b2"/>
<circle cx="387.25" cy="316.75" r="0.75" fill="#34343c"/>
<path d="M386.75 283.55V290.95M386.75 306.55V312.75" stroke="#fbfbfb" stroke-width="1.1" fill="none"/>
<path d="M380.95 290.95H392.35M392.35 287.85V308.55" stroke="#fbfbfb" stroke-width="0.9" fill="none"/>
<rect x="383.05" y="290.95" width="7.4" height="15.60" fill="#5a5656"/>
<rect x="383.65" y="290.95" width="6.6" height="4.7" rx="0.8" fill="#d8d8d8"/>
<rect x="383.35" y="301.85" width="6.8" height="4.7" rx="0.8" fill="#f0f0f0"/>
<text transform="translate(393.4 294.1) rotate(90)" textLength="13.4" lengthAdjust="spacingAndGlyphs">D32</text>
<rect x="571.70" y="289.35" width="10.6" height="18.80" rx="1.5" fill="#24432f"/>
<rect x="573.80" y="278.75" width="6.4" height="38.40" fill="#24432f"/>
<rect x="571.00" y="272.75" width="12" height="12" rx="1.4" fill="#24432f"/>
<rect x="573.00" y="274.75" width="8" height="8" fill="#f7ef2e"/>
<circle cx="577.00" cy="278.75" r="1.55" fill="#9696b2"/>
<circle cx="577.50" cy="278.35" r="0.75" fill="#34343c"/>
<circle cx="577.00" cy="317.15" r="5.9" fill="#24432f"/>
<circle cx="577.00" cy="317.15" r="3.7" fill="#f7ef2e"/>
<circle cx="577.00" cy="317.15" r="1.55" fill="#9696b2"/>
<circle cx="577.50" cy="316.75" r="0.75" fill="#34343c"/>
<path d="M577.00 282.95V290.95M577.00 306.55V313.15" stroke="#40632f" stroke-width="1.6" fill="none"/>
<path d="M571.40 287.85V308.55M582.70 287.85V308.55M571.40 290.75H582.70" stroke="#fbfbfb" stroke-width="0.9" fill="none"/>
<rect x="573.30" y="290.95" width="7.4" height="15.60" fill="#5a5656"/>
<rect x="573.90" y="290.95" width="6.6" height="4.7" rx="0.8" fill="#d8d8d8"/>
<rect x="573.60" y="301.85" width="6.8" height="4.7" rx="0.8" fill="#f0f0f0"/>
<text transform="translate(584.0 294.1) rotate(90)" textLength="13.4" lengthAdjust="spacingAndGlyphs">D31</text>
<rect x="666.70" y="289.35" width="10.6" height="18.80" rx="1.5" fill="#24432f"/>
<rect x="668.80" y="278.75" width="6.4" height="38.40" fill="#24432f"/>
<rect x="666.00" y="272.75" width="12" height="12" rx="1.4" fill="#24432f"/>
<rect x="668.00" y="274.75" width="8" height="8" fill="#f7ef2e"/>
<circle cx="672.00" cy="278.75" r="1.55" fill="#9696b2"/>
<circle cx="672.50" cy="278.35" r="0.75" fill="#34343c"/>
<circle cx="672.00" cy="317.15" r="5.9" fill="#24432f"/>
<circle cx="672.00" cy="317.15" r="3.7" fill="#f7ef2e"/>
<circle cx="672.00" cy="317.15" r="1.55" fill="#9696b2"/>
<circle cx="672.50" cy="316.75" r="0.75" fill="#34343c"/>
<path d="M672.00 283.55V290.95M672.00 306.55V312.75" stroke="#fbfbfb" stroke-width="1.1" fill="none"/>
<path d="M666.20 290.95H677.60M677.60 287.85V308.55" stroke="#fbfbfb" stroke-width="0.9" fill="none"/>
<rect x="668.30" y="290.95" width="7.4" height="15.60" fill="#5a5656"/>
<rect x="668.90" y="290.95" width="6.6" height="4.7" rx="0.8" fill="#d8d8d8"/>
<rect x="668.60" y="301.85" width="6.8" height="4.7" rx="0.8" fill="#f0f0f0"/>
<text transform="translate(678.7 294.1) rotate(90)" textLength="13.4" lengthAdjust="spacingAndGlyphs">D30</text>
<rect x="762.20" y="289.35" width="10.6" height="18.80" rx="1.5" fill="#24432f"/>
<rect x="764.30" y="278.75" width="6.4" height="38.40" fill="#24432f"/>
<rect x="761.50" y="272.75" width="12" height="12" rx="1.4" fill="#24432f"/>
<rect x="763.50" y="274.75" width="8" height="8" fill="#f7ef2e"/>
<circle cx="767.50" cy="278.75" r="1.55" fill="#9696b2"/>
<circle cx="768.00" cy="278.35" r="0.75" fill="#34343c"/>
<circle cx="767.50" cy="317.15" r="5.9" fill="#24432f"/>
<circle cx="767.50" cy="317.15" r="3.7" fill="#f7ef2e"/>
<circle cx="767.50" cy="317.15" r="1.55" fill="#9696b2"/>
<circle cx="768.00" cy="316.75" r="0.75" fill="#34343c"/>
<path d="M767.50 283.55V290.95M767.50 306.55V312.75" stroke="#fbfbfb" stroke-width="1.1" fill="none"/>
<path d="M761.70 290.95H773.10M773.10 287.85V308.55" stroke="#fbfbfb" stroke-width="0.9" fill="none"/>
<rect x="763.80" y="290.95" width="7.4" height="15.60" fill="#5a5656"/>
<rect x="764.40" y="290.95" width="6.6" height="4.7" rx="0.8" fill="#d8d8d8"/>
<rect x="764.10" y="301.85" width="6.8" height="4.7" rx="0.8" fill="#f0f0f0"/>
<text transform="translate(774.2 294.1) rotate(90)" textLength="13.4" lengthAdjust="spacingAndGlyphs">D29</text>
<rect x="857.20" y="289.35" width="10.6" height="18.80" rx="1.5" fill="#24432f"/>
<rect x="859.30" y="278.75" width="6.4" height="38.40" fill="#24432f"/>
<rect x="856.50" y="272.75" width="12" height="12" rx="1.4" fill="#24432f"/>
<rect x="858.50" y="274.75" width="8" height="8" fill="#f7ef2e"/>
<circle cx="862.50" cy="278.75" r="1.55" fill="#9696b2"/>
<circle cx="863.00" cy="278.35" r="0.75" fill="#34343c"/>
<circle cx="862.50" cy="317.15" r="5.9" fill="#24432f"/>
<circle cx="862.50" cy="317.15" r="3.7" fill="#f7ef2e"/>
<circle cx="862.50" cy="317.15" r="1.55" fill="#9696b2"/>
<circle cx="863.00" cy="316.75" r="0.75" fill="#34343c"/>
<path d="M862.50 282.95V290.95M862.50 306.55V313.15" stroke="#40632f" stroke-width="1.6" fill="none"/>
<path d="M856.90 287.85V308.55M868.20 287.85V308.55M856.90 290.75H868.20" stroke="#fbfbfb" stroke-width="0.9" fill="none"/>
<rect x="858.80" y="290.95" width="7.4" height="15.60" fill="#5a5656"/>
<rect x="859.40" y="290.95" width="6.6" height="4.7" rx="0.8" fill="#d8d8d8"/>
<rect x="859.10" y="301.85" width="6.8" height="4.7" rx="0.8" fill="#f0f0f0"/>
<text transform="translate(869.5 294.1) rotate(90)" textLength="13.4" lengthAdjust="spacingAndGlyphs">D28</text>
<rect x="952.70" y="289.35" width="10.6" height="18.80" rx="1.5" fill="#24432f"/>
<rect x="954.80" y="278.75" width="6.4" height="38.40" fill="#24432f"/>
<rect x="952.00" y="272.75" width="12" height="12" rx="1.4" fill="#24432f"/>
<rect x="954.00" y="274.75" width="8" height="8" fill="#f7ef2e"/>
<circle cx="958.00" cy="278.75" r="1.55" fill="#9696b2"/>
<circle cx="957.50" cy="278.35" r="0.75" fill="#34343c"/>
<circle cx="958.00" cy="317.15" r="5.9" fill="#24432f"/>
<circle cx="958.00" cy="317.15" r="3.7" fill="#f7ef2e"/>
<circle cx="958.00" cy="317.15" r="1.55" fill="#9696b2"/>
<circle cx="957.50" cy="316.75" r="0.75" fill="#34343c"/>
<path d="M958.00 283.55V290.95M958.00 306.55V312.75" stroke="#fbfbfb" stroke-width="1.1" fill="none"/>
<path d="M952.20 290.95H963.60M963.60 287.85V308.55" stroke="#fbfbfb" stroke-width="0.9" fill="none"/>
<rect x="954.30" y="290.95" width="7.4" height="15.60" fill="#5a5656"/>
<rect x="954.90" y="290.95" width="6.6" height="4.7" rx="0.8" fill="#d8d8d8"/>
<rect x="954.60" y="301.85" width="6.8" height="4.7" rx="0.8" fill="#f0f0f0"/>
<text transform="translate(964.7 294.1) rotate(90)" textLength="13.4" lengthAdjust="spacingAndGlyphs">D27</text>
<rect x="1047.95" y="289.35" width="10.6" height="18.80" rx="1.5" fill="#24432f"/>
<rect x="1050.05" y="278.75" width="6.4" height="38.40" fill="#24432f"/>
<rect x="1047.25" y="272.75" width="12" height="12" rx="1.4" fill="#24432f"/>
<rect x="1049.25" y="274.75" width="8" height="8" fill="#f7ef2e"/>
<circle cx="1053.25" cy="278.75" r="1.55" fill="#9696b2"/>
<circle cx="1052.75" cy="278.35" r="0.75" fill="#34343c"/>
<circle cx="1053.25" cy="317.15" r="5.9" fill="#24432f"/>
<circle cx="1053.25" cy="317.15" r="3.7" fill="#f7ef2e"/>
<circle cx="1053.25" cy="317.15" r="1.55" fill="#9696b2"/>
<circle cx="1052.75" cy="316.75" r="0.75" fill="#34343c"/>
<path d="M1053.25 283.55V290.95M1053.25 306.55V312.75" stroke="#fbfbfb" stroke-width="1.1" fill="none"/>
<path d="M1047.45 290.95H1058.85M1058.85 287.85V308.55" stroke="#fbfbfb" stroke-width="0.9" fill="none"/>
<rect x="1049.55" y="290.95" width="7.4" height="15.60" fill="#5a5656"/>
<rect x="1050.15" y="290.95" width="6.6" height="4.7" rx="0.8" fill="#d8d8d8"/>
<rect x="1049.85" y="301.85" width="6.8" height="4.7" rx="0.8" fill="#f0f0f0"/>
<text transform="translate(1060.0 294.1) rotate(90)" textLength="13.4" lengthAdjust="spacingAndGlyphs">D26</text>
<rect x="1143.45" y="289.35" width="10.6" height="18.80" rx="1.5" fill="#24432f"/>
<rect x="1145.55" y="278.75" width="6.4" height="38.40" fill="#24432f"/>
<rect x="1142.75" y="272.75" width="12" height="12" rx="1.4" fill="#24432f"/>
<rect x="1144.75" y="274.75" width="8" height="8" fill="#f7ef2e"/>
<circle cx="1148.75" cy="278.75" r="1.55" fill="#9696b2"/>
<circle cx="1148.25" cy="278.35" r="0.75" fill="#34343c"/>
<circle cx="1148.75" cy="317.15" r="5.9" fill="#24432f"/>
<circle cx="1148.75" cy="317.15" r="3.7" fill="#f7ef2e"/>
<circle cx="1148.75" cy="317.15" r="1.55" fill="#9696b2"/>
<circle cx="1148.25" cy="316.75" r="0.75" fill="#34343c"/>
<path d="M1148.75 282.95V290.95M1148.75 306.55V313.15" stroke="#40632f" stroke-width="1.6" fill="none"/>
<path d="M1143.15 287.85V308.55M1154.45 287.85V308.55M1143.15 290.75H1154.45" stroke="#fbfbfb" stroke-width="0.9" fill="none"/>
<rect x="1145.05" y="290.95" width="7.4" height="15.60" fill="#5a5656"/>
<rect x="1145.65" y="290.95" width="6.6" height="4.7" rx="0.8" fill="#d8d8d8"/>
<rect x="1145.35" y="301.85" width="6.8" height="4.7" rx="0.8" fill="#f0f0f0"/>
<text transform="translate(1155.8 294.1) rotate(90)" textLength="13.4" lengthAdjust="spacingAndGlyphs">D25</text>
<rect x="1238.45" y="289.35" width="10.6" height="18.80" rx="1.5" fill="#24432f"/>
<rect x="1240.55" y="278.75" width="6.4" height="38.40" fill="#24432f"/>
<rect x="1237.75" y="272.75" width="12" height="12" rx="1.4" fill="#24432f"/>
<rect x="1239.75" y="274.75" width="8" height="8" fill="#f7ef2e"/>
<circle cx="1243.75" cy="278.75" r="1.55" fill="#9696b2"/>
<circle cx="1243.25" cy="278.35" r="0.75" fill="#34343c"/>
<circle cx="1243.75" cy="317.15" r="5.9" fill="#24432f"/>
<circle cx="1243.75" cy="317.15" r="3.7" fill="#f7ef2e"/>
<circle cx="1243.75" cy="317.15" r="1.55" fill="#9696b2"/>
<circle cx="1243.25" cy="316.75" r="0.75" fill="#34343c"/>
<path d="M1243.75 283.55V290.95M1243.75 306.55V312.75" stroke="#fbfbfb" stroke-width="1.1" fill="none"/>
<path d="M1237.95 290.95H1249.35M1249.35 287.85V308.55" stroke="#fbfbfb" stroke-width="0.9" fill="none"/>
<rect x="1240.05" y="290.95" width="7.4" height="15.60" fill="#5a5656"/>
<rect x="1240.65" y="290.95" width="6.6" height="4.7" rx="0.8" fill="#d8d8d8"/>
<rect x="1240.35" y="301.85" width="6.8" height="4.7" rx="0.8" fill="#f0f0f0"/>
<text transform="translate(1250.5 294.1) rotate(90)" textLength="13.4" lengthAdjust="spacingAndGlyphs">D24</text>
<rect x="1333.95" y="289.35" width="10.6" height="18.80" rx="1.5" fill="#24432f"/>
<rect x="1336.05" y="278.75" width="6.4" height="38.40" fill="#24432f"/>
<rect x="1333.25" y="272.75" width="12" height="12" rx="1.4" fill="#24432f"/>
<rect x="1335.25" y="274.75" width="8" height="8" fill="#f7ef2e"/>
<circle cx="1339.25" cy="278.75" r="1.55" fill="#9696b2"/>
<circle cx="1338.75" cy="278.35" r="0.75" fill="#34343c"/>
<circle cx="1339.25" cy="317.15" r="5.9" fill="#24432f"/>
<circle cx="1339.25" cy="317.15" r="3.7" fill="#f7ef2e"/>
<circle cx="1339.25" cy="317.15" r="1.55" fill="#9696b2"/>
<circle cx="1338.75" cy="316.75" r="0.75" fill="#34343c"/>
<path d="M1339.25 283.55V290.95M1339.25 306.55V312.75" stroke="#fbfbfb" stroke-width="1.1" fill="none"/>
<path d="M1333.45 290.95H1344.85M1344.85 287.85V308.55" stroke="#fbfbfb" stroke-width="0.9" fill="none"/>
<rect x="1335.55" y="290.95" width="7.4" height="15.60" fill="#5a5656"/>
<rect x="1336.15" y="290.95" width="6.6" height="4.7" rx="0.8" fill="#d8d8d8"/>
<rect x="1335.85" y="301.85" width="6.8" height="4.7" rx="0.8" fill="#f0f0f0"/>
<text transform="translate(1346.0 294.1) rotate(90)" textLength="13.4" lengthAdjust="spacingAndGlyphs">D23</text>
<rect x="1429.30" y="289.35" width="10.6" height="18.80" rx="1.5" fill="#24432f"/>
<rect x="1431.40" y="278.75" width="6.4" height="38.40" fill="#24432f"/>
<rect x="1428.60" y="272.75" width="12" height="12" rx="1.4" fill="#24432f"/>
<rect x="1430.60" y="274.75" width="8" height="8" fill="#f7ef2e"/>
<circle cx="1434.60" cy="278.75" r="1.55" fill="#9696b2"/>
<circle cx="1434.10" cy="278.35" r="0.75" fill="#34343c"/>
<circle cx="1434.60" cy="317.15" r="5.9" fill="#24432f"/>
<circle cx="1434.60" cy="317.15" r="3.7" fill="#f7ef2e"/>
<circle cx="1434.60" cy="317.15" r="1.55" fill="#9696b2"/>
<circle cx="1434.10" cy="316.75" r="0.75" fill="#34343c"/>
<path d="M1434.60 282.95V290.95M1434.60 306.55V313.15" stroke="#40632f" stroke-width="1.6" fill="none"/>
<path d="M1429.00 287.85V308.55M1440.30 287.85V308.55M1429.00 290.75H1440.30" stroke="#fbfbfb" stroke-width="0.9" fill="none"/>
<rect x="1430.90" y="290.95" width="7.4" height="15.60" fill="#5a5656"/>
<rect x="1431.50" y="290.95" width="6.6" height="4.7" rx="0.8" fill="#d8d8d8"/>
<rect x="1431.20" y="301.85" width="6.8" height="4.7" rx="0.8" fill="#f0f0f0"/>
<text transform="translate(1441.6 294.1) rotate(90)" textLength="13.4" lengthAdjust="spacingAndGlyphs">D22</text>
<rect x="1524.60" y="289.35" width="10.6" height="18.80" rx="1.5" fill="#24432f"/>
<rect x="1526.70" y="278.75" width="6.4" height="38.40" fill="#24432f"/>
<rect x="1523.90" y="272.75" width="12" height="12" rx="1.4" fill="#24432f"/>
<rect x="1525.90" y="274.75" width="8" height="8" fill="#f7ef2e"/>
<circle cx="1529.90" cy="278.75" r="1.55" fill="#9696b2"/>
<circle cx="1529.40" cy="278.35" r="0.75" fill="#34343c"/>
<circle cx="1529.90" cy="317.15" r="5.9" fill="#24432f"/>
<circle cx="1529.90" cy="317.15" r="3.7" fill="#f7ef2e"/>
<circle cx="1529.90" cy="317.15" r="1.55" fill="#9696b2"/>
<circle cx="1529.40" cy="316.75" r="0.75" fill="#34343c"/>
<path d="M1529.90 283.55V290.95M1529.90 306.55V312.75" stroke="#fbfbfb" stroke-width="1.1" fill="none"/>
<path d="M1524.10 290.95H1535.50M1535.50 287.85V308.55" stroke="#fbfbfb" stroke-width="0.9" fill="none"/>
<rect x="1526.20" y="290.95" width="7.4" height="15.60" fill="#5a5656"/>
<rect x="1526.80" y="290.95" width="6.6" height="4.7" rx="0.8" fill="#d8d8d8"/>
<rect x="1526.50" y="301.85" width="6.8" height="4.7" rx="0.8" fill="#f0f0f0"/>
<text transform="translate(1536.6 294.1) rotate(90)" textLength="13.4" lengthAdjust="spacingAndGlyphs">D21</text>
<rect x="1619.70" y="289.35" width="10.6" height="18.80" rx="1.5" fill="#24432f"/>
<rect x="1621.80" y="278.75" width="6.4" height="38.40" fill="#24432f"/>
<rect x="1619.00" y="272.75" width="12" height="12" rx="1.4" fill="#24432f"/>
<rect x="1621.00" y="274.75" width="8" height="8" fill="#f7ef2e"/>
<circle cx="1625.00" cy="278.75" r="1.55" fill="#9696b2"/>
<circle cx="1624.50" cy="278.35" r="0.75" fill="#34343c"/>
<circle cx="1625.00" cy="317.15" r="5.9" fill="#24432f"/>
<circle cx="1625.00" cy="317.15" r="3.7" fill="#f7ef2e"/>
<circle cx="1625.00" cy="317.15" r="1.55" fill="#9696b2"/>
<circle cx="1624.50" cy="316.75" r="0.75" fill="#34343c"/>
<path d="M1625.00 283.55V290.95M1625.00 306.55V312.75" stroke="#fbfbfb" stroke-width="1.1" fill="none"/>
<path d="M1619.20 290.95H1630.60M1630.60 287.85V308.55" stroke="#fbfbfb" stroke-width="0.9" fill="none"/>
<rect x="1621.30" y="290.95" width="7.4" height="15.60" fill="#5a5656"/>
<rect x="1621.90" y="290.95" width="6.6" height="4.7" rx="0.8" fill="#d8d8d8"/>
<rect x="1621.60" y="301.85" width="6.8" height="4.7" rx="0.8" fill="#f0f0f0"/>
<text transform="translate(1631.7 294.1) rotate(90)" textLength="13.4" lengthAdjust="spacingAndGlyphs">D20</text>
<rect x="1714.90" y="289.35" width="10.6" height="18.80" rx="1.5" fill="#24432f"/>
<rect x="1717.00" y="278.75" width="6.4" height="38.40" fill="#24432f"/>
<rect x="1714.20" y="272.75" width="12" height="12" rx="1.4" fill="#24432f"/>
<rect x="1716.20" y="274.75" width="8" height="8" fill="#f7ef2e"/>
<circle cx="1720.20" cy="278.75" r="1.55" fill="#9696b2"/>
<circle cx="1719.70" cy="278.35" r="0.75" fill="#34343c"/>
<circle cx="1720.20" cy="317.15" r="5.9" fill="#24432f"/>
<circle cx="1720.20" cy="317.15" r="3.7" fill="#f7ef2e"/>
<circle cx="1720.20" cy="317.15" r="1.55" fill="#9696b2"/>
<circle cx="1719.70" cy="316.75" r="0.75" fill="#34343c"/>
<path d="M1720.20 282.95V290.95M1720.20 306.55V313.15" stroke="#40632f" stroke-width="1.6" fill="none"/>
<path d="M1714.60 287.85V308.55M1725.90 287.85V308.55M1714.60 290.75H1725.90" stroke="#fbfbfb" stroke-width="0.9" fill="none"/>
<rect x="1716.50" y="290.95" width="7.4" height="15.60" fill="#5a5656"/>
<rect x="1717.10" y="290.95" width="6.6" height="4.7" rx="0.8" fill="#d8d8d8"/>
<rect x="1716.80" y="301.85" width="6.8" height="4.7" rx="0.8" fill="#f0f0f0"/>
<text transform="translate(1727.2 294.1) rotate(90)" textLength="13.4" lengthAdjust="spacingAndGlyphs">D19</text>
<rect x="95.45" y="384.60" width="10.6" height="18.80" rx="1.5" fill="#24432f"/>
<rect x="97.55" y="374.00" width="6.4" height="38.40" fill="#24432f"/>
<rect x="94.75" y="368.00" width="12" height="12" rx="1.4" fill="#24432f"/>
<rect x="96.75" y="370.00" width="8" height="8" fill="#f7ef2e"/>
<circle cx="100.75" cy="374.00" r="1.55" fill="#9696b2"/>
<circle cx="101.25" cy="373.60" r="0.75" fill="#34343c"/>
<circle cx="100.75" cy="412.40" r="5.9" fill="#24432f"/>
<circle cx="100.75" cy="412.40" r="3.7" fill="#f7ef2e"/>
<circle cx="100.75" cy="412.40" r="1.55" fill="#9696b2"/>
<circle cx="101.25" cy="412.00" r="0.75" fill="#34343c"/>
<path d="M100.75 378.80V386.20M100.75 401.80V408.00" stroke="#fbfbfb" stroke-width="1.1" fill="none"/>
<path d="M94.95 386.20H106.35M106.35 383.10V403.80" stroke="#fbfbfb" stroke-width="0.9" fill="none"/>
<rect x="97.05" y="386.20" width="7.4" height="15.60" fill="#5a5656"/>
<rect x="97.65" y="386.20" width="6.6" height="4.7" rx="0.8" fill="#d8d8d8"/>
<rect x="97.35" y="397.10" width="6.8" height="4.7" rx="0.8" fill="#f0f0f0"/>
<text transform="translate(107.5 389.4) rotate(90)" textLength="13.4" lengthAdjust="spacingAndGlyphs">D52</text>
<rect x="190.70" y="384.60" width="10.6" height="18.80" rx="1.5" fill="#24432f"/>
<rect x="192.80" y="374.00" width="6.4" height="38.40" fill="#24432f"/>
<rect x="190.00" y="368.00" width="12" height="12" rx="1.4" fill="#24432f"/>
<rect x="192.00" y="370.00" width="8" height="8" fill="#f7ef2e"/>
<circle cx="196.00" cy="374.00" r="1.55" fill="#9696b2"/>
<circle cx="196.50" cy="373.60" r="0.75" fill="#34343c"/>
<circle cx="196.00" cy="412.40" r="5.9" fill="#24432f"/>
<circle cx="196.00" cy="412.40" r="3.7" fill="#f7ef2e"/>
<circle cx="196.00" cy="412.40" r="1.55" fill="#9696b2"/>
<circle cx="196.50" cy="412.00" r="0.75" fill="#34343c"/>
<path d="M196.00 378.80V386.20M196.00 401.80V408.00" stroke="#fbfbfb" stroke-width="1.1" fill="none"/>
<path d="M190.20 386.20H201.60M201.60 383.10V403.80" stroke="#fbfbfb" stroke-width="0.9" fill="none"/>
<rect x="192.30" y="386.20" width="7.4" height="15.60" fill="#5a5656"/>
<rect x="192.90" y="386.20" width="6.6" height="4.7" rx="0.8" fill="#d8d8d8"/>
<rect x="192.60" y="397.10" width="6.8" height="4.7" rx="0.8" fill="#f0f0f0"/>
<text transform="translate(202.7 389.4) rotate(90)" textLength="13.4" lengthAdjust="spacingAndGlyphs">D51</text>
<rect x="285.95" y="384.60" width="10.6" height="18.80" rx="1.5" fill="#24432f"/>
<rect x="288.05" y="374.00" width="6.4" height="38.40" fill="#24432f"/>
<rect x="285.25" y="368.00" width="12" height="12" rx="1.4" fill="#24432f"/>
<rect x="287.25" y="370.00" width="8" height="8" fill="#f7ef2e"/>
<circle cx="291.25" cy="374.00" r="1.55" fill="#9696b2"/>
<circle cx="291.75" cy="373.60" r="0.75" fill="#34343c"/>
<circle cx="291.25" cy="412.40" r="5.9" fill="#24432f"/>
<circle cx="291.25" cy="412.40" r="3.7" fill="#f7ef2e"/>
<circle cx="291.25" cy="412.40" r="1.55" fill="#9696b2"/>
<circle cx="291.75" cy="412.00" r="0.75" fill="#34343c"/>
<path d="M291.25 378.20V386.20M291.25 401.80V408.40" stroke="#40632f" stroke-width="1.6" fill="none"/>
<path d="M285.65 383.10V403.80M296.95 383.10V403.80M285.65 386.00H296.95" stroke="#fbfbfb" stroke-width="0.9" fill="none"/>
<rect x="287.55" y="386.20" width="7.4" height="15.60" fill="#5a5656"/>
<rect x="288.15" y="386.20" width="6.6" height="4.7" rx="0.8" fill="#d8d8d8"/>
<rect x="287.85" y="397.10" width="6.8" height="4.7" rx="0.8" fill="#f0f0f0"/>
<text transform="translate(298.2 389.4) rotate(90)" textLength="13.4" lengthAdjust="spacingAndGlyphs">D50</text>
<rect x="381.45" y="384.60" width="10.6" height="18.80" rx="1.5" fill="#24432f"/>
<rect x="383.55" y="374.00" width="6.4" height="38.40" fill="#24432f"/>
<rect x="380.75" y="368.00" width="12" height="12" rx="1.4" fill="#24432f"/>
<rect x="382.75" y="370.00" width="8" height="8" fill="#f7ef2e"/>
<circle cx="386.75" cy="374.00" r="1.55" fill="#9696b2"/>
<circle cx="387.25" cy="373.60" r="0.75" fill="#34343c"/>
<circle cx="386.75" cy="412.40" r="5.9" fill="#24432f"/>
<circle cx="386.75" cy="412.40" r="3.7" fill="#f7ef2e"/>
<circle cx="386.75" cy="412.40" r="1.55" fill="#9696b2"/>
<circle cx="387.25" cy="412.00" r="0.75" fill="#34343c"/>
<path d="M386.75 378.80V386.20M386.75 401.80V408.00" stroke="#fbfbfb" stroke-width="1.1" fill="none"/>
<path d="M380.95 386.20H392.35M392.35 383.10V403.80" stroke="#fbfbfb" stroke-width="0.9" fill="none"/>
<rect x="383.05" y="386.20" width="7.4" height="15.60" fill="#5a5656"/>
<rect x="383.65" y="386.20" width="6.6" height="4.7" rx="0.8" fill="#d8d8d8"/>
<rect x="383.35" y="397.10" width="6.8" height="4.7" rx="0.8" fill="#f0f0f0"/>
<text transform="translate(393.4 389.4) rotate(90)" textLength="13.4" lengthAdjust="spacingAndGlyphs">D49</text>
<rect x="643.45" y="384.60" width="10.6" height="18.80" rx="1.5" fill="#24432f"/>
<rect x="645.55" y="374.00" width="6.4" height="38.40" fill="#24432f"/>
<rect x="642.75" y="368.00" width="12" height="12" rx="1.4" fill="#24432f"/>
<rect x="644.75" y="370.00" width="8" height="8" fill="#f7ef2e"/>
<circle cx="648.75" cy="374.00" r="1.55" fill="#9696b2"/>
<circle cx="649.25" cy="373.60" r="0.75" fill="#34343c"/>
<circle cx="648.75" cy="412.40" r="5.9" fill="#24432f"/>
<circle cx="648.75" cy="412.40" r="3.7" fill="#f7ef2e"/>
<circle cx="648.75" cy="412.40" r="1.55" fill="#9696b2"/>
<circle cx="649.25" cy="412.00" r="0.75" fill="#34343c"/>
<path d="M648.75 378.80V386.20M648.75 401.80V408.00" stroke="#fbfbfb" stroke-width="1.1" fill="none"/>
<path d="M642.95 386.20H654.35M654.35 383.10V403.80" stroke="#fbfbfb" stroke-width="0.9" fill="none"/>
<rect x="645.05" y="386.20" width="7.4" height="15.60" fill="#5a5656"/>
<rect x="645.65" y="386.20" width="6.6" height="4.7" rx="0.8" fill="#d8d8d8"/>
<rect x="645.35" y="397.10" width="6.8" height="4.7" rx="0.8" fill="#f0f0f0"/>
<text transform="translate(655.5 389.4) rotate(90)" textLength="13.4" lengthAdjust="spacingAndGlyphs">D47</text>
<rect x="738.20" y="384.60" width="10.6" height="18.80" rx="1.5" fill="#24432f"/>
<rect x="740.30" y="374.00" width="6.4" height="38.40" fill="#24432f"/>
<rect x="737.50" y="368.00" width="12" height="12" rx="1.4" fill="#24432f"/>
<rect x="739.50" y="370.00" width="8" height="8" fill="#f7ef2e"/>
<circle cx="743.50" cy="374.00" r="1.55" fill="#9696b2"/>
<circle cx="744.00" cy="373.60" r="0.75" fill="#34343c"/>
<circle cx="743.50" cy="412.40" r="5.9" fill="#24432f"/>
<circle cx="743.50" cy="412.40" r="3.7" fill="#f7ef2e"/>
<circle cx="743.50" cy="412.40" r="1.55" fill="#9696b2"/>
<circle cx="744.00" cy="412.00" r="0.75" fill="#34343c"/>
<path d="M743.50 378.20V386.20M743.50 401.80V408.40" stroke="#40632f" stroke-width="1.6" fill="none"/>
<path d="M737.90 383.10V403.80M749.20 383.10V403.80M737.90 386.00H749.20" stroke="#fbfbfb" stroke-width="0.9" fill="none"/>
<rect x="739.80" y="386.20" width="7.4" height="15.60" fill="#5a5656"/>
<rect x="740.40" y="386.20" width="6.6" height="4.7" rx="0.8" fill="#d8d8d8"/>
<rect x="740.10" y="397.10" width="6.8" height="4.7" rx="0.8" fill="#f0f0f0"/>
<text transform="translate(750.5 389.4) rotate(90)" textLength="13.4" lengthAdjust="spacingAndGlyphs">D46</text>
<rect x="833.45" y="384.60" width="10.6" height="18.80" rx="1.5" fill="#24432f"/>
<rect x="835.55" y="374.00" width="6.4" height="38.40" fill="#24432f"/>
<rect x="832.75" y="368.00" width="12" height="12" rx="1.4" fill="#24432f"/>
<rect x="834.75" y="370.00" width="8" height="8" fill="#f7ef2e"/>
<circle cx="838.75" cy="374.00" r="1.55" fill="#9696b2"/>
<circle cx="839.25" cy="373.60" r="0.75" fill="#34343c"/>
<circle cx="838.75" cy="412.40" r="5.9" fill="#24432f"/>
<circle cx="838.75" cy="412.40" r="3.7" fill="#f7ef2e"/>
<circle cx="838.75" cy="412.40" r="1.55" fill="#9696b2"/>
<circle cx="839.25" cy="412.00" r="0.75" fill="#34343c"/>
<path d="M838.75 378.80V386.20M838.75 401.80V408.00" stroke="#fbfbfb" stroke-width="1.1" fill="none"/>
<path d="M832.95 386.20H844.35M844.35 383.10V403.80" stroke="#fbfbfb" stroke-width="0.9" fill="none"/>
<rect x="835.05" y="386.20" width="7.4" height="15.60" fill="#5a5656"/>
<rect x="835.65" y="386.20" width="6.6" height="4.7" rx="0.8" fill="#d8d8d8"/>
<rect x="835.35" y="397.10" width="6.8" height="4.7" rx="0.8" fill="#f0f0f0"/>
<text transform="translate(845.5 389.4) rotate(90)" textLength="13.4" lengthAdjust="spacingAndGlyphs">D45</text>
<rect x="928.95" y="384.60" width="10.6" height="18.80" rx="1.5" fill="#24432f"/>
<rect x="931.05" y="374.00" width="6.4" height="38.40" fill="#24432f"/>
<rect x="928.25" y="368.00" width="12" height="12" rx="1.4" fill="#24432f"/>
<rect x="930.25" y="370.00" width="8" height="8" fill="#f7ef2e"/>
<circle cx="934.25" cy="374.00" r="1.55" fill="#9696b2"/>
<circle cx="934.75" cy="373.60" r="0.75" fill="#34343c"/>
<circle cx="934.25" cy="412.40" r="5.9" fill="#24432f"/>
<circle cx="934.25" cy="412.40" r="3.7" fill="#f7ef2e"/>
<circle cx="934.25" cy="412.40" r="1.55" fill="#9696b2"/>
<circle cx="934.75" cy="412.00" r="0.75" fill="#34343c"/>
<path d="M934.25 378.80V386.20M934.25 401.80V408.00" stroke="#fbfbfb" stroke-width="1.1" fill="none"/>
<path d="M928.45 386.20H939.85M939.85 383.10V403.80" stroke="#fbfbfb" stroke-width="0.9" fill="none"/>
<rect x="930.55" y="386.20" width="7.4" height="15.60" fill="#5a5656"/>
<rect x="931.15" y="386.20" width="6.6" height="4.7" rx="0.8" fill="#d8d8d8"/>
<rect x="930.85" y="397.10" width="6.8" height="4.7" rx="0.8" fill="#f0f0f0"/>
<text transform="translate(941.0 389.4) rotate(90)" textLength="13.4" lengthAdjust="spacingAndGlyphs">D44</text>
<rect x="1024.20" y="384.60" width="10.6" height="18.80" rx="1.5" fill="#24432f"/>
<rect x="1026.30" y="374.00" width="6.4" height="38.40" fill="#24432f"/>
<rect x="1023.50" y="368.00" width="12" height="12" rx="1.4" fill="#24432f"/>
<rect x="1025.50" y="370.00" width="8" height="8" fill="#f7ef2e"/>
<circle cx="1029.50" cy="374.00" r="1.55" fill="#9696b2"/>
<circle cx="1029.00" cy="373.60" r="0.75" fill="#34343c"/>
<circle cx="1029.50" cy="412.40" r="5.9" fill="#24432f"/>
<circle cx="1029.50" cy="412.40" r="3.7" fill="#f7ef2e"/>
<circle cx="1029.50" cy="412.40" r="1.55" fill="#9696b2"/>
<circle cx="1029.00" cy="412.00" r="0.75" fill="#34343c"/>
<path d="M1029.50 378.20V386.20M1029.50 401.80V408.40" stroke="#40632f" stroke-width="1.6" fill="none"/>
<path d="M1023.90 383.10V403.80M1035.20 383.10V403.80M1023.90 386.00H1035.20" stroke="#fbfbfb" stroke-width="0.9" fill="none"/>
<rect x="1025.80" y="386.20" width="7.4" height="15.60" fill="#5a5656"/>
<rect x="1026.40" y="386.20" width="6.6" height="4.7" rx="0.8" fill="#d8d8d8"/>
<rect x="1026.10" y="397.10" width="6.8" height="4.7" rx="0.8" fill="#f0f0f0"/>
<text transform="translate(1036.5 389.4) rotate(90)" textLength="13.4" lengthAdjust="spacingAndGlyphs">D43</text>
<rect x="1119.20" y="384.60" width="10.6" height="18.80" rx="1.5" fill="#24432f"/>
<rect x="1121.30" y="374.00" width="6.4" height="38.40" fill="#24432f"/>
<rect x="1118.50" y="368.00" width="12" height="12" rx="1.4" fill="#24432f"/>
<rect x="1120.50" y="370.00" width="8" height="8" fill="#f7ef2e"/>
<circle cx="1124.50" cy="374.00" r="1.55" fill="#9696b2"/>
<circle cx="1124.00" cy="373.60" r="0.75" fill="#34343c"/>
<circle cx="1124.50" cy="412.40" r="5.9" fill="#24432f"/>
<circle cx="1124.50" cy="412.40" r="3.7" fill="#f7ef2e"/>
<circle cx="1124.50" cy="412.40" r="1.55" fill="#9696b2"/>
<circle cx="1124.00" cy="412.00" r="0.75" fill="#34343c"/>
<path d="M1124.50 378.80V386.20M1124.50 401.80V408.00" stroke="#fbfbfb" stroke-width="1.1" fill="none"/>
<path d="M1118.70 386.20H1130.10M1130.10 383.10V403.80" stroke="#fbfbfb" stroke-width="0.9" fill="none"/>
<rect x="1120.80" y="386.20" width="7.4" height="15.60" fill="#5a5656"/>
<rect x="1121.40" y="386.20" width="6.6" height="4.7" rx="0.8" fill="#d8d8d8"/>
<rect x="1121.10" y="397.10" width="6.8" height="4.7" rx="0.8" fill="#f0f0f0"/>
<text transform="translate(1131.2 389.4) rotate(90)" textLength="13.4" lengthAdjust="spacingAndGlyphs">D42</text>
<rect x="1214.70" y="384.60" width="10.6" height="18.80" rx="1.5" fill="#24432f"/>
<rect x="1216.80" y="374.00" width="6.4" height="38.40" fill="#24432f"/>
<rect x="1214.00" y="368.00" width="12" height="12" rx="1.4" fill="#24432f"/>
<rect x="1216.00" y="370.00" width="8" height="8" fill="#f7ef2e"/>
<circle cx="1220.00" cy="374.00" r="1.55" fill="#9696b2"/>
<circle cx="1219.50" cy="373.60" r="0.75" fill="#34343c"/>
<circle cx="1220.00" cy="412.40" r="5.9" fill="#24432f"/>
<circle cx="1220.00" cy="412.40" r="3.7" fill="#f7ef2e"/>
<circle cx="1220.00" cy="412.40" r="1.55" fill="#9696b2"/>
<circle cx="1219.50" cy="412.00" r="0.75" fill="#34343c"/>
<path d="M1220.00 378.80V386.20M1220.00 401.80V408.00" stroke="#fbfbfb" stroke-width="1.1" fill="none"/>
<path d="M1214.20 386.20H1225.60M1225.60 383.10V403.80" stroke="#fbfbfb" stroke-width="0.9" fill="none"/>
<rect x="1216.30" y="386.20" width="7.4" height="15.60" fill="#5a5656"/>
<rect x="1216.90" y="386.20" width="6.6" height="4.7" rx="0.8" fill="#d8d8d8"/>
<rect x="1216.60" y="397.10" width="6.8" height="4.7" rx="0.8" fill="#f0f0f0"/>
<text transform="translate(1226.7 389.4) rotate(90)" textLength="13.4" lengthAdjust="spacingAndGlyphs">D41</text>
<rect x="1309.70" y="384.60" width="10.6" height="18.80" rx="1.5" fill="#24432f"/>
<rect x="1311.80" y="374.00" width="6.4" height="38.40" fill="#24432f"/>
<rect x="1309.00" y="368.00" width="12" height="12" rx="1.4" fill="#24432f"/>
<rect x="1311.00" y="370.00" width="8" height="8" fill="#f7ef2e"/>
<circle cx="1315.00" cy="374.00" r="1.55" fill="#9696b2"/>
<circle cx="1314.50" cy="373.60" r="0.75" fill="#34343c"/>
<circle cx="1315.00" cy="412.40" r="5.9" fill="#24432f"/>
<circle cx="1315.00" cy="412.40" r="3.7" fill="#f7ef2e"/>
<circle cx="1315.00" cy="412.40" r="1.55" fill="#9696b2"/>
<circle cx="1314.50" cy="412.00" r="0.75" fill="#34343c"/>
<path d="M1315.00 378.20V386.20M1315.00 401.80V408.40" stroke="#40632f" stroke-width="1.6" fill="none"/>
<path d="M1309.40 383.10V403.80M1320.70 383.10V403.80M1309.40 386.00H1320.70" stroke="#fbfbfb" stroke-width="0.9" fill="none"/>
<rect x="1311.30" y="386.20" width="7.4" height="15.60" fill="#5a5656"/>
<rect x="1311.90" y="386.20" width="6.6" height="4.7" rx="0.8" fill="#d8d8d8"/>
<rect x="1311.60" y="397.10" width="6.8" height="4.7" rx="0.8" fill="#f0f0f0"/>
<text transform="translate(1322.0 389.4) rotate(90)" textLength="13.4" lengthAdjust="spacingAndGlyphs">D40</text>
<rect x="1405.30" y="384.60" width="10.6" height="18.80" rx="1.5" fill="#24432f"/>
<rect x="1407.40" y="374.00" width="6.4" height="38.40" fill="#24432f"/>
<rect x="1404.60" y="368.00" width="12" height="12" rx="1.4" fill="#24432f"/>
<rect x="1406.60" y="370.00" width="8" height="8" fill="#f7ef2e"/>
<circle cx="1410.60" cy="374.00" r="1.55" fill="#9696b2"/>
<circle cx="1410.10" cy="373.60" r="0.75" fill="#34343c"/>
<circle cx="1410.60" cy="412.40" r="5.9" fill="#24432f"/>
<circle cx="1410.60" cy="412.40" r="3.7" fill="#f7ef2e"/>
<circle cx="1410.60" cy="412.40" r="1.55" fill="#9696b2"/>
<circle cx="1410.10" cy="412.00" r="0.75" fill="#34343c"/>
<path d="M1410.60 378.80V386.20M1410.60 401.80V408.00" stroke="#fbfbfb" stroke-width="1.1" fill="none"/>
<path d="M1404.80 386.20H1416.20M1416.20 383.10V403.80" stroke="#fbfbfb" stroke-width="0.9" fill="none"/>
<rect x="1406.90" y="386.20" width="7.4" height="15.60" fill="#5a5656"/>
<rect x="1407.50" y="386.20" width="6.6" height="4.7" rx="0.8" fill="#d8d8d8"/>
<rect x="1407.20" y="397.10" width="6.8" height="4.7" rx="0.8" fill="#f0f0f0"/>
<text transform="translate(1417.3 389.4) rotate(90)" textLength="13.4" lengthAdjust="spacingAndGlyphs">D39</text>
<rect x="1500.60" y="384.60" width="10.6" height="18.80" rx="1.5" fill="#24432f"/>
<rect x="1502.70" y="374.00" width="6.4" height="38.40" fill="#24432f"/>
<rect x="1499.90" y="368.00" width="12" height="12" rx="1.4" fill="#24432f"/>
<rect x="1501.90" y="370.00" width="8" height="8" fill="#f7ef2e"/>
<circle cx="1505.90" cy="374.00" r="1.55" fill="#9696b2"/>
<circle cx="1505.40" cy="373.60" r="0.75" fill="#34343c"/>
<circle cx="1505.90" cy="412.40" r="5.9" fill="#24432f"/>
<circle cx="1505.90" cy="412.40" r="3.7" fill="#f7ef2e"/>
<circle cx="1505.90" cy="412.40" r="1.55" fill="#9696b2"/>
<circle cx="1505.40" cy="412.00" r="0.75" fill="#34343c"/>
<path d="M1505.90 378.80V386.20M1505.90 401.80V408.00" stroke="#fbfbfb" stroke-width="1.1" fill="none"/>
<path d="M1500.10 386.20H1511.50M1511.50 383.10V403.80" stroke="#fbfbfb" stroke-width="0.9" fill="none"/>
<rect x="1502.20" y="386.20" width="7.4" height="15.60" fill="#5a5656"/>
<rect x="1502.80" y="386.20" width="6.6" height="4.7" rx="0.8" fill="#d8d8d8"/>
<rect x="1502.50" y="397.10" width="6.8" height="4.7" rx="0.8" fill="#f0f0f0"/>
<text transform="translate(1512.6 389.4) rotate(90)" textLength="13.4" lengthAdjust="spacingAndGlyphs">D38</text>
<rect x="1595.70" y="384.60" width="10.6" height="18.80" rx="1.5" fill="#24432f"/>
<rect x="1597.80" y="374.00" width="6.4" height="38.40" fill="#24432f"/>
<rect x="1595.00" y="368.00" width="12" height="12" rx="1.4" fill="#24432f"/>
<rect x="1597.00" y="370.00" width="8" height="8" fill="#f7ef2e"/>
<circle cx="1601.00" cy="374.00" r="1.55" fill="#9696b2"/>
<circle cx="1600.50" cy="373.60" r="0.75" fill="#34343c"/>
<circle cx="1601.00" cy="412.40" r="5.9" fill="#24432f"/>
<circle cx="1601.00" cy="412.40" r="3.7" fill="#f7ef2e"/>
<circle cx="1601.00" cy="412.40" r="1.55" fill="#9696b2"/>
<circle cx="1600.50" cy="412.00" r="0.75" fill="#34343c"/>
<path d="M1601.00 378.20V386.20M1601.00 401.80V408.40" stroke="#40632f" stroke-width="1.6" fill="none"/>
<path d="M1595.40 383.10V403.80M1606.70 383.10V403.80M1595.40 386.00H1606.70" stroke="#fbfbfb" stroke-width="0.9" fill="none"/>
<rect x="1597.30" y="386.20" width="7.4" height="15.60" fill="#5a5656"/>
<rect x="1597.90" y="386.20" width="6.6" height="4.7" rx="0.8" fill="#d8d8d8"/>
<rect x="1597.60" y="397.10" width="6.8" height="4.7" rx="0.8" fill="#f0f0f0"/>
<text transform="translate(1608.0 389.4) rotate(90)" textLength="13.4" lengthAdjust="spacingAndGlyphs">D37</text>
<rect x="1690.80" y="384.60" width="10.6" height="18.80" rx="1.5" fill="#24432f"/>
<rect x="1692.90" y="374.00" width="6.4" height="38.40" fill="#24432f"/>
<rect x="1690.10" y="368.00" width="12" height="12" rx="1.4" fill="#24432f"/>
<rect x="1692.10" y="370.00" width="8" height="8" fill="#f7ef2e"/>
<circle cx="1696.10" cy="374.00" r="1.55" fill="#9696b2"/>
<circle cx="1695.60" cy="373.60" r="0.75" fill="#34343c"/>
<circle cx="1696.10" cy="412.40" r="5.9" fill="#24432f"/>
<circle cx="1696.10" cy="412.40" r="3.7" fill="#f7ef2e"/>
<circle cx="1696.10" cy="412.40" r="1.55" fill="#9696b2"/>
<circle cx="1695.60" cy="412.00" r="0.75" fill="#34343c"/>
<path d="M1696.10 378.80V386.20M1696.10 401.80V408.00" stroke="#fbfbfb" stroke-width="1.1" fill="none"/>
<path d="M1690.30 386.20H1701.70M1701.70 383.10V403.80" stroke="#fbfbfb" stroke-width="0.9" fill="none"/>
<rect x="1692.40" y="386.20" width="7.4" height="15.60" fill="#5a5656"/>
<rect x="1693.00" y="386.20" width="6.6" height="4.7" rx="0.8" fill="#d8d8d8"/>
<rect x="1692.70" y="397.10" width="6.8" height="4.7" rx="0.8" fill="#f0f0f0"/>
<text transform="translate(1702.8 389.4) rotate(90)" textLength="13.4" lengthAdjust="spacingAndGlyphs">D36</text>
<rect x="190.95" y="479.35" width="10.6" height="18.80" rx="1.5" fill="#24432f"/>
<rect x="193.05" y="468.75" width="6.4" height="38.40" fill="#24432f"/>
<rect x="190.25" y="462.75" width="12" height="12" rx="1.4" fill="#24432f"/>
<rect x="192.25" y="464.75" width="8" height="8" fill="#f7ef2e"/>
<circle cx="196.25" cy="468.75" r="1.55" fill="#9696b2"/>
<circle cx="196.75" cy="468.35" r="0.75" fill="#34343c"/>
<circle cx="196.25" cy="507.15" r="5.9" fill="#24432f"/>
<circle cx="196.25" cy="507.15" r="3.7" fill="#f7ef2e"/>
<circle cx="196.25" cy="507.15" r="1.55" fill="#9696b2"/>
<circle cx="196.75" cy="506.75" r="0.75" fill="#34343c"/>
<path d="M196.25 473.55V480.95M196.25 496.55V502.75" stroke="#fbfbfb" stroke-width="1.1" fill="none"/>
<path d="M190.45 480.95H201.85M201.85 477.85V498.55" stroke="#fbfbfb" stroke-width="0.9" fill="none"/>
<rect x="192.55" y="480.95" width="7.4" height="15.60" fill="#5a5656"/>
<rect x="193.15" y="480.95" width="6.6" height="4.7" rx="0.8" fill="#d8d8d8"/>
<rect x="192.85" y="491.85" width="6.8" height="4.7" rx="0.8" fill="#f0f0f0"/>
<text transform="translate(202.9 484.1) rotate(90)" textLength="13.4" lengthAdjust="spacingAndGlyphs">D68</text>
<rect x="285.70" y="479.35" width="10.6" height="18.80" rx="1.5" fill="#24432f"/>
<rect x="287.80" y="468.75" width="6.4" height="38.40" fill="#24432f"/>
<rect x="285.00" y="462.75" width="12" height="12" rx="1.4" fill="#24432f"/>
<rect x="287.00" y="464.75" width="8" height="8" fill="#f7ef2e"/>
<circle cx="291.00" cy="468.75" r="1.55" fill="#9696b2"/>
<circle cx="291.50" cy="468.35" r="0.75" fill="#34343c"/>
<circle cx="291.00" cy="507.15" r="5.9" fill="#24432f"/>
<circle cx="291.00" cy="507.15" r="3.7" fill="#f7ef2e"/>
<circle cx="291.00" cy="507.15" r="1.55" fill="#9696b2"/>
<circle cx="291.50" cy="506.75" r="0.75" fill="#34343c"/>
<path d="M291.00 472.95V480.95M291.00 496.55V503.15" stroke="#40632f" stroke-width="1.6" fill="none"/>
<path d="M285.40 477.85V498.55M296.70 477.85V498.55M285.40 480.75H296.70" stroke="#fbfbfb" stroke-width="0.9" fill="none"/>
<rect x="287.30" y="480.95" width="7.4" height="15.60" fill="#5a5656"/>
<rect x="287.90" y="480.95" width="6.6" height="4.7" rx="0.8" fill="#d8d8d8"/>
<rect x="287.60" y="491.85" width="6.8" height="4.7" rx="0.8" fill="#f0f0f0"/>
<text transform="translate(298.0 484.1) rotate(90)" textLength="13.4" lengthAdjust="spacingAndGlyphs">D67</text>
<rect x="381.45" y="479.35" width="10.6" height="18.80" rx="1.5" fill="#24432f"/>
<rect x="383.55" y="468.75" width="6.4" height="38.40" fill="#24432f"/>
<rect x="380.75" y="462.75" width="12" height="12" rx="1.4" fill="#24432f"/>
<rect x="382.75" y="464.75" width="8" height="8" fill="#f7ef2e"/>
<circle cx="386.75" cy="468.75" r="1.55" fill="#9696b2"/>
<circle cx="387.25" cy="468.35" r="0.75" fill="#34343c"/>
<circle cx="386.75" cy="507.15" r="5.9" fill="#24432f"/>
<circle cx="386.75" cy="507.15" r="3.7" fill="#f7ef2e"/>
<circle cx="386.75" cy="507.15" r="1.55" fill="#9696b2"/>
<circle cx="387.25" cy="506.75" r="0.75" fill="#34343c"/>
<path d="M386.75 473.55V480.95M386.75 496.55V502.75" stroke="#fbfbfb" stroke-width="1.1" fill="none"/>
<path d="M380.95 480.95H392.35M392.35 477.85V498.55" stroke="#fbfbfb" stroke-width="0.9" fill="none"/>
<rect x="383.05" y="480.95" width="7.4" height="15.60" fill="#5a5656"/>
<rect x="383.65" y="480.95" width="6.6" height="4.7" rx="0.8" fill="#d8d8d8"/>
<rect x="383.35" y="491.85" width="6.8" height="4.7" rx="0.8" fill="#f0f0f0"/>
<text transform="translate(393.4 484.1) rotate(90)" textLength="13.4" lengthAdjust="spacingAndGlyphs">D66</text>
<rect x="476.45" y="479.35" width="10.6" height="18.80" rx="1.5" fill="#24432f"/>
<rect x="478.55" y="468.75" width="6.4" height="38.40" fill="#24432f"/>
<rect x="475.75" y="462.75" width="12" height="12" rx="1.4" fill="#24432f"/>
<rect x="477.75" y="464.75" width="8" height="8" fill="#f7ef2e"/>
<circle cx="481.75" cy="468.75" r="1.55" fill="#9696b2"/>
<circle cx="482.25" cy="468.35" r="0.75" fill="#34343c"/>
<circle cx="481.75" cy="507.15" r="5.9" fill="#24432f"/>
<circle cx="481.75" cy="507.15" r="3.7" fill="#f7ef2e"/>
<circle cx="481.75" cy="507.15" r="1.55" fill="#9696b2"/>
<circle cx="482.25" cy="506.75" r="0.75" fill="#34343c"/>
<path d="M481.75 473.55V480.95M481.75 496.55V502.75" stroke="#fbfbfb" stroke-width="1.1" fill="none"/>
<path d="M475.95 480.95H487.35M487.35 477.85V498.55" stroke="#fbfbfb" stroke-width="0.9" fill="none"/>
<rect x="478.05" y="480.95" width="7.4" height="15.60" fill="#5a5656"/>
<rect x="478.65" y="480.95" width="6.6" height="4.7" rx="0.8" fill="#d8d8d8"/>
<rect x="478.35" y="491.85" width="6.8" height="4.7" rx="0.8" fill="#f0f0f0"/>
<text transform="translate(488.4 484.1) rotate(90)" textLength="13.4" lengthAdjust="spacingAndGlyphs">D65</text>
<rect x="690.95" y="479.35" width="10.6" height="18.80" rx="1.5" fill="#24432f"/>
<rect x="693.05" y="468.75" width="6.4" height="38.40" fill="#24432f"/>
<rect x="690.25" y="462.75" width="12" height="12" rx="1.4" fill="#24432f"/>
<rect x="692.25" y="464.75" width="8" height="8" fill="#f7ef2e"/>
<circle cx="696.25" cy="468.75" r="1.55" fill="#9696b2"/>
<circle cx="696.75" cy="468.35" r="0.75" fill="#34343c"/>
<circle cx="696.25" cy="507.15" r="5.9" fill="#24432f"/>
<circle cx="696.25" cy="507.15" r="3.7" fill="#f7ef2e"/>
<circle cx="696.25" cy="507.15" r="1.55" fill="#9696b2"/>
<circle cx="696.75" cy="506.75" r="0.75" fill="#34343c"/>
<path d="M696.25 472.95V480.95M696.25 496.55V503.15" stroke="#40632f" stroke-width="1.6" fill="none"/>
<path d="M690.65 477.85V498.55M701.95 477.85V498.55M690.65 480.75H701.95" stroke="#fbfbfb" stroke-width="0.9" fill="none"/>
<rect x="692.55" y="480.95" width="7.4" height="15.60" fill="#5a5656"/>
<rect x="693.15" y="480.95" width="6.6" height="4.7" rx="0.8" fill="#d8d8d8"/>
<rect x="692.85" y="491.85" width="6.8" height="4.7" rx="0.8" fill="#f0f0f0"/>
<text transform="translate(703.2 484.1) rotate(90)" textLength="13.4" lengthAdjust="spacingAndGlyphs">D64</text>
<rect x="785.95" y="479.35" width="10.6" height="18.80" rx="1.5" fill="#24432f"/>
<rect x="788.05" y="468.75" width="6.4" height="38.40" fill="#24432f"/>
<rect x="785.25" y="462.75" width="12" height="12" rx="1.4" fill="#24432f"/>
<rect x="787.25" y="464.75" width="8" height="8" fill="#f7ef2e"/>
<circle cx="791.25" cy="468.75" r="1.55" fill="#9696b2"/>
<circle cx="791.75" cy="468.35" r="0.75" fill="#34343c"/>
<circle cx="791.25" cy="507.15" r="5.9" fill="#24432f"/>
<circle cx="791.25" cy="507.15" r="3.7" fill="#f7ef2e"/>
<circle cx="791.25" cy="507.15" r="1.55" fill="#9696b2"/>
<circle cx="791.75" cy="506.75" r="0.75" fill="#34343c"/>
<path d="M791.25 473.55V480.95M791.25 496.55V502.75" stroke="#fbfbfb" stroke-width="1.1" fill="none"/>
<path d="M785.45 480.95H796.85M796.85 477.85V498.55" stroke="#fbfbfb" stroke-width="0.9" fill="none"/>
<rect x="787.55" y="480.95" width="7.4" height="15.60" fill="#5a5656"/>
<rect x="788.15" y="480.95" width="6.6" height="4.7" rx="0.8" fill="#d8d8d8"/>
<rect x="787.85" y="491.85" width="6.8" height="4.7" rx="0.8" fill="#f0f0f0"/>
<text transform="translate(798.0 484.1) rotate(90)" textLength="13.4" lengthAdjust="spacingAndGlyphs">D63</text>
<rect x="881.45" y="479.35" width="10.6" height="18.80" rx="1.5" fill="#24432f"/>
<rect x="883.55" y="468.75" width="6.4" height="38.40" fill="#24432f"/>
<rect x="880.75" y="462.75" width="12" height="12" rx="1.4" fill="#24432f"/>
<rect x="882.75" y="464.75" width="8" height="8" fill="#f7ef2e"/>
<circle cx="886.75" cy="468.75" r="1.55" fill="#9696b2"/>
<circle cx="887.25" cy="468.35" r="0.75" fill="#34343c"/>
<circle cx="886.75" cy="507.15" r="5.9" fill="#24432f"/>
<circle cx="886.75" cy="507.15" r="3.7" fill="#f7ef2e"/>
<circle cx="886.75" cy="507.15" r="1.55" fill="#9696b2"/>
<circle cx="887.25" cy="506.75" r="0.75" fill="#34343c"/>
<path d="M886.75 473.55V480.95M886.75 496.55V502.75" stroke="#fbfbfb" stroke-width="1.1" fill="none"/>
<path d="M880.95 480.95H892.35M892.35 477.85V498.55" stroke="#fbfbfb" stroke-width="0.9" fill="none"/>
<rect x="883.05" y="480.95" width="7.4" height="15.60" fill="#5a5656"/>
<rect x="883.65" y="480.95" width="6.6" height="4.7" rx="0.8" fill="#d8d8d8"/>
<rect x="883.35" y="491.85" width="6.8" height="4.7" rx="0.8" fill="#f0f0f0"/>
<text transform="translate(893.5 484.1) rotate(90)" textLength="13.4" lengthAdjust="spacingAndGlyphs">D62</text>
<rect x="976.70" y="479.35" width="10.6" height="18.80" rx="1.5" fill="#24432f"/>
<rect x="978.80" y="468.75" width="6.4" height="38.40" fill="#24432f"/>
<rect x="976.00" y="462.75" width="12" height="12" rx="1.4" fill="#24432f"/>
<rect x="978.00" y="464.75" width="8" height="8" fill="#f7ef2e"/>
<circle cx="982.00" cy="468.75" r="1.55" fill="#9696b2"/>
<circle cx="981.50" cy="468.35" r="0.75" fill="#34343c"/>
<circle cx="982.00" cy="507.15" r="5.9" fill="#24432f"/>
<circle cx="982.00" cy="507.15" r="3.7" fill="#f7ef2e"/>
<circle cx="982.00" cy="507.15" r="1.55" fill="#9696b2"/>
<circle cx="981.50" cy="506.75" r="0.75" fill="#34343c"/>
<path d="M982.00 472.95V480.95M982.00 496.55V503.15" stroke="#40632f" stroke-width="1.6" fill="none"/>
<path d="M976.40 477.85V498.55M987.70 477.85V498.55M976.40 480.75H987.70" stroke="#fbfbfb" stroke-width="0.9" fill="none"/>
<rect x="978.30" y="480.95" width="7.4" height="15.60" fill="#5a5656"/>
<rect x="978.90" y="480.95" width="6.6" height="4.7" rx="0.8" fill="#d8d8d8"/>
<rect x="978.60" y="491.85" width="6.8" height="4.7" rx="0.8" fill="#f0f0f0"/>
<text transform="translate(989.0 484.1) rotate(90)" textLength="13.4" lengthAdjust="spacingAndGlyphs">D61</text>
<rect x="1071.70" y="479.35" width="10.6" height="18.80" rx="1.5" fill="#24432f"/>
<rect x="1073.80" y="468.75" width="6.4" height="38.40" fill="#24432f"/>
<rect x="1071.00" y="462.75" width="12" height="12" rx="1.4" fill="#24432f"/>
<rect x="1073.00" y="464.75" width="8" height="8" fill="#f7ef2e"/>
<circle cx="1077.00" cy="468.75" r="1.55" fill="#9696b2"/>
<circle cx="1076.50" cy="468.35" r="0.75" fill="#34343c"/>
<circle cx="1077.00" cy="507.15" r="5.9" fill="#24432f"/>
<circle cx="1077.00" cy="507.15" r="3.7" fill="#f7ef2e"/>
<circle cx="1077.00" cy="507.15" r="1.55" fill="#9696b2"/>
<circle cx="1076.50" cy="506.75" r="0.75" fill="#34343c"/>
<path d="M1077.00 473.55V480.95M1077.00 496.55V502.75" stroke="#fbfbfb" stroke-width="1.1" fill="none"/>
<path d="M1071.20 480.95H1082.60M1082.60 477.85V498.55" stroke="#fbfbfb" stroke-width="0.9" fill="none"/>
<rect x="1073.30" y="480.95" width="7.4" height="15.60" fill="#5a5656"/>
<rect x="1073.90" y="480.95" width="6.6" height="4.7" rx="0.8" fill="#d8d8d8"/>
<rect x="1073.60" y="491.85" width="6.8" height="4.7" rx="0.8" fill="#f0f0f0"/>
<text transform="translate(1083.7 484.1) rotate(90)" textLength="13.4" lengthAdjust="spacingAndGlyphs">D60</text>
<rect x="1167.20" y="479.35" width="10.6" height="18.80" rx="1.5" fill="#24432f"/>
<rect x="1169.30" y="468.75" width="6.4" height="38.40" fill="#24432f"/>
<rect x="1166.50" y="462.75" width="12" height="12" rx="1.4" fill="#24432f"/>
<rect x="1168.50" y="464.75" width="8" height="8" fill="#f7ef2e"/>
<circle cx="1172.50" cy="468.75" r="1.55" fill="#9696b2"/>
<circle cx="1172.00" cy="468.35" r="0.75" fill="#34343c"/>
<circle cx="1172.50" cy="507.15" r="5.9" fill="#24432f"/>
<circle cx="1172.50" cy="507.15" r="3.7" fill="#f7ef2e"/>
<circle cx="1172.50" cy="507.15" r="1.55" fill="#9696b2"/>
<circle cx="1172.00" cy="506.75" r="0.75" fill="#34343c"/>
<path d="M1172.50 473.55V480.95M1172.50 496.55V502.75" stroke="#fbfbfb" stroke-width="1.1" fill="none"/>
<path d="M1166.70 480.95H1178.10M1178.10 477.85V498.55" stroke="#fbfbfb" stroke-width="0.9" fill="none"/>
<rect x="1168.80" y="480.95" width="7.4" height="15.60" fill="#5a5656"/>
<rect x="1169.40" y="480.95" width="6.6" height="4.7" rx="0.8" fill="#d8d8d8"/>
<rect x="1169.10" y="491.85" width="6.8" height="4.7" rx="0.8" fill="#f0f0f0"/>
<text transform="translate(1179.2 484.1) rotate(90)" textLength="13.4" lengthAdjust="spacingAndGlyphs">D59</text>
<rect x="1262.70" y="479.35" width="10.6" height="18.80" rx="1.5" fill="#24432f"/>
<rect x="1264.80" y="468.75" width="6.4" height="38.40" fill="#24432f"/>
<rect x="1262.00" y="462.75" width="12" height="12" rx="1.4" fill="#24432f"/>
<rect x="1264.00" y="464.75" width="8" height="8" fill="#f7ef2e"/>
<circle cx="1268.00" cy="468.75" r="1.55" fill="#9696b2"/>
<circle cx="1267.50" cy="468.35" r="0.75" fill="#34343c"/>
<circle cx="1268.00" cy="507.15" r="5.9" fill="#24432f"/>
<circle cx="1268.00" cy="507.15" r="3.7" fill="#f7ef2e"/>
<circle cx="1268.00" cy="507.15" r="1.55" fill="#9696b2"/>
<circle cx="1267.50" cy="506.75" r="0.75" fill="#34343c"/>
<path d="M1268.00 472.95V480.95M1268.00 496.55V503.15" stroke="#40632f" stroke-width="1.6" fill="none"/>
<path d="M1262.40 477.85V498.55M1273.70 477.85V498.55M1262.40 480.75H1273.70" stroke="#fbfbfb" stroke-width="0.9" fill="none"/>
<rect x="1264.30" y="480.95" width="7.4" height="15.60" fill="#5a5656"/>
<rect x="1264.90" y="480.95" width="6.6" height="4.7" rx="0.8" fill="#d8d8d8"/>
<rect x="1264.60" y="491.85" width="6.8" height="4.7" rx="0.8" fill="#f0f0f0"/>
<text transform="translate(1275.0 484.1) rotate(90)" textLength="13.4" lengthAdjust="spacingAndGlyphs">D58</text>
<rect x="1357.70" y="479.35" width="10.6" height="18.80" rx="1.5" fill="#24432f"/>
<rect x="1359.80" y="468.75" width="6.4" height="38.40" fill="#24432f"/>
<rect x="1357.00" y="462.75" width="12" height="12" rx="1.4" fill="#24432f"/>
<rect x="1359.00" y="464.75" width="8" height="8" fill="#f7ef2e"/>
<circle cx="1363.00" cy="468.75" r="1.55" fill="#9696b2"/>
<circle cx="1362.50" cy="468.35" r="0.75" fill="#34343c"/>
<circle cx="1363.00" cy="507.15" r="5.9" fill="#24432f"/>
<circle cx="1363.00" cy="507.15" r="3.7" fill="#f7ef2e"/>
<circle cx="1363.00" cy="507.15" r="1.55" fill="#9696b2"/>
<circle cx="1362.50" cy="506.75" r="0.75" fill="#34343c"/>
<path d="M1363.00 473.55V480.95M1363.00 496.55V502.75" stroke="#fbfbfb" stroke-width="1.1" fill="none"/>
<path d="M1357.20 480.95H1368.60M1368.60 477.85V498.55" stroke="#fbfbfb" stroke-width="0.9" fill="none"/>
<rect x="1359.30" y="480.95" width="7.4" height="15.60" fill="#5a5656"/>
<rect x="1359.90" y="480.95" width="6.6" height="4.7" rx="0.8" fill="#d8d8d8"/>
<rect x="1359.60" y="491.85" width="6.8" height="4.7" rx="0.8" fill="#f0f0f0"/>
<text transform="translate(1369.7 484.1) rotate(90)" textLength="13.4" lengthAdjust="spacingAndGlyphs">D57</text>
<rect x="1453.00" y="479.35" width="10.6" height="18.80" rx="1.5" fill="#24432f"/>
<rect x="1455.10" y="468.75" width="6.4" height="38.40" fill="#24432f"/>
<rect x="1452.30" y="462.75" width="12" height="12" rx="1.4" fill="#24432f"/>
<rect x="1454.30" y="464.75" width="8" height="8" fill="#f7ef2e"/>
<circle cx="1458.30" cy="468.75" r="1.55" fill="#9696b2"/>
<circle cx="1457.80" cy="468.35" r="0.75" fill="#34343c"/>
<circle cx="1458.30" cy="507.15" r="5.9" fill="#24432f"/>
<circle cx="1458.30" cy="507.15" r="3.7" fill="#f7ef2e"/>
<circle cx="1458.30" cy="507.15" r="1.55" fill="#9696b2"/>
<circle cx="1457.80" cy="506.75" r="0.75" fill="#34343c"/>
<path d="M1458.30 473.55V480.95M1458.30 496.55V502.75" stroke="#fbfbfb" stroke-width="1.1" fill="none"/>
<path d="M1452.50 480.95H1463.90M1463.90 477.85V498.55" stroke="#fbfbfb" stroke-width="0.9" fill="none"/>
<rect x="1454.60" y="480.95" width="7.4" height="15.60" fill="#5a5656"/>
<rect x="1455.20" y="480.95" width="6.6" height="4.7" rx="0.8" fill="#d8d8d8"/>
<rect x="1454.90" y="491.85" width="6.8" height="4.7" rx="0.8" fill="#f0f0f0"/>
<text transform="translate(1465.0 484.1) rotate(90)" textLength="13.4" lengthAdjust="spacingAndGlyphs">D56</text>
<rect x="1548.20" y="479.35" width="10.6" height="18.80" rx="1.5" fill="#24432f"/>
<rect x="1550.30" y="468.75" width="6.4" height="38.40" fill="#24432f"/>
<rect x="1547.50" y="462.75" width="12" height="12" rx="1.4" fill="#24432f"/>
<rect x="1549.50" y="464.75" width="8" height="8" fill="#f7ef2e"/>
<circle cx="1553.50" cy="468.75" r="1.55" fill="#9696b2"/>
<circle cx="1553.00" cy="468.35" r="0.75" fill="#34343c"/>
<circle cx="1553.50" cy="507.15" r="5.9" fill="#24432f"/>
<circle cx="1553.50" cy="507.15" r="3.7" fill="#f7ef2e"/>
<circle cx="1553.50" cy="507.15" r="1.55" fill="#9696b2"/>
<circle cx="1553.00" cy="506.75" r="0.75" fill="#34343c"/>
<path d="M1553.50 472.95V480.95M1553.50 496.55V503.15" stroke="#40632f" stroke-width="1.6" fill="none"/>
<path d="M1547.90 477.85V498.55M1559.20 477.85V498.55M1547.90 480.75H1559.20" stroke="#fbfbfb" stroke-width="0.9" fill="none"/>
<rect x="1549.80" y="480.95" width="7.4" height="15.60" fill="#5a5656"/>
<rect x="1550.40" y="480.95" width="6.6" height="4.7" rx="0.8" fill="#d8d8d8"/>
<rect x="1550.10" y="491.85" width="6.8" height="4.7" rx="0.8" fill="#f0f0f0"/>
<text transform="translate(1560.5 484.1) rotate(90)" textLength="13.4" lengthAdjust="spacingAndGlyphs">D55</text>
<rect x="1643.40" y="479.35" width="10.6" height="18.80" rx="1.5" fill="#24432f"/>
<rect x="1645.50" y="468.75" width="6.4" height="38.40" fill="#24432f"/>
<rect x="1642.70" y="462.75" width="12" height="12" rx="1.4" fill="#24432f"/>
<rect x="1644.70" y="464.75" width="8" height="8" fill="#f7ef2e"/>
<circle cx="1648.70" cy="468.75" r="1.55" fill="#9696b2"/>
<circle cx="1648.20" cy="468.35" r="0.75" fill="#34343c"/>
<circle cx="1648.70" cy="507.15" r="5.9" fill="#24432f"/>
<circle cx="1648.70" cy="507.15" r="3.7" fill="#f7ef2e"/>
<circle cx="1648.70" cy="507.15" r="1.55" fill="#9696b2"/>
<circle cx="1648.20" cy="506.75" r="0.75" fill="#34343c"/>
<path d="M1648.70 473.55V480.95M1648.70 496.55V502.75" stroke="#fbfbfb" stroke-width="1.1" fill="none"/>
<path d="M1642.90 480.95H1654.30M1654.30 477.85V498.55" stroke="#fbfbfb" stroke-width="0.9" fill="none"/>
<rect x="1645.00" y="480.95" width="7.4" height="15.60" fill="#5a5656"/>
<rect x="1645.60" y="480.95" width="6.6" height="4.7" rx="0.8" fill="#d8d8d8"/>
<rect x="1645.30" y="491.85" width="6.8" height="4.7" rx="0.8" fill="#f0f0f0"/>
<text transform="translate(1655.4 484.1) rotate(90)" textLength="13.4" lengthAdjust="spacingAndGlyphs">D54</text>
<rect x="95.45" y="574.35" width="10.6" height="18.80" rx="1.5" fill="#24432f"/>
<rect x="97.55" y="563.75" width="6.4" height="38.40" fill="#24432f"/>
<rect x="94.75" y="557.75" width="12" height="12" rx="1.4" fill="#24432f"/>
<rect x="96.75" y="559.75" width="8" height="8" fill="#f7ef2e"/>
<circle cx="100.75" cy="563.75" r="1.55" fill="#9696b2"/>
<circle cx="101.25" cy="563.35" r="0.75" fill="#34343c"/>
<circle cx="100.75" cy="602.15" r="5.9" fill="#24432f"/>
<circle cx="100.75" cy="602.15" r="3.7" fill="#f7ef2e"/>
<circle cx="100.75" cy="602.15" r="1.55" fill="#9696b2"/>
<circle cx="101.25" cy="601.75" r="0.75" fill="#34343c"/>
<path d="M100.75 568.55V575.95M100.75 591.55V597.75" stroke="#fbfbfb" stroke-width="1.1" fill="none"/>
<path d="M94.95 575.95H106.35M106.35 572.85V593.55" stroke="#fbfbfb" stroke-width="0.9" fill="none"/>
<rect x="97.05" y="575.95" width="7.4" height="15.60" fill="#5a5656"/>
<rect x="97.65" y="575.95" width="6.6" height="4.7" rx="0.8" fill="#d8d8d8"/>
<rect x="97.35" y="586.85" width="6.8" height="4.7" rx="0.8" fill="#f0f0f0"/>
<text transform="translate(107.5 579.1) rotate(90)" textLength="13.4" lengthAdjust="spacingAndGlyphs">D81</text>
<rect x="190.95" y="574.35" width="10.6" height="18.80" rx="1.5" fill="#24432f"/>
<rect x="193.05" y="563.75" width="6.4" height="38.40" fill="#24432f"/>
<rect x="190.25" y="557.75" width="12" height="12" rx="1.4" fill="#24432f"/>
<rect x="192.25" y="559.75" width="8" height="8" fill="#f7ef2e"/>
<circle cx="196.25" cy="563.75" r="1.55" fill="#9696b2"/>
<circle cx="196.75" cy="563.35" r="0.75" fill="#34343c"/>
<circle cx="196.25" cy="602.15" r="5.9" fill="#24432f"/>
<circle cx="196.25" cy="602.15" r="3.7" fill="#f7ef2e"/>
<circle cx="196.25" cy="602.15" r="1.55" fill="#9696b2"/>
<circle cx="196.75" cy="601.75" r="0.75" fill="#34343c"/>
<path d="M196.25 567.95V575.95M196.25 591.55V598.15" stroke="#40632f" stroke-width="1.6" fill="none"/>
<path d="M190.65 572.85V593.55M201.95 572.85V593.55M190.65 575.75H201.95" stroke="#fbfbfb" stroke-width="0.9" fill="none"/>
<rect x="192.55" y="575.95" width="7.4" height="15.60" fill="#5a5656"/>
<rect x="193.15" y="575.95" width="6.6" height="4.7" rx="0.8" fill="#d8d8d8"/>
<rect x="192.85" y="586.85" width="6.8" height="4.7" rx="0.8" fill="#f0f0f0"/>
<text transform="translate(203.2 579.1) rotate(90)" textLength="13.4" lengthAdjust="spacingAndGlyphs">D80</text>
<rect x="476.45" y="574.35" width="10.6" height="18.80" rx="1.5" fill="#24432f"/>
<rect x="478.55" y="563.75" width="6.4" height="38.40" fill="#24432f"/>
<rect x="475.75" y="557.75" width="12" height="12" rx="1.4" fill="#24432f"/>
<rect x="477.75" y="559.75" width="8" height="8" fill="#f7ef2e"/>
<circle cx="481.75" cy="563.75" r="1.55" fill="#9696b2"/>
<circle cx="482.25" cy="563.35" r="0.75" fill="#34343c"/>
<circle cx="481.75" cy="602.15" r="5.9" fill="#24432f"/>
<circle cx="481.75" cy="602.15" r="3.7" fill="#f7ef2e"/>
<circle cx="481.75" cy="602.15" r="1.55" fill="#9696b2"/>
<circle cx="482.25" cy="601.75" r="0.75" fill="#34343c"/>
<path d="M481.75 568.55V575.95M481.75 591.55V597.75" stroke="#fbfbfb" stroke-width="1.1" fill="none"/>
<path d="M475.95 575.95H487.35M487.35 572.85V593.55" stroke="#fbfbfb" stroke-width="0.9" fill="none"/>
<rect x="478.05" y="575.95" width="7.4" height="15.60" fill="#5a5656"/>
<rect x="478.65" y="575.95" width="6.6" height="4.7" rx="0.8" fill="#d8d8d8"/>
<rect x="478.35" y="586.85" width="6.8" height="4.7" rx="0.8" fill="#f0f0f0"/>
<text transform="translate(488.4 579.1) rotate(90)" textLength="13.4" lengthAdjust="spacingAndGlyphs">D79</text>
<rect x="571.70" y="574.35" width="10.6" height="18.80" rx="1.5" fill="#24432f"/>
<rect x="573.80" y="563.75" width="6.4" height="38.40" fill="#24432f"/>
<rect x="571.00" y="557.75" width="12" height="12" rx="1.4" fill="#24432f"/>
<rect x="573.00" y="559.75" width="8" height="8" fill="#f7ef2e"/>
<circle cx="577.00" cy="563.75" r="1.55" fill="#9696b2"/>
<circle cx="577.50" cy="563.35" r="0.75" fill="#34343c"/>
<circle cx="577.00" cy="602.15" r="5.9" fill="#24432f"/>
<circle cx="577.00" cy="602.15" r="3.7" fill="#f7ef2e"/>
<circle cx="577.00" cy="602.15" r="1.55" fill="#9696b2"/>
<circle cx="577.50" cy="601.75" r="0.75" fill="#34343c"/>
<path d="M577.00 568.55V575.95M577.00 591.55V597.75" stroke="#fbfbfb" stroke-width="1.1" fill="none"/>
<path d="M571.20 575.95H582.60M582.60 572.85V593.55" stroke="#fbfbfb" stroke-width="0.9" fill="none"/>
<rect x="573.30" y="575.95" width="7.4" height="15.60" fill="#5a5656"/>
<rect x="573.90" y="575.95" width="6.6" height="4.7" rx="0.8" fill="#d8d8d8"/>
<rect x="573.60" y="586.85" width="6.8" height="4.7" rx="0.8" fill="#f0f0f0"/>
<text transform="translate(583.7 579.1) rotate(90)" textLength="13.4" lengthAdjust="spacingAndGlyphs">D78</text>
<rect x="666.70" y="574.35" width="10.6" height="18.80" rx="1.5" fill="#24432f"/>
<rect x="668.80" y="563.75" width="6.4" height="38.40" fill="#24432f"/>
<rect x="666.00" y="557.75" width="12" height="12" rx="1.4" fill="#24432f"/>
<rect x="668.00" y="559.75" width="8" height="8" fill="#f7ef2e"/>
<circle cx="672.00" cy="563.75" r="1.55" fill="#9696b2"/>
<circle cx="672.50" cy="563.35" r="0.75" fill="#34343c"/>
<circle cx="672.00" cy="602.15" r="5.9" fill="#24432f"/>
<circle cx="672.00" cy="602.15" r="3.7" fill="#f7ef2e"/>
<circle cx="672.00" cy="602.15" r="1.55" fill="#9696b2"/>
<circle cx="672.50" cy="601.75" r="0.75" fill="#34343c"/>
<path d="M672.00 567.95V575.95M672.00 591.55V598.15" stroke="#40632f" stroke-width="1.6" fill="none"/>
<path d="M666.40 572.85V593.55M677.70 572.85V593.55M666.40 575.75H677.70" stroke="#fbfbfb" stroke-width="0.9" fill="none"/>
<rect x="668.30" y="575.95" width="7.4" height="15.60" fill="#5a5656"/>
<rect x="668.90" y="575.95" width="6.6" height="4.7" rx="0.8" fill="#d8d8d8"/>
<rect x="668.60" y="586.85" width="6.8" height="4.7" rx="0.8" fill="#f0f0f0"/>
<text transform="translate(679.0 579.1) rotate(90)" textLength="13.4" lengthAdjust="spacingAndGlyphs">D77</text>
<rect x="762.20" y="574.35" width="10.6" height="18.80" rx="1.5" fill="#24432f"/>
<rect x="764.30" y="563.75" width="6.4" height="38.40" fill="#24432f"/>
<rect x="761.50" y="557.75" width="12" height="12" rx="1.4" fill="#24432f"/>
<rect x="763.50" y="559.75" width="8" height="8" fill="#f7ef2e"/>
<circle cx="767.50" cy="563.75" r="1.55" fill="#9696b2"/>
<circle cx="768.00" cy="563.35" r="0.75" fill="#34343c"/>
<circle cx="767.50" cy="602.15" r="5.9" fill="#24432f"/>
<circle cx="767.50" cy="602.15" r="3.7" fill="#f7ef2e"/>
<circle cx="767.50" cy="602.15" r="1.55" fill="#9696b2"/>
<circle cx="768.00" cy="601.75" r="0.75" fill="#34343c"/>
<path d="M767.50 568.55V575.95M767.50 591.55V597.75" stroke="#fbfbfb" stroke-width="1.1" fill="none"/>
<path d="M761.70 575.95H773.10M773.10 572.85V593.55" stroke="#fbfbfb" stroke-width="0.9" fill="none"/>
<rect x="763.80" y="575.95" width="7.4" height="15.60" fill="#5a5656"/>
<rect x="764.40" y="575.95" width="6.6" height="4.7" rx="0.8" fill="#d8d8d8"/>
<rect x="764.10" y="586.85" width="6.8" height="4.7" rx="0.8" fill="#f0f0f0"/>
<text transform="translate(774.2 579.1) rotate(90)" textLength="13.4" lengthAdjust="spacingAndGlyphs">D76</text>
<rect x="857.20" y="574.35" width="10.6" height="18.80" rx="1.5" fill="#24432f"/>
<rect x="859.30" y="563.75" width="6.4" height="38.40" fill="#24432f"/>
<rect x="856.50" y="557.75" width="12" height="12" rx="1.4" fill="#24432f"/>
<rect x="858.50" y="559.75" width="8" height="8" fill="#f7ef2e"/>
<circle cx="862.50" cy="563.75" r="1.55" fill="#9696b2"/>
<circle cx="863.00" cy="563.35" r="0.75" fill="#34343c"/>
<circle cx="862.50" cy="602.15" r="5.9" fill="#24432f"/>
<circle cx="862.50" cy="602.15" r="3.7" fill="#f7ef2e"/>
<circle cx="862.50" cy="602.15" r="1.55" fill="#9696b2"/>
<circle cx="863.00" cy="601.75" r="0.75" fill="#34343c"/>
<path d="M862.50 568.55V575.95M862.50 591.55V597.75" stroke="#fbfbfb" stroke-width="1.1" fill="none"/>
<path d="M856.70 575.95H868.10M868.10 572.85V593.55" stroke="#fbfbfb" stroke-width="0.9" fill="none"/>
<rect x="858.80" y="575.95" width="7.4" height="15.60" fill="#5a5656"/>
<rect x="859.40" y="575.95" width="6.6" height="4.7" rx="0.8" fill="#d8d8d8"/>
<rect x="859.10" y="586.85" width="6.8" height="4.7" rx="0.8" fill="#f0f0f0"/>
<text transform="translate(869.2 579.1) rotate(90)" textLength="13.4" lengthAdjust="spacingAndGlyphs">D75</text>
<rect x="1095.95" y="574.35" width="10.6" height="18.80" rx="1.5" fill="#24432f"/>
<rect x="1098.05" y="563.75" width="6.4" height="38.40" fill="#24432f"/>
<rect x="1095.25" y="557.75" width="12" height="12" rx="1.4" fill="#24432f"/>
<rect x="1097.25" y="559.75" width="8" height="8" fill="#f7ef2e"/>
<circle cx="1101.25" cy="563.75" r="1.55" fill="#9696b2"/>
<circle cx="1100.75" cy="563.35" r="0.75" fill="#34343c"/>
<circle cx="1101.25" cy="602.15" r="5.9" fill="#24432f"/>
<circle cx="1101.25" cy="602.15" r="3.7" fill="#f7ef2e"/>
<circle cx="1101.25" cy="602.15" r="1.55" fill="#9696b2"/>
<circle cx="1100.75" cy="601.75" r="0.75" fill="#34343c"/>
<path d="M1101.25 567.95V575.95M1101.25 591.55V598.15" stroke="#40632f" stroke-width="1.6" fill="none"/>
<path d="M1095.65 572.85V593.55M1106.95 572.85V593.55M1095.65 575.75H1106.95" stroke="#fbfbfb" stroke-width="0.9" fill="none"/>
<rect x="1097.55" y="575.95" width="7.4" height="15.60" fill="#5a5656"/>
<rect x="1098.15" y="575.95" width="6.6" height="4.7" rx="0.8" fill="#d8d8d8"/>
<rect x="1097.85" y="586.85" width="6.8" height="4.7" rx="0.8" fill="#f0f0f0"/>
<text transform="translate(1108.2 579.1) rotate(90)" textLength="13.4" lengthAdjust="spacingAndGlyphs">D74</text>
<rect x="1405.40" y="574.35" width="10.6" height="18.80" rx="1.5" fill="#24432f"/>
<rect x="1407.50" y="563.75" width="6.4" height="38.40" fill="#24432f"/>
<rect x="1404.70" y="557.75" width="12" height="12" rx="1.4" fill="#24432f"/>
<rect x="1406.70" y="559.75" width="8" height="8" fill="#f7ef2e"/>
<circle cx="1410.70" cy="563.75" r="1.55" fill="#9696b2"/>
<circle cx="1410.20" cy="563.35" r="0.75" fill="#34343c"/>
<circle cx="1410.70" cy="602.15" r="5.9" fill="#24432f"/>
<circle cx="1410.70" cy="602.15" r="3.7" fill="#f7ef2e"/>
<circle cx="1410.70" cy="602.15" r="1.55" fill="#9696b2"/>
<circle cx="1410.20" cy="601.75" r="0.75" fill="#34343c"/>
<path d="M1410.70 568.55V575.95M1410.70 591.55V597.75" stroke="#fbfbfb" stroke-width="1.1" fill="none"/>
<path d="M1404.90 575.95H1416.30M1416.30 572.85V593.55" stroke="#fbfbfb" stroke-width="0.9" fill="none"/>
<rect x="1407.00" y="575.95" width="7.4" height="15.60" fill="#5a5656"/>
<rect x="1407.60" y="575.95" width="6.6" height="4.7" rx="0.8" fill="#d8d8d8"/>
<rect x="1407.30" y="586.85" width="6.8" height="4.7" rx="0.8" fill="#f0f0f0"/>
<text transform="translate(1417.4 579.1) rotate(90)" textLength="13.4" lengthAdjust="spacingAndGlyphs">D73</text>
<rect x="1500.60" y="574.35" width="10.6" height="18.80" rx="1.5" fill="#24432f"/>
<rect x="1502.70" y="563.75" width="6.4" height="38.40" fill="#24432f"/>
<rect x="1499.90" y="557.75" width="12" height="12" rx="1.4" fill="#24432f"/>
<rect x="1501.90" y="559.75" width="8" height="8" fill="#f7ef2e"/>
<circle cx="1505.90" cy="563.75" r="1.55" fill="#9696b2"/>
<circle cx="1505.40" cy="563.35" r="0.75" fill="#34343c"/>
<circle cx="1505.90" cy="602.15" r="5.9" fill="#24432f"/>
<circle cx="1505.90" cy="602.15" r="3.7" fill="#f7ef2e"/>
<circle cx="1505.90" cy="602.15" r="1.55" fill="#9696b2"/>
<circle cx="1505.40" cy="601.75" r="0.75" fill="#34343c"/>
<path d="M1505.90 568.55V575.95M1505.90 591.55V597.75" stroke="#fbfbfb" stroke-width="1.1" fill="none"/>
<path d="M1500.10 575.95H1511.50M1511.50 572.85V593.55" stroke="#fbfbfb" stroke-width="0.9" fill="none"/>
<rect x="1502.20" y="575.95" width="7.4" height="15.60" fill="#5a5656"/>
<rect x="1502.80" y="575.95" width="6.6" height="4.7" rx="0.8" fill="#d8d8d8"/>
<rect x="1502.50" y="586.85" width="6.8" height="4.7" rx="0.8" fill="#f0f0f0"/>
<text transform="translate(1512.6 579.1) rotate(90)" textLength="13.4" lengthAdjust="spacingAndGlyphs">D72</text>
<rect x="1762.80" y="574.35" width="10.6" height="18.80" rx="1.5" fill="#24432f"/>
<rect x="1764.90" y="563.75" width="6.4" height="38.40" fill="#24432f"/>
<rect x="1762.10" y="557.75" width="12" height="12" rx="1.4" fill="#24432f"/>
<rect x="1764.10" y="559.75" width="8" height="8" fill="#f7ef2e"/>
<circle cx="1768.10" cy="563.75" r="1.55" fill="#9696b2"/>
<circle cx="1767.60" cy="563.35" r="0.75" fill="#34343c"/>
<circle cx="1768.10" cy="602.15" r="5.9" fill="#24432f"/>
<circle cx="1768.10" cy="602.15" r="3.7" fill="#f7ef2e"/>
<circle cx="1768.10" cy="602.15" r="1.55" fill="#9696b2"/>
<circle cx="1767.60" cy="601.75" r="0.75" fill="#34343c"/>
<path d="M1768.10 567.95V575.95M1768.10 591.55V598.15" stroke="#40632f" stroke-width="1.6" fill="none"/>
<path d="M1762.50 572.85V593.55M1773.80 572.85V593.55M1762.50 575.75H1773.80" stroke="#fbfbfb" stroke-width="0.9" fill="none"/>
<rect x="1764.40" y="575.95" width="7.4" height="15.60" fill="#5a5656"/>
<rect x="1765.00" y="575.95" width="6.6" height="4.7" rx="0.8" fill="#d8d8d8"/>
<rect x="1764.70" y="586.85" width="6.8" height="4.7" rx="0.8" fill="#f0f0f0"/>
<text transform="translate(1775.1 579.1) rotate(90)" textLength="13.4" lengthAdjust="spacingAndGlyphs">D70</text>
<rect x="1667.00" y="539.20" width="10.6" height="18.80" rx="1.5" fill="#24432f"/>
<rect x="1669.10" y="528.60" width="6.4" height="38.40" fill="#24432f"/>
<rect x="1666.30" y="522.60" width="12" height="12" rx="1.4" fill="#24432f"/>
<rect x="1668.30" y="524.60" width="8" height="8" fill="#f7ef2e"/>
<circle cx="1672.30" cy="528.60" r="1.55" fill="#9696b2"/>
<circle cx="1671.80" cy="528.20" r="0.75" fill="#34343c"/>
<circle cx="1672.30" cy="567.00" r="5.9" fill="#24432f"/>
<circle cx="1672.30" cy="567.00" r="3.7" fill="#f7ef2e"/>
<circle cx="1672.30" cy="567.00" r="1.55" fill="#9696b2"/>
<circle cx="1671.80" cy="566.60" r="0.75" fill="#34343c"/>
<path d="M1672.30 532.80V540.80M1672.30 556.40V563.00" stroke="#40632f" stroke-width="1.6" fill="none"/>
<path d="M1666.70 537.70V558.40M1678.00 537.70V558.40M1666.70 540.60H1678.00" stroke="#fbfbfb" stroke-width="0.9" fill="none"/>
<rect x="1668.60" y="540.80" width="7.4" height="15.60" fill="#5a5656"/>
<rect x="1669.20" y="540.80" width="6.6" height="4.7" rx="0.8" fill="#d8d8d8"/>
<rect x="1668.90" y="551.70" width="6.8" height="4.7" rx="0.8" fill="#f0f0f0"/>
<text transform="translate(1679.3 544.0) rotate(90)" textLength="13.4" lengthAdjust="spacingAndGlyphs">D71</text>
<rect x="1238.45" y="82.60" width="10.6" height="18.80" rx="1.5" fill="#24432f"/>
<rect x="1240.55" y="72.00" width="6.4" height="38.40" fill="#24432f"/>
<rect x="1237.75" y="66.00" width="12" height="12" rx="1.4" fill="#24432f"/>
<rect x="1239.75" y="68.00" width="8" height="8" fill="#f7ef2e"/>
<circle cx="1243.75" cy="72.00" r="1.55" fill="#9696b2"/>
<circle cx="1243.25" cy="71.60" r="0.75" fill="#34343c"/>
<circle cx="1243.75" cy="110.40" r="5.9" fill="#24432f"/>
<circle cx="1243.75" cy="110.40" r="3.7" fill="#f7ef2e"/>
<circle cx="1243.75" cy="110.40" r="1.55" fill="#9696b2"/>
<circle cx="1243.25" cy="110.00" r="0.75" fill="#34343c"/>
<path d="M1243.75 76.20V84.20M1243.75 99.80V106.40" stroke="#40632f" stroke-width="1.6" fill="none"/>
<path d="M1238.15 81.10V101.80M1249.45 81.10V101.80M1238.15 84.00H1249.45" stroke="#fbfbfb" stroke-width="0.9" fill="none"/>
<rect x="1240.05" y="84.20" width="7.4" height="15.60" fill="#5a5656"/>
<rect x="1240.65" y="84.20" width="6.6" height="4.7" rx="0.8" fill="#d8d8d8"/>
<rect x="1240.35" y="95.10" width="6.8" height="4.7" rx="0.8" fill="#f0f0f0"/>
<text transform="translate(1250.8 87.4) rotate(90)" textLength="13.4" lengthAdjust="spacingAndGlyphs">D53</text>
<rect x="544.00" y="388.00" width="12" height="12" rx="1.4" fill="#24432f"/>
<rect x="546.00" y="390.00" width="8" height="8" fill="#f7ef2e"/>
<circle cx="550.00" cy="394.00" r="1.55" fill="#9696b2"/>
<circle cx="550.50" cy="393.60" r="0.75" fill="#34343c"/>
<circle cx="511.25" cy="394.00" r="5.6" fill="#24432f"/>
<circle cx="511.25" cy="394.00" r="3.4" fill="#f7ef2e"/>
<circle cx="511.25" cy="394.00" r="1.55" fill="#9696b2"/>
<circle cx="511.75" cy="393.60" r="0.75" fill="#34343c"/>
<path d="M515.25 394.00H522.62M538.62 394.00H545.50" stroke="#fbfbfb" stroke-width="1" fill="none"/>
<rect x="520.12" y="388.10" width="21" height="11.4" stroke="#fbfbfb" stroke-width="0.9" fill="none"/>
<rect x="522.62" y="390.00" width="16" height="8" fill="#4c4c4c"/>
<rect x="522.62" y="390.00" width="3.6" height="8" fill="#cfcfcf"/>
<rect x="535.02" y="390.00" width="3.6" height="8" fill="#cfcfcf"/>
<text x="524.1" y="406.2">D48</text>
<rect x="67.00" y="471.50" width="12" height="12" rx="1.4" fill="#24432f"/>
<rect x="69.00" y="473.50" width="8" height="8" fill="#f7ef2e"/>
<circle cx="73.00" cy="477.50" r="1.55" fill="#9696b2"/>
<circle cx="73.50" cy="477.10" r="0.75" fill="#34343c"/>
<circle cx="35.00" cy="477.50" r="5.6" fill="#24432f"/>
<circle cx="35.00" cy="477.50" r="3.4" fill="#f7ef2e"/>
<circle cx="35.00" cy="477.50" r="1.55" fill="#9696b2"/>
<circle cx="35.50" cy="477.10" r="0.75" fill="#34343c"/>
<path d="M39.00 477.50H46.00M62.00 477.50H68.50" stroke="#fbfbfb" stroke-width="1" fill="none"/>
<rect x="43.50" y="471.60" width="21" height="11.4" stroke="#fbfbfb" stroke-width="0.9" fill="none"/>
<rect x="46.00" y="473.50" width="16" height="8" fill="#4c4c4c"/>
<rect x="46.00" y="473.50" width="3.6" height="8" fill="#cfcfcf"/>
<rect x="58.40" y="473.50" width="3.6" height="8" fill="#cfcfcf"/>
<text x="47.5" y="489.7">D69</text>
</g>
<g id="headers">
<rect x="225.10" y="149.40" width="12.4" height="12.4" fill="#24432f"/>
<rect x="226.60" y="150.90" width="9.4" height="9.4" fill="#f7ef2e"/>
<circle cx="231.90" cy="155.80" r="2.3" fill="#3a3418"/>
<circle cx="230.90" cy="155.40" r="1.3" fill="#c9b870"/>
<circle cx="244.30" cy="155.60" r="6.3" fill="#24432f"/>
<circle cx="244.30" cy="155.60" r="4.7" fill="#f7ef2e"/>
<circle cx="244.90" cy="155.80" r="2.3" fill="#3a3418"/>
<circle cx="243.90" cy="155.40" r="1.3" fill="#c9b870"/>
<circle cx="256.80" cy="155.60" r="6.3" fill="#24432f"/>
<circle cx="256.80" cy="155.60" r="4.7" fill="#f7ef2e"/>
<circle cx="257.40" cy="155.80" r="2.3" fill="#3a3418"/>
<circle cx="256.40" cy="155.40" r="1.3" fill="#c9b870"/>
<circle cx="269.30" cy="155.60" r="6.3" fill="#24432f"/>
<circle cx="269.30" cy="155.60" r="4.7" fill="#f7ef2e"/>
<circle cx="269.90" cy="155.80" r="2.3" fill="#3a3418"/>
<circle cx="268.90" cy="155.40" r="1.3" fill="#c9b870"/>
<circle cx="282.00" cy="155.60" r="6.3" fill="#24432f"/>
<circle cx="282.00" cy="155.60" r="4.7" fill="#f7ef2e"/>
<circle cx="282.60" cy="155.80" r="2.3" fill="#3a3418"/>
<circle cx="281.60" cy="155.40" r="1.3" fill="#c9b870"/>
<circle cx="295.00" cy="155.60" r="6.3" fill="#24432f"/>
<circle cx="295.00" cy="155.60" r="4.7" fill="#f7ef2e"/>
<circle cx="295.60" cy="155.80" r="2.3" fill="#3a3418"/>
<circle cx="294.60" cy="155.40" r="1.3" fill="#c9b870"/>
<rect x="226.70" y="105.50" width="4.2" height="30.00" fill="url(#pin)"/>
<rect x="239.50" y="105.50" width="4.2" height="30.00" fill="url(#pin)"/>
<rect x="252.40" y="105.50" width="4.2" height="30.00" fill="url(#pin)"/>
<rect x="265.00" y="105.50" width="4.2" height="30.00" fill="url(#pin)"/>
<rect x="277.70" y="105.50" width="4.2" height="30.00" fill="url(#pin)"/>
<rect x="290.90" y="105.50" width="4.2" height="30.00" fill="url(#pin)"/>
<rect x="221.00" y="134.50" width="79.80" height="12.70" fill="#5a5a5a"/>
<rect x="232.10" y="134.50" width="2.2" height="12.70" fill="#2a2a2a"/>
<rect x="245.40" y="134.50" width="2.2" height="12.70" fill="#2a2a2a"/>
<rect x="258.70" y="134.50" width="2.2" height="12.70" fill="#2a2a2a"/>
<rect x="272.00" y="134.50" width="2.2" height="12.70" fill="#2a2a2a"/>
<rect x="285.30" y="134.50" width="2.2" height="12.70" fill="#2a2a2a"/>
<rect x="298.60" y="134.50" width="2.2" height="12.70" fill="#2a2a2a"/>
<rect x="298.20" y="134.50" width="2.6" height="12.70" fill="#1c1c1c"/>
<rect x="227.00" y="147" width="4" height="8.5" fill="url(#pin)"/>
<rect x="239.80" y="147" width="4" height="8.5" fill="url(#pin)"/>
<rect x="252.70" y="147" width="4" height="8.5" fill="url(#pin)"/>
<rect x="265.30" y="147" width="4" height="8.5" fill="url(#pin)"/>
<rect x="278.00" y="147" width="4" height="8.5" fill="url(#pin)"/>
<rect x="291.20" y="147" width="4" height="8.5" fill="url(#pin)"/>
<circle cx="1608.90" cy="156.00" r="6.3" fill="#24432f"/>
<circle cx="1608.90" cy="156.00" r="4.7" fill="#f7ef2e"/>
<circle cx="1609.50" cy="156.20" r="2.3" fill="#3a3418"/>
<circle cx="1608.50" cy="155.80" r="1.3" fill="#c9b870"/>
<circle cx="1621.70" cy="156.00" r="6.3" fill="#24432f"/>
<circle cx="1621.70" cy="156.00" r="4.7" fill="#f7ef2e"/>
<circle cx="1622.30" cy="156.20" r="2.3" fill="#3a3418"/>
<circle cx="1621.30" cy="155.80" r="1.3" fill="#c9b870"/>
<circle cx="1634.20" cy="156.00" r="6.3" fill="#24432f"/>
<circle cx="1634.20" cy="156.00" r="4.7" fill="#f7ef2e"/>
<circle cx="1634.80" cy="156.20" r="2.3" fill="#3a3418"/>
<circle cx="1633.80" cy="155.80" r="1.3" fill="#c9b870"/>
<circle cx="1647.00" cy="156.00" r="6.3" fill="#24432f"/>
<circle cx="1647.00" cy="156.00" r="4.7" fill="#f7ef2e"/>
<circle cx="1647.60" cy="156.20" r="2.3" fill="#3a3418"/>
<circle cx="1646.60" cy="155.80" r="1.3" fill="#c9b870"/>
<circle cx="1659.50" cy="156.00" r="6.3" fill="#24432f"/>
<circle cx="1659.50" cy="156.00" r="4.7" fill="#f7ef2e"/>
<circle cx="1660.10" cy="156.20" r="2.3" fill="#3a3418"/>
<circle cx="1659.10" cy="155.80" r="1.3" fill="#c9b870"/>
<rect x="1666.10" y="149.80" width="12.4" height="12.4" fill="#24432f"/>
<rect x="1667.60" y="151.30" width="9.4" height="9.4" fill="#f7ef2e"/>
<circle cx="1672.90" cy="156.20" r="2.3" fill="#3a3418"/>
<circle cx="1671.90" cy="155.80" r="1.3" fill="#c9b870"/>
<rect x="1601.90" y="107.20" width="4.2" height="30.40" fill="url(#pin)"/>
<rect x="1614.80" y="107.20" width="4.2" height="30.40" fill="url(#pin)"/>
<rect x="1627.30" y="107.20" width="4.2" height="30.40" fill="url(#pin)"/>
<rect x="1640.10" y="107.20" width="4.2" height="30.40" fill="url(#pin)"/>
<rect x="1652.60" y="107.20" width="4.2" height="30.40" fill="url(#pin)"/>
<rect x="1665.20" y="107.20" width="4.2" height="30.40" fill="url(#pin)"/>
<rect x="1596.00" y="136.60" width="78.80" height="9.80" fill="#5a5a5a"/>
<rect x="1606.93" y="136.60" width="2.2" height="9.80" fill="#2a2a2a"/>
<rect x="1620.07" y="136.60" width="2.2" height="9.80" fill="#2a2a2a"/>
<rect x="1633.20" y="136.60" width="2.2" height="9.80" fill="#2a2a2a"/>
<rect x="1646.33" y="136.60" width="2.2" height="9.80" fill="#2a2a2a"/>
<rect x="1659.47" y="136.60" width="2.2" height="9.80" fill="#2a2a2a"/>
<rect x="1672.60" y="136.60" width="2.2" height="9.80" fill="#2a2a2a"/>
<rect x="1596.00" y="136.60" width="4" height="9.80" fill="#0c0c0c"/>
</g>
<g id="texts">
<g font-family="'Liberation Serif', serif" font-weight="bold" font-size="23.5" stroke-linejoin="round">
<text x="194.3" y="544.4" textLength="67.5" lengthAdjust="spacingAndGlyphs" fill="#fbfbfb" stroke="#fbfbfb" stroke-width="2.9">ALPS</text>
<text x="194.3" y="544.4" textLength="67.5" lengthAdjust="spacingAndGlyphs" fill="#40632f" stroke="#40632f" stroke-width="1.2">ALPS</text>
</g>
<path d="M1158.5 570.5c-2-1.6-5-1.6-7 0.3c-2.6 2.4-2.6 8 -0.6 11.6c1.4 2.6 3.6 3.8 5.4 3c1.4-0.6 2.6-0.6 4 0c1.8 0.8 3.8-0.6 5-3M1158.6 569.6c0-2 1.2-3.6 3-4.2" fill="none" stroke="#fbfbfb" stroke-width="0.9" stroke-dasharray="2.2 1.1"/>
<text x="1163" y="580.3" font-family="'Liberation Sans', sans-serif" font-weight="bold" font-size="15.4" textLength="137" lengthAdjust="spacingAndGlyphs" fill="none" stroke="#ffffff" stroke-width="0.8" stroke-dasharray="3.2 0.7">apple computer inc.</text>
<text x="1309.5" y="579.8" font-family="'Liberation Sans', sans-serif" font-size="8.6" textLength="28" lengthAdjust="spacingAndGlyphs" fill="#dcdcdc">©1986</text>
<text x="1713.5" y="617.2" font-family="'Liberation Mono', monospace" font-size="8.8" textLength="90" lengthAdjust="spacingAndGlyphs" fill="#d8d8d8">PWB 820-0211-A</text>
<text transform="translate(216.8 131.5) rotate(60)" font-family="'Liberation Sans', sans-serif" font-size="5.5" fill="#fbfbfb">J6</text>
<text transform="translate(1679.5 133) rotate(75)" font-family="'Liberation Sans', sans-serif" font-size="5.5" fill="#fbfbfb">J1</text>
</g>
</svg>
</body>
</html>
